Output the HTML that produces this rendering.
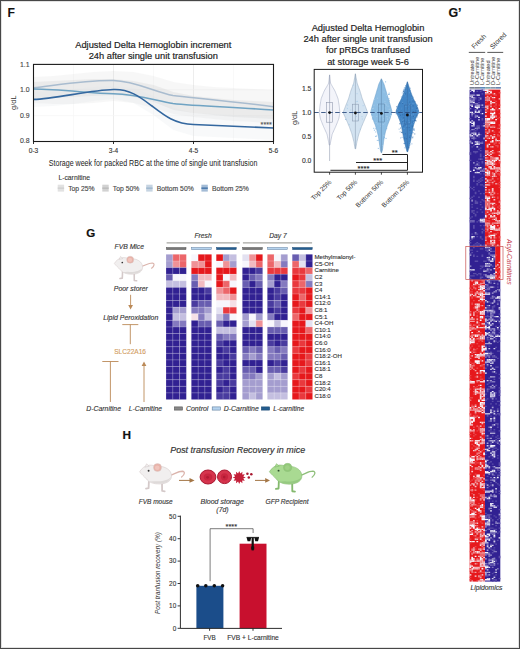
<!DOCTYPE html>
<html><head><meta charset="utf-8"><style>
html,body{margin:0;padding:0;background:#fff;}
svg{display:block;font-family:'Liberation Sans', sans-serif;}
html,body{overflow:hidden;}
</style></head><body>
<svg width="520" height="649" viewBox="0 0 520 649" shape-rendering="auto">
<rect x="0" y="0" width="520" height="649" fill="#fff"/>
<text x="153.3" y="47.9" font-size="9.3" text-anchor="middle" fill="#222" stroke="#222" stroke-width="0.18" font-style="normal" font-weight="normal" >Adjusted Delta Hemoglobin increment</text>
<text x="153.3" y="58.5" font-size="9.3" text-anchor="middle" fill="#222" stroke="#222" stroke-width="0.18" font-style="normal" font-weight="normal" >24h after single unit transfusion</text>
<line x1="73.5" y1="64.4" x2="73.5" y2="141.5" stroke="#f7f7f7" stroke-width="0.8"/>
<line x1="113.5" y1="64.4" x2="113.5" y2="141.5" stroke="#e9e9e9" stroke-width="0.8"/>
<line x1="153.5" y1="64.4" x2="153.5" y2="141.5" stroke="#f7f7f7" stroke-width="0.8"/>
<line x1="193.5" y1="64.4" x2="193.5" y2="141.5" stroke="#e9e9e9" stroke-width="0.8"/>
<line x1="233.5" y1="64.4" x2="233.5" y2="141.5" stroke="#f7f7f7" stroke-width="0.8"/>
<line x1="33.5" y1="89.8" x2="273.5" y2="89.8" stroke="#f6f6f6" stroke-width="0.7"/>
<line x1="33.5" y1="115.6" x2="273.5" y2="115.6" stroke="#f6f6f6" stroke-width="0.7"/>
<path d="M33.5,77 L53.5,76 L73.5,74 L93.5,72 L113.5,71 L133.5,72 L153.5,76 L173.5,82 L193.5,85 L213.5,87 L233.5,88 L253.5,89 L273.5,90 L273.5,124 L253.5,122 L233.5,121 L213.5,119 L193.5,117 L173.5,114 L153.5,108 L133.5,103 L113.5,101 L93.5,103 L73.5,104 L53.5,104 L33.5,103 Z" fill="#cccccc" fill-opacity="0.16"/>
<path d="M33.5,82 L53.5,81 L73.5,80 L93.5,79 L113.5,79 L133.5,81 L153.5,85 L173.5,92 L193.5,96 L213.5,98 L233.5,100 L253.5,101 L273.5,102 L273.5,119 L253.5,118 L233.5,117 L213.5,115 L193.5,113 L173.5,110 L153.5,102 L133.5,97 L113.5,95 L93.5,96 L73.5,97 L53.5,98 L33.5,98 Z" fill="#c0c0c0" fill-opacity="0.2"/>
<path d="M33.5,92 L53.5,91 L73.5,89 L93.5,87 L113.5,86 L133.5,88 L153.5,96 L173.5,108 L193.5,113 L213.5,114 L233.5,115 L253.5,116 L273.5,117 L273.5,140 L253.5,139 L233.5,138 L213.5,137 L193.5,136 L173.5,130 L153.5,115 L133.5,103 L113.5,99 L93.5,101 L73.5,104 L53.5,106 L33.5,107 Z" fill="#dde2ea" fill-opacity="0.22"/>
<path d="M33.5,87.8 C55,85.5 85,80 113.5,80.5 C135,81 155,92 173,95.5 C195,98 230,101 273.5,106.8" fill="none" stroke="#a9bccf" stroke-width="1.5"/>
<path d="M33.5,89.1 C60,89.5 90,93 113.5,93.8 C135,94.5 150,99 173,103.5 C195,106 230,107 273.5,110" fill="none" stroke="#6fa3c3" stroke-width="1.5"/>
<path d="M33.5,99.4 C55,99 90,90 113.5,89.5 C130,89 140,97 152,106 C165,116 175,124 193.5,124.5 C220,125.5 250,127 273.5,128" fill="none" stroke="#33679f" stroke-width="1.6"/>
<rect x="33.5" y="64.4" width="240.0" height="77.1" fill="none" stroke="#1a1a1a" stroke-width="1.1"/>
<text x="29.6" y="66.7" font-size="6.9" text-anchor="end" fill="#444" stroke="#444" stroke-width="0.12" font-style="normal" font-weight="normal" >1.1</text>
<text x="29.6" y="92.1" font-size="6.9" text-anchor="end" fill="#444" stroke="#444" stroke-width="0.12" font-style="normal" font-weight="normal" >1.0</text>
<text x="29.6" y="117.5" font-size="6.9" text-anchor="end" fill="#444" stroke="#444" stroke-width="0.12" font-style="normal" font-weight="normal" >0.9</text>
<text x="29.6" y="142.9" font-size="6.9" text-anchor="end" fill="#444" stroke="#444" stroke-width="0.12" font-style="normal" font-weight="normal" >0.8</text>
<text x="0" y="0" font-size="7.4" fill="#333" text-anchor="middle" transform="translate(15.9,102.7) rotate(-90)">g/dL</text>
<line x1="33.5" y1="141.5" x2="33.5" y2="144.0" stroke="#1a1a1a" stroke-width="0.9"/>
<text x="33.5" y="152.9" font-size="6.6" text-anchor="middle" fill="#333" stroke="#333" stroke-width="0.12" font-style="normal" font-weight="normal" >0-3</text>
<line x1="113.5" y1="141.5" x2="113.5" y2="144.0" stroke="#1a1a1a" stroke-width="0.9"/>
<text x="113.5" y="152.9" font-size="6.6" text-anchor="middle" fill="#333" stroke="#333" stroke-width="0.12" font-style="normal" font-weight="normal" >3-4</text>
<line x1="193.5" y1="141.5" x2="193.5" y2="144.0" stroke="#1a1a1a" stroke-width="0.9"/>
<text x="193.5" y="152.9" font-size="6.6" text-anchor="middle" fill="#333" stroke="#333" stroke-width="0.12" font-style="normal" font-weight="normal" >4-5</text>
<line x1="273.5" y1="141.5" x2="273.5" y2="144.0" stroke="#1a1a1a" stroke-width="0.9"/>
<text x="273.5" y="152.9" font-size="6.6" text-anchor="middle" fill="#333" stroke="#333" stroke-width="0.12" font-style="normal" font-weight="normal" >5-6</text>
<text x="266.2" y="127.2" font-size="7.2" text-anchor="middle" fill="#555" stroke="#555" stroke-width="0.12" font-style="normal" font-weight="normal" >****</text>
<text x="0" y="0" font-size="8.9" fill="#222" transform="translate(48.8,165.7) scale(0.797,1)">Storage week for packed RBC at the time of single unit transfusion</text>
<text x="58.4" y="180.1" font-size="6.8" text-anchor="start" fill="#3a3a3a" stroke="#3a3a3a" stroke-width="0.12" font-style="normal" font-weight="normal" >L-carnitine</text>
<rect x="57.7" y="184.7" width="6.4" height="6.9" fill="#e2e2e2"/>
<line x1="57.7" y1="188.15" x2="64.10000000000001" y2="188.15" stroke="#cfcfcf" stroke-width="1.3"/>
<text x="68.2" y="190.6" font-size="6.8" text-anchor="start" fill="#444" stroke="#444" stroke-width="0.12" font-style="normal" font-weight="normal" >Top 25%</text>
<rect x="102.3" y="184.7" width="6.4" height="6.9" fill="#d2d2d2"/>
<line x1="102.3" y1="188.15" x2="108.7" y2="188.15" stroke="#b8b8b8" stroke-width="1.3"/>
<text x="112.8" y="190.6" font-size="6.8" text-anchor="start" fill="#444" stroke="#444" stroke-width="0.12" font-style="normal" font-weight="normal" >Top 50%</text>
<rect x="146.2" y="184.7" width="6.4" height="6.9" fill="#c6d4e2"/>
<line x1="146.2" y1="188.15" x2="152.6" y2="188.15" stroke="#9ab4cc" stroke-width="1.3"/>
<text x="156.7" y="190.6" font-size="6.8" text-anchor="start" fill="#444" stroke="#444" stroke-width="0.12" font-style="normal" font-weight="normal" >Bottom 50%</text>
<rect x="201.4" y="184.7" width="6.4" height="6.9" fill="#a4bcd6"/>
<line x1="201.4" y1="188.15" x2="207.8" y2="188.15" stroke="#3a6ca4" stroke-width="1.3"/>
<text x="211.9" y="190.6" font-size="6.8" text-anchor="start" fill="#444" stroke="#444" stroke-width="0.12" font-style="normal" font-weight="normal" >Bottom 25%</text>
<text x="368" y="31.0" font-size="9.3" text-anchor="middle" fill="#222" stroke="#222" stroke-width="0.18" font-style="normal" font-weight="normal" >Adjusted Delta Hemoglobin</text>
<text x="368" y="42.2" font-size="9.3" text-anchor="middle" fill="#222" stroke="#222" stroke-width="0.18" font-style="normal" font-weight="normal" >24h after single unit transfusion</text>
<text x="368" y="53.4" font-size="9.3" text-anchor="middle" fill="#222" stroke="#222" stroke-width="0.18" font-style="normal" font-weight="normal" >for pRBCs tranfused</text>
<text x="368" y="64.6" font-size="9.3" text-anchor="middle" fill="#222" stroke="#222" stroke-width="0.18" font-style="normal" font-weight="normal" >at storage week 5-6</text>
<path d="M329.60,74.90 L329.74,76.07 L329.87,77.24 L330.01,78.41 L330.15,79.57 L330.29,80.74 L330.42,81.91 L330.56,83.08 L331.09,84.25 L331.77,85.42 L332.44,86.58 L333.12,87.75 L333.80,88.92 L334.47,90.09 L335.10,91.26 L335.57,92.43 L336.03,93.59 L336.50,94.76 L336.96,95.93 L337.42,97.10 L337.89,98.27 L338.20,99.44 L338.38,100.60 L338.56,101.77 L338.75,102.94 L338.93,104.11 L339.11,105.28 L339.29,106.45 L339.41,107.61 L339.52,108.78 L339.64,109.95 L339.75,111.12 L339.87,112.29 L339.75,113.45 L339.54,114.62 L339.33,115.79 L339.13,116.96 L338.92,118.13 L338.60,119.30 L338.13,120.47 L337.66,121.63 L337.19,122.80 L336.72,123.97 L336.25,125.14 L335.78,126.31 L335.26,127.47 L334.73,128.64 L334.19,129.81 L333.66,130.98 L333.13,132.15 L332.60,133.32 L332.14,134.49 L331.89,135.65 L331.65,136.82 L331.40,137.99 L331.16,139.16 L330.91,140.33 L330.66,141.50 L330.44,142.66 L330.22,143.83 L330.00,145.00 L329.20,145.00 L328.98,143.83 L328.76,142.66 L328.54,141.50 L328.29,140.33 L328.04,139.16 L327.80,137.99 L327.55,136.82 L327.31,135.65 L327.06,134.49 L326.60,133.32 L326.07,132.15 L325.54,130.98 L325.01,129.81 L324.47,128.64 L323.94,127.47 L323.42,126.31 L322.95,125.14 L322.48,123.97 L322.01,122.80 L321.54,121.63 L321.07,120.47 L320.60,119.30 L320.28,118.13 L320.07,116.96 L319.87,115.79 L319.66,114.62 L319.45,113.45 L319.33,112.29 L319.45,111.12 L319.56,109.95 L319.68,108.78 L319.79,107.61 L319.91,106.45 L320.09,105.28 L320.27,104.11 L320.45,102.94 L320.64,101.77 L320.82,100.60 L321.00,99.44 L321.31,98.27 L321.78,97.10 L322.24,95.93 L322.70,94.76 L323.17,93.59 L323.63,92.43 L324.10,91.26 L324.73,90.09 L325.40,88.92 L326.08,87.75 L326.76,86.58 L327.43,85.42 L328.11,84.25 L328.64,83.08 L328.78,81.91 L328.91,80.74 L329.05,79.57 L329.19,78.41 L329.33,77.24 L329.46,76.07 L329.60,74.90 Z" fill="#f3f4fa" stroke="#aab2c8" stroke-width="0.6" stroke-linejoin="round"/>
<line x1="329.6" y1="74.9" x2="329.6" y2="161.0" stroke="#8a93a8" stroke-width="0.55"/>
<rect x="326.70000000000005" y="102.6" width="5.8" height="19.60000000000001" fill="none" stroke="#8a93a8" stroke-width="0.55"/>
<path d="M355.40,73.80 L355.63,75.05 L355.87,76.30 L356.10,77.55 L356.34,78.80 L356.57,80.05 L356.81,81.30 L357.04,82.55 L357.35,83.80 L357.81,85.05 L358.27,86.30 L358.73,87.55 L359.19,88.80 L359.65,90.05 L360.09,91.30 L360.46,92.55 L360.83,93.80 L361.19,95.05 L361.56,96.30 L361.93,97.55 L362.30,98.80 L362.80,100.05 L363.31,101.30 L363.81,102.55 L364.31,103.80 L364.82,105.05 L365.32,106.30 L365.80,107.55 L366.27,108.80 L366.74,110.05 L367.21,111.30 L367.68,112.55 L367.16,113.80 L366.59,115.05 L366.03,116.30 L365.46,117.55 L364.90,118.80 L364.36,120.05 L363.83,121.30 L363.29,122.55 L362.76,123.80 L362.22,125.05 L361.69,126.30 L361.22,127.55 L360.76,128.80 L360.31,130.05 L359.85,131.30 L359.40,132.55 L358.95,133.80 L358.59,135.05 L358.27,136.30 L357.96,137.55 L357.65,138.80 L357.34,140.05 L357.02,141.30 L356.77,142.55 L356.56,143.80 L356.34,145.05 L356.13,146.30 L355.91,147.55 L355.70,148.80 L355.10,148.80 L354.89,147.55 L354.67,146.30 L354.46,145.05 L354.24,143.80 L354.03,142.55 L353.77,141.30 L353.46,140.05 L353.15,138.80 L352.84,137.55 L352.52,136.30 L352.21,135.05 L351.85,133.80 L351.40,132.55 L350.95,131.30 L350.49,130.05 L350.04,128.80 L349.58,127.55 L349.11,126.30 L348.58,125.05 L348.04,123.80 L347.51,122.55 L346.97,121.30 L346.44,120.05 L345.90,118.80 L345.34,117.55 L344.77,116.30 L344.21,115.05 L343.64,113.80 L343.12,112.55 L343.59,111.30 L344.06,110.05 L344.53,108.80 L345.00,107.55 L345.48,106.30 L345.98,105.05 L346.49,103.80 L346.99,102.55 L347.49,101.30 L348.00,100.05 L348.50,98.80 L348.87,97.55 L349.24,96.30 L349.61,95.05 L349.97,93.80 L350.34,92.55 L350.71,91.30 L351.15,90.05 L351.61,88.80 L352.07,87.55 L352.53,86.30 L352.99,85.05 L353.45,83.80 L353.76,82.55 L353.99,81.30 L354.23,80.05 L354.46,78.80 L354.70,77.55 L354.93,76.30 L355.17,75.05 L355.40,73.80 Z" fill="#d3e3f1" stroke="#9fb4c8" stroke-width="0.6" stroke-linejoin="round"/>
<rect x="345.1" y="118.9" width="1.1" height="1.1" fill="#7fb3df" fill-opacity="0.7"/>
<rect x="350.2" y="109.5" width="1.1" height="1.1" fill="#a9cdea" fill-opacity="0.7"/>
<rect x="347.0" y="104.5" width="1.1" height="1.1" fill="#a9cdea" fill-opacity="0.7"/>
<rect x="359.3" y="111.1" width="1.1" height="1.1" fill="#a9cdea" fill-opacity="0.7"/>
<rect x="356.9" y="100.8" width="1.1" height="1.1" fill="#a9cdea" fill-opacity="0.7"/>
<rect x="357.5" y="119.7" width="1.1" height="1.1" fill="#a9cdea" fill-opacity="0.7"/>
<rect x="356.2" y="101.1" width="1.1" height="1.1" fill="#a9cdea" fill-opacity="0.7"/>
<rect x="356.5" y="93.1" width="1.1" height="1.1" fill="#a9cdea" fill-opacity="0.7"/>
<rect x="348.8" y="124.0" width="1.1" height="1.1" fill="#a9cdea" fill-opacity="0.7"/>
<rect x="362.6" y="105.1" width="1.1" height="1.1" fill="#a9cdea" fill-opacity="0.7"/>
<rect x="359.8" y="128.6" width="1.1" height="1.1" fill="#a9cdea" fill-opacity="0.7"/>
<rect x="361.4" y="116.0" width="1.1" height="1.1" fill="#a9cdea" fill-opacity="0.7"/>
<rect x="352.8" y="84.8" width="1.1" height="1.1" fill="#a9cdea" fill-opacity="0.7"/>
<rect x="355.9" y="115.9" width="1.1" height="1.1" fill="#a9cdea" fill-opacity="0.7"/>
<rect x="346.9" y="107.9" width="1.1" height="1.1" fill="#a9cdea" fill-opacity="0.7"/>
<rect x="361.8" y="118.5" width="1.1" height="1.1" fill="#a9cdea" fill-opacity="0.7"/>
<line x1="355.4" y1="73.8" x2="355.4" y2="148.8" stroke="#8a9ab0" stroke-width="0.55"/>
<rect x="352.5" y="104.2" width="5.8" height="16.799999999999997" fill="none" stroke="#8a9ab0" stroke-width="0.55"/>
<path d="M381.40,78.80 L382.00,80.03 L382.61,81.26 L383.21,82.49 L383.81,83.72 L384.21,84.95 L384.57,86.18 L384.94,87.41 L385.30,88.64 L385.67,89.87 L386.03,91.10 L386.40,92.33 L386.76,93.56 L387.13,94.79 L387.50,96.02 L387.87,97.25 L388.24,98.48 L388.61,99.71 L388.99,100.94 L389.36,102.17 L389.73,103.40 L390.11,104.63 L390.45,105.86 L390.79,107.09 L391.12,108.32 L391.46,109.55 L391.80,110.78 L391.86,112.01 L391.53,113.24 L391.19,114.47 L390.86,115.70 L390.53,116.93 L390.19,118.16 L389.75,119.39 L389.27,120.62 L388.79,121.85 L388.31,123.08 L387.83,124.31 L387.36,125.54 L386.98,126.77 L386.61,128.00 L386.23,129.23 L385.86,130.46 L385.49,131.69 L385.18,132.92 L384.93,134.15 L384.68,135.38 L384.44,136.61 L384.19,137.84 L383.95,139.07 L383.76,140.30 L383.60,141.53 L383.43,142.76 L383.26,143.99 L383.09,145.22 L382.92,146.45 L382.76,147.68 L382.59,148.91 L382.42,150.14 L382.07,151.37 L381.70,152.60 L381.10,152.60 L380.73,151.37 L380.38,150.14 L380.21,148.91 L380.04,147.68 L379.88,146.45 L379.71,145.22 L379.54,143.99 L379.37,142.76 L379.20,141.53 L379.04,140.30 L378.85,139.07 L378.61,137.84 L378.36,136.61 L378.12,135.38 L377.87,134.15 L377.62,132.92 L377.31,131.69 L376.94,130.46 L376.57,129.23 L376.19,128.00 L375.82,126.77 L375.44,125.54 L374.97,124.31 L374.49,123.08 L374.01,121.85 L373.53,120.62 L373.05,119.39 L372.61,118.16 L372.27,116.93 L371.94,115.70 L371.61,114.47 L371.27,113.24 L370.94,112.01 L371.00,110.78 L371.34,109.55 L371.68,108.32 L372.01,107.09 L372.35,105.86 L372.69,104.63 L373.07,103.40 L373.44,102.17 L373.81,100.94 L374.19,99.71 L374.56,98.48 L374.93,97.25 L375.30,96.02 L375.67,94.79 L376.04,93.56 L376.40,92.33 L376.77,91.10 L377.13,89.87 L377.50,88.64 L377.86,87.41 L378.23,86.18 L378.59,84.95 L378.99,83.72 L379.59,82.49 L380.19,81.26 L380.80,80.03 L381.40,78.80 Z" fill="#8cbde3" stroke="#6ea3cf" stroke-width="0.6" stroke-linejoin="round"/>
<rect x="385.4" y="113.1" width="1.1" height="1.1" fill="#a9cdea" fill-opacity="0.7"/>
<rect x="386.8" y="112.0" width="1.1" height="1.1" fill="#a9cdea" fill-opacity="0.7"/>
<rect x="383.5" y="112.1" width="1.1" height="1.1" fill="#a9cdea" fill-opacity="0.7"/>
<rect x="387.7" y="111.5" width="1.1" height="1.1" fill="#a9cdea" fill-opacity="0.7"/>
<rect x="388.7" y="93.9" width="1.1" height="1.1" fill="#7fb3df" fill-opacity="0.7"/>
<rect x="389.2" y="116.8" width="1.1" height="1.1" fill="#a9cdea" fill-opacity="0.7"/>
<rect x="388.3" y="98.0" width="1.1" height="1.1" fill="#7fb3df" fill-opacity="0.7"/>
<rect x="373.3" y="100.4" width="1.1" height="1.1" fill="#a9cdea" fill-opacity="0.7"/>
<rect x="390.9" y="114.0" width="1.1" height="1.1" fill="#7fb3df" fill-opacity="0.7"/>
<rect x="386.7" y="116.0" width="1.1" height="1.1" fill="#a9cdea" fill-opacity="0.7"/>
<rect x="373.8" y="99.0" width="1.1" height="1.1" fill="#a9cdea" fill-opacity="0.7"/>
<rect x="377.0" y="104.3" width="1.1" height="1.1" fill="#a9cdea" fill-opacity="0.7"/>
<rect x="371.0" y="114.2" width="1.1" height="1.1" fill="#7fb3df" fill-opacity="0.7"/>
<rect x="383.3" y="118.1" width="1.1" height="1.1" fill="#a9cdea" fill-opacity="0.7"/>
<rect x="375.2" y="131.4" width="1.1" height="1.1" fill="#7fb3df" fill-opacity="0.7"/>
<rect x="389.6" y="108.6" width="1.1" height="1.1" fill="#a9cdea" fill-opacity="0.7"/>
<rect x="373.9" y="129.7" width="1.1" height="1.1" fill="#7fb3df" fill-opacity="0.7"/>
<rect x="386.1" y="104.5" width="1.1" height="1.1" fill="#a9cdea" fill-opacity="0.7"/>
<rect x="390.0" y="114.9" width="1.1" height="1.1" fill="#a9cdea" fill-opacity="0.7"/>
<rect x="372.9" y="107.8" width="1.1" height="1.1" fill="#a9cdea" fill-opacity="0.7"/>
<rect x="384.3" y="107.4" width="1.1" height="1.1" fill="#a9cdea" fill-opacity="0.7"/>
<rect x="386.1" y="128.0" width="1.1" height="1.1" fill="#7fb3df" fill-opacity="0.7"/>
<rect x="377.3" y="123.4" width="1.1" height="1.1" fill="#a9cdea" fill-opacity="0.7"/>
<rect x="388.6" y="92.6" width="1.1" height="1.1" fill="#7fb3df" fill-opacity="0.7"/>
<rect x="387.0" y="119.0" width="1.1" height="1.1" fill="#a9cdea" fill-opacity="0.7"/>
<rect x="387.5" y="105.7" width="1.1" height="1.1" fill="#a9cdea" fill-opacity="0.7"/>
<rect x="381.6" y="145.0" width="1.1" height="1.1" fill="#a9cdea" fill-opacity="0.7"/>
<rect x="377.0" y="97.7" width="1.1" height="1.1" fill="#a9cdea" fill-opacity="0.7"/>
<rect x="373.2" y="127.8" width="1.1" height="1.1" fill="#7fb3df" fill-opacity="0.7"/>
<rect x="385.5" y="137.9" width="1.1" height="1.1" fill="#7fb3df" fill-opacity="0.7"/>
<rect x="383.9" y="137.0" width="1.1" height="1.1" fill="#7fb3df" fill-opacity="0.7"/>
<rect x="375.2" y="128.2" width="1.1" height="1.1" fill="#7fb3df" fill-opacity="0.7"/>
<rect x="370.9" y="110.4" width="1.1" height="1.1" fill="#a9cdea" fill-opacity="0.7"/>
<rect x="386.0" y="116.0" width="1.1" height="1.1" fill="#a9cdea" fill-opacity="0.7"/>
<rect x="380.0" y="123.5" width="1.1" height="1.1" fill="#a9cdea" fill-opacity="0.7"/>
<rect x="375.6" y="122.0" width="1.1" height="1.1" fill="#a9cdea" fill-opacity="0.7"/>
<rect x="385.2" y="103.4" width="1.1" height="1.1" fill="#a9cdea" fill-opacity="0.7"/>
<rect x="386.8" y="117.6" width="1.1" height="1.1" fill="#a9cdea" fill-opacity="0.7"/>
<rect x="372.0" y="108.0" width="1.1" height="1.1" fill="#a9cdea" fill-opacity="0.7"/>
<rect x="388.0" y="93.9" width="1.1" height="1.1" fill="#7fb3df" fill-opacity="0.7"/>
<rect x="375.1" y="135.9" width="1.1" height="1.1" fill="#7fb3df" fill-opacity="0.7"/>
<rect x="381.2" y="115.6" width="1.1" height="1.1" fill="#a9cdea" fill-opacity="0.7"/>
<rect x="372.1" y="115.8" width="1.1" height="1.1" fill="#a9cdea" fill-opacity="0.7"/>
<rect x="380.2" y="116.2" width="1.1" height="1.1" fill="#a9cdea" fill-opacity="0.7"/>
<rect x="383.5" y="91.4" width="1.1" height="1.1" fill="#a9cdea" fill-opacity="0.7"/>
<rect x="384.4" y="100.8" width="1.1" height="1.1" fill="#a9cdea" fill-opacity="0.7"/>
<rect x="381.0" y="112.2" width="1.1" height="1.1" fill="#a9cdea" fill-opacity="0.7"/>
<rect x="388.6" y="109.0" width="1.1" height="1.1" fill="#a9cdea" fill-opacity="0.7"/>
<rect x="385.9" y="94.6" width="1.1" height="1.1" fill="#a9cdea" fill-opacity="0.7"/>
<rect x="385.0" y="81.3" width="1.1" height="1.1" fill="#7fb3df" fill-opacity="0.7"/>
<rect x="384.3" y="103.0" width="1.1" height="1.1" fill="#a9cdea" fill-opacity="0.7"/>
<rect x="377.8" y="147.9" width="1.1" height="1.1" fill="#7fb3df" fill-opacity="0.7"/>
<rect x="389.0" y="117.5" width="1.1" height="1.1" fill="#a9cdea" fill-opacity="0.7"/>
<rect x="378.2" y="105.9" width="1.1" height="1.1" fill="#a9cdea" fill-opacity="0.7"/>
<rect x="376.2" y="115.9" width="1.1" height="1.1" fill="#a9cdea" fill-opacity="0.7"/>
<rect x="378.0" y="139.7" width="1.1" height="1.1" fill="#7fb3df" fill-opacity="0.7"/>
<rect x="371.9" y="118.4" width="1.1" height="1.1" fill="#7fb3df" fill-opacity="0.7"/>
<rect x="384.2" y="122.4" width="1.1" height="1.1" fill="#a9cdea" fill-opacity="0.7"/>
<rect x="376.8" y="139.9" width="1.1" height="1.1" fill="#7fb3df" fill-opacity="0.7"/>
<rect x="381.8" y="110.3" width="1.1" height="1.1" fill="#a9cdea" fill-opacity="0.7"/>
<rect x="388.7" y="99.8" width="1.1" height="1.1" fill="#7fb3df" fill-opacity="0.7"/>
<rect x="383.3" y="134.8" width="1.1" height="1.1" fill="#a9cdea" fill-opacity="0.7"/>
<rect x="382.7" y="123.9" width="1.1" height="1.1" fill="#a9cdea" fill-opacity="0.7"/>
<rect x="373.5" y="104.6" width="1.1" height="1.1" fill="#a9cdea" fill-opacity="0.7"/>
<rect x="380.0" y="125.7" width="1.1" height="1.1" fill="#a9cdea" fill-opacity="0.7"/>
<rect x="389.3" y="111.2" width="1.1" height="1.1" fill="#a9cdea" fill-opacity="0.7"/>
<rect x="375.9" y="135.5" width="1.1" height="1.1" fill="#7fb3df" fill-opacity="0.7"/>
<rect x="371.1" y="112.9" width="1.1" height="1.1" fill="#a9cdea" fill-opacity="0.7"/>
<line x1="381.4" y1="78.8" x2="381.4" y2="152.6" stroke="#5f86ab" stroke-width="0.55"/>
<rect x="378.5" y="104.0" width="5.8" height="18.0" fill="none" stroke="#5f86ab" stroke-width="0.55"/>
<path d="M407.40,81.80 L407.78,82.97 L408.16,84.13 L408.54,85.30 L408.92,86.47 L409.30,87.63 L409.68,88.80 L410.06,89.97 L410.45,91.13 L410.89,92.30 L411.32,93.47 L411.76,94.63 L412.19,95.80 L412.63,96.97 L413.12,98.13 L413.71,99.30 L414.30,100.47 L414.90,101.63 L415.49,102.80 L416.08,103.97 L416.59,105.13 L417.02,106.30 L417.44,107.47 L417.86,108.63 L418.28,109.80 L418.71,110.97 L418.61,112.13 L418.08,113.30 L417.54,114.47 L417.01,115.63 L416.48,116.80 L415.94,117.97 L415.49,119.13 L415.10,120.30 L414.71,121.47 L414.32,122.63 L413.93,123.80 L413.54,124.97 L413.27,126.13 L413.07,127.30 L412.87,128.47 L412.66,129.63 L412.46,130.80 L412.26,131.97 L412.05,133.13 L411.83,134.30 L411.61,135.47 L411.40,136.63 L411.18,137.80 L410.96,138.97 L410.70,140.13 L410.42,141.30 L410.14,142.47 L409.86,143.63 L409.57,144.80 L409.29,145.97 L409.01,147.13 L408.70,148.30 L408.37,149.47 L408.03,150.63 L407.70,151.80 L407.10,151.80 L406.77,150.63 L406.43,149.47 L406.10,148.30 L405.79,147.13 L405.51,145.97 L405.23,144.80 L404.94,143.63 L404.66,142.47 L404.38,141.30 L404.10,140.13 L403.84,138.97 L403.62,137.80 L403.40,136.63 L403.19,135.47 L402.97,134.30 L402.75,133.13 L402.54,131.97 L402.34,130.80 L402.14,129.63 L401.93,128.47 L401.73,127.30 L401.53,126.13 L401.26,124.97 L400.87,123.80 L400.48,122.63 L400.09,121.47 L399.70,120.30 L399.31,119.13 L398.86,117.97 L398.32,116.80 L397.79,115.63 L397.26,114.47 L396.72,113.30 L396.19,112.13 L396.09,110.97 L396.52,109.80 L396.94,108.63 L397.36,107.47 L397.78,106.30 L398.21,105.13 L398.72,103.97 L399.31,102.80 L399.90,101.63 L400.50,100.47 L401.09,99.30 L401.68,98.13 L402.17,96.97 L402.61,95.80 L403.04,94.63 L403.48,93.47 L403.91,92.30 L404.35,91.13 L404.74,89.97 L405.12,88.80 L405.50,87.63 L405.88,86.47 L406.26,85.30 L406.64,84.13 L407.02,82.97 L407.40,81.80 Z" fill="#4285c5" stroke="#3370ad" stroke-width="0.6" stroke-linejoin="round"/>
<rect x="409.4" y="135.0" width="1.1" height="1.1" fill="#2c64a4" fill-opacity="0.6"/>
<rect x="406.4" y="126.8" width="1.1" height="1.1" fill="#2c64a4" fill-opacity="0.6"/>
<rect x="412.8" y="119.2" width="1.1" height="1.1" fill="#6ea4d8" fill-opacity="0.6"/>
<rect x="402.9" y="117.3" width="1.1" height="1.1" fill="#2c64a4" fill-opacity="0.6"/>
<rect x="416.2" y="108.5" width="1.1" height="1.1" fill="#5a96d0" fill-opacity="0.6"/>
<rect x="414.0" y="115.9" width="1.1" height="1.1" fill="#5a96d0" fill-opacity="0.6"/>
<rect x="408.0" y="105.0" width="1.1" height="1.1" fill="#5a96d0" fill-opacity="0.6"/>
<rect x="414.3" y="101.0" width="1.1" height="1.1" fill="#2c64a4" fill-opacity="0.6"/>
<rect x="409.6" y="115.5" width="1.1" height="1.1" fill="#5a96d0" fill-opacity="0.6"/>
<rect x="405.8" y="138.2" width="1.1" height="1.1" fill="#2c64a4" fill-opacity="0.6"/>
<rect x="408.3" y="147.2" width="1.1" height="1.1" fill="#2c64a4" fill-opacity="0.6"/>
<rect x="399.6" y="131.3" width="1.1" height="1.1" fill="#6ea4d8" fill-opacity="0.6"/>
<rect x="407.2" y="108.0" width="1.1" height="1.1" fill="#6ea4d8" fill-opacity="0.6"/>
<rect x="409.6" y="115.0" width="1.1" height="1.1" fill="#2c64a4" fill-opacity="0.6"/>
<rect x="409.2" y="141.9" width="1.1" height="1.1" fill="#5a96d0" fill-opacity="0.6"/>
<rect x="404.1" y="123.7" width="1.1" height="1.1" fill="#5a96d0" fill-opacity="0.6"/>
<rect x="400.7" y="111.4" width="1.1" height="1.1" fill="#6ea4d8" fill-opacity="0.6"/>
<rect x="407.0" y="110.7" width="1.1" height="1.1" fill="#5a96d0" fill-opacity="0.6"/>
<rect x="412.6" y="105.3" width="1.1" height="1.1" fill="#2c64a4" fill-opacity="0.6"/>
<rect x="404.0" y="137.5" width="1.1" height="1.1" fill="#2c64a4" fill-opacity="0.6"/>
<rect x="406.8" y="147.3" width="1.1" height="1.1" fill="#5a96d0" fill-opacity="0.6"/>
<rect x="398.6" y="128.6" width="1.1" height="1.1" fill="#6ea4d8" fill-opacity="0.6"/>
<rect x="404.1" y="103.6" width="1.1" height="1.1" fill="#5a96d0" fill-opacity="0.6"/>
<rect x="395.7" y="113.3" width="1.1" height="1.1" fill="#6ea4d8" fill-opacity="0.6"/>
<rect x="416.8" y="104.7" width="1.1" height="1.1" fill="#2c64a4" fill-opacity="0.6"/>
<rect x="396.1" y="106.2" width="1.1" height="1.1" fill="#2c64a4" fill-opacity="0.6"/>
<rect x="412.4" y="121.6" width="1.1" height="1.1" fill="#2c64a4" fill-opacity="0.6"/>
<rect x="412.4" y="103.1" width="1.1" height="1.1" fill="#6ea4d8" fill-opacity="0.6"/>
<rect x="402.9" y="90.9" width="1.1" height="1.1" fill="#2c64a4" fill-opacity="0.6"/>
<rect x="409.4" y="144.3" width="1.1" height="1.1" fill="#6ea4d8" fill-opacity="0.6"/>
<rect x="400.5" y="112.9" width="1.1" height="1.1" fill="#5a96d0" fill-opacity="0.6"/>
<rect x="409.2" y="101.5" width="1.1" height="1.1" fill="#2c64a4" fill-opacity="0.6"/>
<rect x="411.5" y="99.3" width="1.1" height="1.1" fill="#6ea4d8" fill-opacity="0.6"/>
<rect x="415.5" y="120.3" width="1.1" height="1.1" fill="#2c64a4" fill-opacity="0.6"/>
<rect x="412.4" y="100.5" width="1.1" height="1.1" fill="#2c64a4" fill-opacity="0.6"/>
<rect x="407.4" y="100.6" width="1.1" height="1.1" fill="#5a96d0" fill-opacity="0.6"/>
<rect x="404.6" y="95.5" width="1.1" height="1.1" fill="#5a96d0" fill-opacity="0.6"/>
<rect x="403.7" y="89.9" width="1.1" height="1.1" fill="#6ea4d8" fill-opacity="0.6"/>
<rect x="412.1" y="137.2" width="1.1" height="1.1" fill="#2c64a4" fill-opacity="0.6"/>
<rect x="412.0" y="111.6" width="1.1" height="1.1" fill="#2c64a4" fill-opacity="0.6"/>
<rect x="408.0" y="119.7" width="1.1" height="1.1" fill="#5a96d0" fill-opacity="0.6"/>
<rect x="404.4" y="124.6" width="1.1" height="1.1" fill="#2c64a4" fill-opacity="0.6"/>
<rect x="402.2" y="120.2" width="1.1" height="1.1" fill="#6ea4d8" fill-opacity="0.6"/>
<rect x="411.2" y="114.6" width="1.1" height="1.1" fill="#5a96d0" fill-opacity="0.6"/>
<rect x="409.3" y="120.0" width="1.1" height="1.1" fill="#5a96d0" fill-opacity="0.6"/>
<rect x="398.2" y="117.5" width="1.1" height="1.1" fill="#6ea4d8" fill-opacity="0.6"/>
<rect x="399.0" y="118.2" width="1.1" height="1.1" fill="#5a96d0" fill-opacity="0.6"/>
<rect x="402.1" y="121.2" width="1.1" height="1.1" fill="#2c64a4" fill-opacity="0.6"/>
<rect x="404.3" y="147.2" width="1.1" height="1.1" fill="#6ea4d8" fill-opacity="0.6"/>
<rect x="402.9" y="90.5" width="1.1" height="1.1" fill="#2c64a4" fill-opacity="0.6"/>
<rect x="418.0" y="113.1" width="1.1" height="1.1" fill="#5a96d0" fill-opacity="0.6"/>
<rect x="403.9" y="120.3" width="1.1" height="1.1" fill="#2c64a4" fill-opacity="0.6"/>
<rect x="401.8" y="124.6" width="1.1" height="1.1" fill="#6ea4d8" fill-opacity="0.6"/>
<rect x="413.1" y="111.0" width="1.1" height="1.1" fill="#2c64a4" fill-opacity="0.6"/>
<rect x="403.7" y="88.9" width="1.1" height="1.1" fill="#5a96d0" fill-opacity="0.6"/>
<rect x="408.6" y="127.0" width="1.1" height="1.1" fill="#2c64a4" fill-opacity="0.6"/>
<rect x="417.1" y="109.2" width="1.1" height="1.1" fill="#6ea4d8" fill-opacity="0.6"/>
<rect x="404.4" y="87.0" width="1.1" height="1.1" fill="#5a96d0" fill-opacity="0.6"/>
<rect x="405.4" y="105.8" width="1.1" height="1.1" fill="#6ea4d8" fill-opacity="0.6"/>
<rect x="400.5" y="120.4" width="1.1" height="1.1" fill="#6ea4d8" fill-opacity="0.6"/>
<rect x="410.6" y="131.4" width="1.1" height="1.1" fill="#5a96d0" fill-opacity="0.6"/>
<rect x="409.7" y="87.7" width="1.1" height="1.1" fill="#5a96d0" fill-opacity="0.6"/>
<rect x="416.5" y="116.3" width="1.1" height="1.1" fill="#2c64a4" fill-opacity="0.6"/>
<rect x="403.3" y="121.9" width="1.1" height="1.1" fill="#5a96d0" fill-opacity="0.6"/>
<rect x="405.0" y="85.2" width="1.1" height="1.1" fill="#5a96d0" fill-opacity="0.6"/>
<rect x="413.0" y="123.7" width="1.1" height="1.1" fill="#5a96d0" fill-opacity="0.6"/>
<rect x="405.1" y="114.3" width="1.1" height="1.1" fill="#2c64a4" fill-opacity="0.6"/>
<rect x="407.0" y="107.7" width="1.1" height="1.1" fill="#2c64a4" fill-opacity="0.6"/>
<rect x="410.4" y="123.4" width="1.1" height="1.1" fill="#6ea4d8" fill-opacity="0.6"/>
<rect x="403.7" y="93.6" width="1.1" height="1.1" fill="#6ea4d8" fill-opacity="0.6"/>
<rect x="409.9" y="90.3" width="1.1" height="1.1" fill="#5a96d0" fill-opacity="0.6"/>
<rect x="413.4" y="128.2" width="1.1" height="1.1" fill="#6ea4d8" fill-opacity="0.6"/>
<rect x="405.7" y="121.6" width="1.1" height="1.1" fill="#2c64a4" fill-opacity="0.6"/>
<rect x="410.8" y="97.2" width="1.1" height="1.1" fill="#5a96d0" fill-opacity="0.6"/>
<rect x="403.5" y="127.9" width="1.1" height="1.1" fill="#6ea4d8" fill-opacity="0.6"/>
<rect x="399.5" y="123.6" width="1.1" height="1.1" fill="#6ea4d8" fill-opacity="0.6"/>
<rect x="414.6" y="119.9" width="1.1" height="1.1" fill="#2c64a4" fill-opacity="0.6"/>
<rect x="403.9" y="143.0" width="1.1" height="1.1" fill="#2c64a4" fill-opacity="0.6"/>
<rect x="406.3" y="115.6" width="1.1" height="1.1" fill="#2c64a4" fill-opacity="0.6"/>
<rect x="406.6" y="97.7" width="1.1" height="1.1" fill="#5a96d0" fill-opacity="0.6"/>
<rect x="416.1" y="107.9" width="1.1" height="1.1" fill="#2c64a4" fill-opacity="0.6"/>
<rect x="411.8" y="125.6" width="1.1" height="1.1" fill="#2c64a4" fill-opacity="0.6"/>
<rect x="412.3" y="107.6" width="1.1" height="1.1" fill="#5a96d0" fill-opacity="0.6"/>
<rect x="399.4" y="102.6" width="1.1" height="1.1" fill="#2c64a4" fill-opacity="0.6"/>
<rect x="399.0" y="117.2" width="1.1" height="1.1" fill="#5a96d0" fill-opacity="0.6"/>
<rect x="404.6" y="123.6" width="1.1" height="1.1" fill="#2c64a4" fill-opacity="0.6"/>
<rect x="403.4" y="142.9" width="1.1" height="1.1" fill="#6ea4d8" fill-opacity="0.6"/>
<rect x="400.7" y="108.4" width="1.1" height="1.1" fill="#5a96d0" fill-opacity="0.6"/>
<rect x="415.0" y="110.4" width="1.1" height="1.1" fill="#2c64a4" fill-opacity="0.6"/>
<rect x="405.7" y="90.3" width="1.1" height="1.1" fill="#5a96d0" fill-opacity="0.6"/>
<rect x="401.0" y="118.4" width="1.1" height="1.1" fill="#5a96d0" fill-opacity="0.6"/>
<rect x="407.2" y="116.0" width="1.1" height="1.1" fill="#5a96d0" fill-opacity="0.6"/>
<rect x="398.1" y="115.1" width="1.1" height="1.1" fill="#6ea4d8" fill-opacity="0.6"/>
<rect x="395.7" y="112.5" width="1.1" height="1.1" fill="#6ea4d8" fill-opacity="0.6"/>
<rect x="399.4" y="123.0" width="1.1" height="1.1" fill="#2c64a4" fill-opacity="0.6"/>
<rect x="404.8" y="133.3" width="1.1" height="1.1" fill="#2c64a4" fill-opacity="0.6"/>
<rect x="413.2" y="128.7" width="1.1" height="1.1" fill="#2c64a4" fill-opacity="0.6"/>
<rect x="409.7" y="119.3" width="1.1" height="1.1" fill="#2c64a4" fill-opacity="0.6"/>
<rect x="410.6" y="107.7" width="1.1" height="1.1" fill="#2c64a4" fill-opacity="0.6"/>
<rect x="412.3" y="136.2" width="1.1" height="1.1" fill="#6ea4d8" fill-opacity="0.6"/>
<rect x="408.9" y="113.7" width="1.1" height="1.1" fill="#6ea4d8" fill-opacity="0.6"/>
<rect x="397.0" y="108.7" width="1.1" height="1.1" fill="#6ea4d8" fill-opacity="0.6"/>
<rect x="413.1" y="129.6" width="1.1" height="1.1" fill="#6ea4d8" fill-opacity="0.6"/>
<rect x="411.3" y="143.3" width="1.1" height="1.1" fill="#6ea4d8" fill-opacity="0.6"/>
<rect x="410.3" y="104.9" width="1.1" height="1.1" fill="#6ea4d8" fill-opacity="0.6"/>
<rect x="399.2" y="117.8" width="1.1" height="1.1" fill="#5a96d0" fill-opacity="0.6"/>
<rect x="404.8" y="93.3" width="1.1" height="1.1" fill="#2c64a4" fill-opacity="0.6"/>
<rect x="410.0" y="104.1" width="1.1" height="1.1" fill="#2c64a4" fill-opacity="0.6"/>
<rect x="409.7" y="118.9" width="1.1" height="1.1" fill="#5a96d0" fill-opacity="0.6"/>
<rect x="417.1" y="107.5" width="1.1" height="1.1" fill="#2c64a4" fill-opacity="0.6"/>
<rect x="402.4" y="111.7" width="1.1" height="1.1" fill="#5a96d0" fill-opacity="0.6"/>
<rect x="401.3" y="107.4" width="1.1" height="1.1" fill="#5a96d0" fill-opacity="0.6"/>
<rect x="403.9" y="118.1" width="1.1" height="1.1" fill="#5a96d0" fill-opacity="0.6"/>
<rect x="408.9" y="103.7" width="1.1" height="1.1" fill="#5a96d0" fill-opacity="0.6"/>
<rect x="414.5" y="120.0" width="1.1" height="1.1" fill="#2c64a4" fill-opacity="0.6"/>
<rect x="414.2" y="133.4" width="1.1" height="1.1" fill="#2c64a4" fill-opacity="0.6"/>
<rect x="413.4" y="103.2" width="1.1" height="1.1" fill="#5a96d0" fill-opacity="0.6"/>
<rect x="402.2" y="114.2" width="1.1" height="1.1" fill="#2c64a4" fill-opacity="0.6"/>
<rect x="402.6" y="119.2" width="1.1" height="1.1" fill="#6ea4d8" fill-opacity="0.6"/>
<rect x="407.1" y="139.9" width="1.1" height="1.1" fill="#5a96d0" fill-opacity="0.6"/>
<rect x="405.2" y="122.4" width="1.1" height="1.1" fill="#5a96d0" fill-opacity="0.6"/>
<rect x="403.1" y="125.5" width="1.1" height="1.1" fill="#2c64a4" fill-opacity="0.6"/>
<rect x="400.0" y="127.5" width="1.1" height="1.1" fill="#2c64a4" fill-opacity="0.6"/>
<rect x="401.0" y="131.8" width="1.1" height="1.1" fill="#2c64a4" fill-opacity="0.6"/>
<rect x="401.8" y="92.4" width="1.1" height="1.1" fill="#6ea4d8" fill-opacity="0.6"/>
<rect x="409.6" y="121.5" width="1.1" height="1.1" fill="#6ea4d8" fill-opacity="0.6"/>
<rect x="404.1" y="116.2" width="1.1" height="1.1" fill="#6ea4d8" fill-opacity="0.6"/>
<rect x="411.8" y="118.9" width="1.1" height="1.1" fill="#5a96d0" fill-opacity="0.6"/>
<rect x="402.7" y="122.3" width="1.1" height="1.1" fill="#5a96d0" fill-opacity="0.6"/>
<rect x="409.3" y="104.0" width="1.1" height="1.1" fill="#6ea4d8" fill-opacity="0.6"/>
<rect x="412.8" y="113.6" width="1.1" height="1.1" fill="#6ea4d8" fill-opacity="0.6"/>
<rect x="411.2" y="107.6" width="1.1" height="1.1" fill="#6ea4d8" fill-opacity="0.6"/>
<rect x="413.1" y="121.8" width="1.1" height="1.1" fill="#6ea4d8" fill-opacity="0.6"/>
<rect x="396.1" y="112.3" width="1.1" height="1.1" fill="#2c64a4" fill-opacity="0.6"/>
<rect x="408.7" y="121.9" width="1.1" height="1.1" fill="#6ea4d8" fill-opacity="0.6"/>
<rect x="413.3" y="122.2" width="1.1" height="1.1" fill="#6ea4d8" fill-opacity="0.6"/>
<rect x="406.5" y="103.6" width="1.1" height="1.1" fill="#6ea4d8" fill-opacity="0.6"/>
<rect x="408.1" y="115.7" width="1.1" height="1.1" fill="#2c64a4" fill-opacity="0.6"/>
<rect x="415.6" y="112.2" width="1.1" height="1.1" fill="#6ea4d8" fill-opacity="0.6"/>
<rect x="401.6" y="136.8" width="1.1" height="1.1" fill="#5a96d0" fill-opacity="0.6"/>
<rect x="412.7" y="96.7" width="1.1" height="1.1" fill="#5a96d0" fill-opacity="0.6"/>
<rect x="403.8" y="87.6" width="1.1" height="1.1" fill="#6ea4d8" fill-opacity="0.6"/>
<rect x="407.2" y="111.4" width="1.1" height="1.1" fill="#5a96d0" fill-opacity="0.6"/>
<rect x="409.4" y="129.7" width="1.1" height="1.1" fill="#2c64a4" fill-opacity="0.6"/>
<rect x="400.1" y="137.4" width="1.1" height="1.1" fill="#6ea4d8" fill-opacity="0.6"/>
<rect x="405.7" y="126.3" width="1.1" height="1.1" fill="#5a96d0" fill-opacity="0.6"/>
<rect x="400.9" y="96.4" width="1.1" height="1.1" fill="#6ea4d8" fill-opacity="0.6"/>
<rect x="409.0" y="136.7" width="1.1" height="1.1" fill="#2c64a4" fill-opacity="0.6"/>
<rect x="408.9" y="134.4" width="1.1" height="1.1" fill="#5a96d0" fill-opacity="0.6"/>
<rect x="402.2" y="124.2" width="1.1" height="1.1" fill="#5a96d0" fill-opacity="0.6"/>
<rect x="401.6" y="132.0" width="1.1" height="1.1" fill="#2c64a4" fill-opacity="0.6"/>
<rect x="399.7" y="110.1" width="1.1" height="1.1" fill="#6ea4d8" fill-opacity="0.6"/>
<rect x="402.0" y="102.9" width="1.1" height="1.1" fill="#2c64a4" fill-opacity="0.6"/>
<rect x="417.7" y="111.4" width="1.1" height="1.1" fill="#5a96d0" fill-opacity="0.6"/>
<rect x="413.8" y="129.6" width="1.1" height="1.1" fill="#5a96d0" fill-opacity="0.6"/>
<rect x="396.8" y="113.6" width="1.1" height="1.1" fill="#5a96d0" fill-opacity="0.6"/>
<rect x="403.1" y="89.4" width="1.1" height="1.1" fill="#6ea4d8" fill-opacity="0.6"/>
<rect x="412.4" y="132.2" width="1.1" height="1.1" fill="#6ea4d8" fill-opacity="0.6"/>
<rect x="412.9" y="115.9" width="1.1" height="1.1" fill="#2c64a4" fill-opacity="0.6"/>
<rect x="416.6" y="114.7" width="1.1" height="1.1" fill="#2c64a4" fill-opacity="0.6"/>
<rect x="412.2" y="132.1" width="1.1" height="1.1" fill="#5a96d0" fill-opacity="0.6"/>
<rect x="400.2" y="110.4" width="1.1" height="1.1" fill="#2c64a4" fill-opacity="0.6"/>
<rect x="411.2" y="114.4" width="1.1" height="1.1" fill="#6ea4d8" fill-opacity="0.6"/>
<rect x="406.2" y="125.3" width="1.1" height="1.1" fill="#6ea4d8" fill-opacity="0.6"/>
<rect x="399.9" y="114.7" width="1.1" height="1.1" fill="#2c64a4" fill-opacity="0.6"/>
<rect x="409.0" y="92.2" width="1.1" height="1.1" fill="#6ea4d8" fill-opacity="0.6"/>
<rect x="401.8" y="122.5" width="1.1" height="1.1" fill="#5a96d0" fill-opacity="0.6"/>
<rect x="402.1" y="101.9" width="1.1" height="1.1" fill="#6ea4d8" fill-opacity="0.6"/>
<rect x="401.5" y="97.7" width="1.1" height="1.1" fill="#5a96d0" fill-opacity="0.6"/>
<line x1="407.4" y1="81.8" x2="407.4" y2="151.8" stroke="#3a6ea6" stroke-width="0.55"/>
<rect x="404.5" y="105.0" width="5.8" height="19.0" fill="none" stroke="#3a6ea6" stroke-width="0.55"/>
<line x1="314.2" y1="112.5" x2="422.5" y2="112.5" stroke="#2f4f80" stroke-width="0.9" stroke-dasharray="4.5,2.5"/>
<circle cx="329.6" cy="112.6" r="1.4" fill="#111"/>
<circle cx="355.4" cy="113.0" r="1.4" fill="#111"/>
<circle cx="381.4" cy="113.4" r="1.4" fill="#111"/>
<circle cx="407.4" cy="115.0" r="1.4" fill="#111"/>
<path d="M382.4,154.5 H407.5 M356,162.5 H407.5 M330.4,170.3 H407.5 M407.5,154.5 V170.3" stroke="#222" stroke-width="1.0" fill="none"/>
<text x="394.7" y="155.3" font-size="7.6" text-anchor="middle" fill="#222" stroke="#222" stroke-width="0.12" font-style="normal" font-weight="normal" >**</text>
<text x="377.7" y="163.4" font-size="7.6" text-anchor="middle" fill="#222" stroke="#222" stroke-width="0.12" font-style="normal" font-weight="normal" >***</text>
<text x="363.5" y="171.0" font-size="7.6" text-anchor="middle" fill="#222" stroke="#222" stroke-width="0.12" font-style="normal" font-weight="normal" >****</text>
<rect x="314.2" y="69.4" width="108.30000000000001" height="102.79999999999998" fill="none" stroke="#1a1a1a" stroke-width="1.0"/>
<text x="311.4" y="91.1" font-size="6.8" text-anchor="end" fill="#333" stroke="#333" stroke-width="0.12" font-style="normal" font-weight="normal" >1.5</text>
<text x="311.4" y="115.0" font-size="6.8" text-anchor="end" fill="#333" stroke="#333" stroke-width="0.12" font-style="normal" font-weight="normal" >1.0</text>
<text x="311.4" y="138.9" font-size="6.8" text-anchor="end" fill="#333" stroke="#333" stroke-width="0.12" font-style="normal" font-weight="normal" >0.5</text>
<text x="311.4" y="162.8" font-size="6.8" text-anchor="end" fill="#333" stroke="#333" stroke-width="0.12" font-style="normal" font-weight="normal" >0.0</text>
<text x="0" y="0" font-size="7.4" fill="#333" text-anchor="middle" transform="translate(296.9,117.9) rotate(-90)">g/dL</text>
<line x1="329.6" y1="172.2" x2="329.6" y2="174.7" stroke="#1a1a1a" stroke-width="0.8"/>
<text x="0" y="0" font-size="6.6" fill="#333" text-anchor="end" transform="translate(331.90000000000003,182.5) rotate(-45)">Top 25%</text>
<line x1="355.4" y1="172.2" x2="355.4" y2="174.7" stroke="#1a1a1a" stroke-width="0.8"/>
<text x="0" y="0" font-size="6.6" fill="#333" text-anchor="end" transform="translate(357.7,182.5) rotate(-45)">Top 50%</text>
<line x1="381.4" y1="172.2" x2="381.4" y2="174.7" stroke="#1a1a1a" stroke-width="0.8"/>
<text x="0" y="0" font-size="6.6" fill="#333" text-anchor="end" transform="translate(383.7,182.5) rotate(-45)">Bottom 50%</text>
<line x1="407.4" y1="172.2" x2="407.4" y2="174.7" stroke="#1a1a1a" stroke-width="0.8"/>
<text x="0" y="0" font-size="6.6" fill="#333" text-anchor="end" transform="translate(409.7,182.5) rotate(-45)">Bottom 25%</text>
<text x="86.2" y="236.6" font-size="11.6" text-anchor="start" fill="#111" stroke="#111" stroke-width="0.18" font-style="normal" font-weight="bold" >G</text>
<text x="129.3" y="248.6" font-size="6.8" text-anchor="middle" fill="#333" stroke="#333" stroke-width="0.12" font-style="italic" font-weight="normal" >FVB Mice</text>
<g transform="translate(114.0,256.0) scale(1.0)"><path d="M27,10.8 C31,9.6 34.5,7 38.3,7 C40.8,7.1 40.6,10 37.6,12.2" fill="none" stroke="#dbb4ac" stroke-width="1.15" stroke-linecap="round"/><path d="M8.6,14.5 L8.3,22.1 L6.0,22.5 M20.2,16.5 L20.3,24.5 L22.6,24.8" fill="none" stroke="#d4c9c9" stroke-width="1.6" stroke-linecap="round" stroke-linejoin="round"/><path d="M0.3,7.5 C2,4.6 5,1.9 9,1.6 C12,1.4 14,2.6 17,2.6 C23,2.6 28.2,5.6 28.6,10.6 C29,15.2 25,18 18.5,18.3 C12.5,18.5 8.5,16.8 6.3,13.8 C4.4,11.6 1.8,9.6 0.3,7.5 Z" fill="#f1efef" stroke="#d4c9c9" stroke-width="0.5"/><path d="M9,16.2 C12.5,18.3 20,18.6 24.5,16.8 C26.5,15.5 27.8,13.6 28.3,12 C26,15 20,16.5 14,15.8 Z" fill="#dedad9"/><path d="M5,3.4 L6.5,0.4 L8.9,2.6 Z" fill="#f1efef" stroke="#d4c9c9" stroke-width="0.5" stroke-linejoin="round"/><circle cx="16.2" cy="3.7" r="3.55" fill="#e8b2a8" stroke="#d4c9c9" stroke-width="0.35"/><circle cx="16.0" cy="3.9" r="2.1" fill="#f0c4bc"/><circle cx="8.3" cy="6.5" r="0.85" fill="#333"/></g>
<text x="130.85" y="290.9" font-size="6.9" text-anchor="middle" fill="#333" stroke="#333" stroke-width="0.12" font-style="italic" font-weight="normal" >Poor storer</text>
<line x1="130.6" y1="294.8" x2="130.6" y2="306" stroke="#bb8a58" stroke-width="0.9"/>
<path d="M128.2,305 L130.6,309.4 L133,305 Z" fill="#bb8a58"/>
<text x="130.75" y="320.3" font-size="6.95" text-anchor="middle" fill="#333" stroke="#333" stroke-width="0.12" font-style="italic" font-weight="normal" >Lipid Peroxidation</text>
<path d="M122.3,324.6 H138.3 M130.3,324.6 V344.2" stroke="#bb8a58" stroke-width="0.9" fill="none"/>
<text x="130.1" y="353.9" font-size="6.6" text-anchor="middle" fill="#d29c62" stroke="#d29c62" stroke-width="0.12" font-style="normal" font-weight="normal" >SLC22A16</text>
<path d="M102.3,361.5 H118.5 M110.4,361.5 V402" stroke="#bb8a58" stroke-width="0.9" fill="none"/>
<line x1="144" y1="402" x2="144" y2="365" stroke="#bb8a58" stroke-width="0.9"/>
<path d="M141.6,366 L144,361.6 L146.4,366 Z" fill="#bb8a58"/>
<text x="103.65" y="411.1" font-size="6.86" text-anchor="middle" fill="#333" stroke="#333" stroke-width="0.12" font-style="italic" font-weight="normal" >D-Carnitine</text>
<text x="145.35" y="411.1" font-size="6.81" text-anchor="middle" fill="#333" stroke="#333" stroke-width="0.12" font-style="italic" font-weight="normal" >L-Carnitine</text>
<text x="203.1" y="238.0" font-size="6.7" text-anchor="middle" fill="#333" stroke="#333" stroke-width="0.12" font-style="italic" font-weight="normal" >Fresh</text>
<text x="277.9" y="238.0" font-size="6.7" text-anchor="middle" fill="#333" stroke="#333" stroke-width="0.12" font-style="italic" font-weight="normal" >Day 7</text>
<line x1="166.6" y1="242.9" x2="239.7" y2="242.9" stroke="#a6a6a2" stroke-width="1.3"/>
<line x1="242.9" y1="242.9" x2="312.1" y2="242.9" stroke="#a6a6a2" stroke-width="1.3"/>
<rect x="166.4" y="247.5" width="19.599999999999998" height="2.1" fill="#777" stroke="#555" stroke-width="0.5"/>
<rect x="191.70000000000002" y="247.5" width="19.599999999999998" height="2.1" fill="#b5d3ee" stroke="#5f7f9f" stroke-width="0.5"/>
<rect x="216.60000000000002" y="247.5" width="19.599999999999998" height="2.1" fill="#245d8f" stroke="#1c4a75" stroke-width="0.5"/>
<rect x="242.70000000000002" y="247.5" width="19.599999999999998" height="2.1" fill="#777" stroke="#555" stroke-width="0.5"/>
<rect x="267.7" y="247.5" width="19.599999999999998" height="2.1" fill="#b5d3ee" stroke="#5f7f9f" stroke-width="0.5"/>
<rect x="292.6" y="247.5" width="19.599999999999998" height="2.1" fill="#245d8f" stroke="#1c4a75" stroke-width="0.5"/>
<rect x="166.10" y="254.40" width="6.73" height="6.59" fill="#a49dcf"/>
<rect x="172.83" y="254.40" width="6.73" height="6.59" fill="#ec666a"/>
<rect x="179.57" y="254.40" width="6.73" height="6.59" fill="#ec666a"/>
<rect x="191.40" y="254.40" width="6.73" height="6.59" fill="#f7f6fc"/>
<rect x="198.13" y="254.40" width="6.73" height="6.59" fill="#e6181c"/>
<rect x="204.87" y="254.40" width="6.73" height="6.59" fill="#e6181c"/>
<rect x="216.30" y="254.40" width="6.73" height="6.59" fill="#e6181c"/>
<rect x="223.03" y="254.40" width="6.73" height="6.59" fill="#a49dcf"/>
<rect x="229.77" y="254.40" width="6.73" height="6.59" fill="#c4bfe0"/>
<rect x="242.40" y="254.40" width="6.73" height="6.59" fill="#e3e1f1"/>
<rect x="249.13" y="254.40" width="6.73" height="6.59" fill="#ef9297"/>
<rect x="255.87" y="254.40" width="6.73" height="6.59" fill="#e6181c"/>
<rect x="267.40" y="254.40" width="6.73" height="6.59" fill="#ec666a"/>
<rect x="274.13" y="254.40" width="6.73" height="6.59" fill="#f7f6fc"/>
<rect x="280.87" y="254.40" width="6.73" height="6.59" fill="#a49dcf"/>
<rect x="292.30" y="254.40" width="6.73" height="6.59" fill="#685db0"/>
<rect x="299.03" y="254.40" width="6.73" height="6.59" fill="#c4bfe0"/>
<rect x="305.77" y="254.40" width="6.73" height="6.59" fill="#312192"/>
<rect x="166.10" y="261.00" width="6.73" height="6.59" fill="#a49dcf"/>
<rect x="172.83" y="261.00" width="6.73" height="6.59" fill="#ef9297"/>
<rect x="179.57" y="261.00" width="6.73" height="6.59" fill="#ec666a"/>
<rect x="191.40" y="261.00" width="6.73" height="6.59" fill="#ef9297"/>
<rect x="198.13" y="261.00" width="6.73" height="6.59" fill="#ef9297"/>
<rect x="204.87" y="261.00" width="6.73" height="6.59" fill="#e6181c"/>
<rect x="216.30" y="261.00" width="6.73" height="6.59" fill="#f7f6fc"/>
<rect x="223.03" y="261.00" width="6.73" height="6.59" fill="#ef9297"/>
<rect x="229.77" y="261.00" width="6.73" height="6.59" fill="#a49dcf"/>
<rect x="242.40" y="261.00" width="6.73" height="6.59" fill="#f7f6fc"/>
<rect x="249.13" y="261.00" width="6.73" height="6.59" fill="#f2bac0"/>
<rect x="255.87" y="261.00" width="6.73" height="6.59" fill="#ec666a"/>
<rect x="267.40" y="261.00" width="6.73" height="6.59" fill="#ec666a"/>
<rect x="274.13" y="261.00" width="6.73" height="6.59" fill="#f2bac0"/>
<rect x="280.87" y="261.00" width="6.73" height="6.59" fill="#847abf"/>
<rect x="292.30" y="261.00" width="6.73" height="6.59" fill="#ec666a"/>
<rect x="299.03" y="261.00" width="6.73" height="6.59" fill="#e3e1f1"/>
<rect x="305.77" y="261.00" width="6.73" height="6.59" fill="#312192"/>
<rect x="166.10" y="267.59" width="6.73" height="6.59" fill="#312192"/>
<rect x="172.83" y="267.59" width="6.73" height="6.59" fill="#312192"/>
<rect x="179.57" y="267.59" width="6.73" height="6.59" fill="#312192"/>
<rect x="191.40" y="267.59" width="6.73" height="6.59" fill="#e6181c"/>
<rect x="198.13" y="267.59" width="6.73" height="6.59" fill="#e6181c"/>
<rect x="204.87" y="267.59" width="6.73" height="6.59" fill="#e6181c"/>
<rect x="216.30" y="267.59" width="6.73" height="6.59" fill="#e6181c"/>
<rect x="223.03" y="267.59" width="6.73" height="6.59" fill="#e6181c"/>
<rect x="229.77" y="267.59" width="6.73" height="6.59" fill="#e6181c"/>
<rect x="242.40" y="267.59" width="6.73" height="6.59" fill="#312192"/>
<rect x="249.13" y="267.59" width="6.73" height="6.59" fill="#312192"/>
<rect x="255.87" y="267.59" width="6.73" height="6.59" fill="#493b9f"/>
<rect x="267.40" y="267.59" width="6.73" height="6.59" fill="#e9393e"/>
<rect x="274.13" y="267.59" width="6.73" height="6.59" fill="#e9393e"/>
<rect x="280.87" y="267.59" width="6.73" height="6.59" fill="#e9393e"/>
<rect x="292.30" y="267.59" width="6.73" height="6.59" fill="#e9393e"/>
<rect x="299.03" y="267.59" width="6.73" height="6.59" fill="#e9393e"/>
<rect x="305.77" y="267.59" width="6.73" height="6.59" fill="#ec666a"/>
<rect x="166.10" y="274.19" width="6.73" height="6.59" fill="#685db0"/>
<rect x="172.83" y="274.19" width="6.73" height="6.59" fill="#f7f6fc"/>
<rect x="179.57" y="274.19" width="6.73" height="6.59" fill="#f7f6fc"/>
<rect x="191.40" y="274.19" width="6.73" height="6.59" fill="#847abf"/>
<rect x="198.13" y="274.19" width="6.73" height="6.59" fill="#f2bac0"/>
<rect x="204.87" y="274.19" width="6.73" height="6.59" fill="#f2bac0"/>
<rect x="216.30" y="274.19" width="6.73" height="6.59" fill="#e6181c"/>
<rect x="223.03" y="274.19" width="6.73" height="6.59" fill="#f7f6fc"/>
<rect x="229.77" y="274.19" width="6.73" height="6.59" fill="#f2bac0"/>
<rect x="242.40" y="274.19" width="6.73" height="6.59" fill="#312192"/>
<rect x="249.13" y="274.19" width="6.73" height="6.59" fill="#685db0"/>
<rect x="255.87" y="274.19" width="6.73" height="6.59" fill="#847abf"/>
<rect x="267.40" y="274.19" width="6.73" height="6.59" fill="#847abf"/>
<rect x="274.13" y="274.19" width="6.73" height="6.59" fill="#312192"/>
<rect x="280.87" y="274.19" width="6.73" height="6.59" fill="#312192"/>
<rect x="292.30" y="274.19" width="6.73" height="6.59" fill="#e6181c"/>
<rect x="299.03" y="274.19" width="6.73" height="6.59" fill="#e9393e"/>
<rect x="305.77" y="274.19" width="6.73" height="6.59" fill="#c4bfe0"/>
<rect x="166.10" y="280.78" width="6.73" height="6.59" fill="#c4bfe0"/>
<rect x="172.83" y="280.78" width="6.73" height="6.59" fill="#c4bfe0"/>
<rect x="179.57" y="280.78" width="6.73" height="6.59" fill="#c4bfe0"/>
<rect x="191.40" y="280.78" width="6.73" height="6.59" fill="#685db0"/>
<rect x="198.13" y="280.78" width="6.73" height="6.59" fill="#f2bac0"/>
<rect x="204.87" y="280.78" width="6.73" height="6.59" fill="#f7f6fc"/>
<rect x="216.30" y="280.78" width="6.73" height="6.59" fill="#e6181c"/>
<rect x="223.03" y="280.78" width="6.73" height="6.59" fill="#ec666a"/>
<rect x="229.77" y="280.78" width="6.73" height="6.59" fill="#f7f6fc"/>
<rect x="242.40" y="280.78" width="6.73" height="6.59" fill="#685db0"/>
<rect x="249.13" y="280.78" width="6.73" height="6.59" fill="#312192"/>
<rect x="255.87" y="280.78" width="6.73" height="6.59" fill="#685db0"/>
<rect x="267.40" y="280.78" width="6.73" height="6.59" fill="#a49dcf"/>
<rect x="274.13" y="280.78" width="6.73" height="6.59" fill="#312192"/>
<rect x="280.87" y="280.78" width="6.73" height="6.59" fill="#847abf"/>
<rect x="292.30" y="280.78" width="6.73" height="6.59" fill="#e9393e"/>
<rect x="299.03" y="280.78" width="6.73" height="6.59" fill="#ec666a"/>
<rect x="305.77" y="280.78" width="6.73" height="6.59" fill="#847abf"/>
<rect x="166.10" y="287.38" width="6.73" height="6.59" fill="#312192"/>
<rect x="172.83" y="287.38" width="6.73" height="6.59" fill="#312192"/>
<rect x="179.57" y="287.38" width="6.73" height="6.59" fill="#312192"/>
<rect x="191.40" y="287.38" width="6.73" height="6.59" fill="#312192"/>
<rect x="198.13" y="287.38" width="6.73" height="6.59" fill="#312192"/>
<rect x="204.87" y="287.38" width="6.73" height="6.59" fill="#493b9f"/>
<rect x="216.30" y="287.38" width="6.73" height="6.59" fill="#ef9297"/>
<rect x="223.03" y="287.38" width="6.73" height="6.59" fill="#ec666a"/>
<rect x="229.77" y="287.38" width="6.73" height="6.59" fill="#e6181c"/>
<rect x="242.40" y="287.38" width="6.73" height="6.59" fill="#312192"/>
<rect x="249.13" y="287.38" width="6.73" height="6.59" fill="#312192"/>
<rect x="255.87" y="287.38" width="6.73" height="6.59" fill="#312192"/>
<rect x="267.40" y="287.38" width="6.73" height="6.59" fill="#312192"/>
<rect x="274.13" y="287.38" width="6.73" height="6.59" fill="#493b9f"/>
<rect x="280.87" y="287.38" width="6.73" height="6.59" fill="#685db0"/>
<rect x="292.30" y="287.38" width="6.73" height="6.59" fill="#e9393e"/>
<rect x="299.03" y="287.38" width="6.73" height="6.59" fill="#e9393e"/>
<rect x="305.77" y="287.38" width="6.73" height="6.59" fill="#e6181c"/>
<rect x="166.10" y="293.97" width="6.73" height="6.59" fill="#312192"/>
<rect x="172.83" y="293.97" width="6.73" height="6.59" fill="#312192"/>
<rect x="179.57" y="293.97" width="6.73" height="6.59" fill="#312192"/>
<rect x="191.40" y="293.97" width="6.73" height="6.59" fill="#312192"/>
<rect x="198.13" y="293.97" width="6.73" height="6.59" fill="#312192"/>
<rect x="204.87" y="293.97" width="6.73" height="6.59" fill="#312192"/>
<rect x="216.30" y="293.97" width="6.73" height="6.59" fill="#f2bac0"/>
<rect x="223.03" y="293.97" width="6.73" height="6.59" fill="#f2bac0"/>
<rect x="229.77" y="293.97" width="6.73" height="6.59" fill="#ef9297"/>
<rect x="242.40" y="293.97" width="6.73" height="6.59" fill="#312192"/>
<rect x="249.13" y="293.97" width="6.73" height="6.59" fill="#312192"/>
<rect x="255.87" y="293.97" width="6.73" height="6.59" fill="#312192"/>
<rect x="267.40" y="293.97" width="6.73" height="6.59" fill="#312192"/>
<rect x="274.13" y="293.97" width="6.73" height="6.59" fill="#493b9f"/>
<rect x="280.87" y="293.97" width="6.73" height="6.59" fill="#312192"/>
<rect x="292.30" y="293.97" width="6.73" height="6.59" fill="#e6181c"/>
<rect x="299.03" y="293.97" width="6.73" height="6.59" fill="#ec666a"/>
<rect x="305.77" y="293.97" width="6.73" height="6.59" fill="#e6181c"/>
<rect x="166.10" y="300.56" width="6.73" height="6.59" fill="#312192"/>
<rect x="172.83" y="300.56" width="6.73" height="6.59" fill="#312192"/>
<rect x="179.57" y="300.56" width="6.73" height="6.59" fill="#312192"/>
<rect x="191.40" y="300.56" width="6.73" height="6.59" fill="#493b9f"/>
<rect x="198.13" y="300.56" width="6.73" height="6.59" fill="#685db0"/>
<rect x="204.87" y="300.56" width="6.73" height="6.59" fill="#685db0"/>
<rect x="216.30" y="300.56" width="6.73" height="6.59" fill="#f7f6fc"/>
<rect x="223.03" y="300.56" width="6.73" height="6.59" fill="#f7f6fc"/>
<rect x="229.77" y="300.56" width="6.73" height="6.59" fill="#f5e0e6"/>
<rect x="242.40" y="300.56" width="6.73" height="6.59" fill="#312192"/>
<rect x="249.13" y="300.56" width="6.73" height="6.59" fill="#312192"/>
<rect x="255.87" y="300.56" width="6.73" height="6.59" fill="#312192"/>
<rect x="267.40" y="300.56" width="6.73" height="6.59" fill="#493b9f"/>
<rect x="274.13" y="300.56" width="6.73" height="6.59" fill="#685db0"/>
<rect x="280.87" y="300.56" width="6.73" height="6.59" fill="#312192"/>
<rect x="292.30" y="300.56" width="6.73" height="6.59" fill="#e6181c"/>
<rect x="299.03" y="300.56" width="6.73" height="6.59" fill="#e9393e"/>
<rect x="305.77" y="300.56" width="6.73" height="6.59" fill="#e6181c"/>
<rect x="166.10" y="307.16" width="6.73" height="6.59" fill="#312192"/>
<rect x="172.83" y="307.16" width="6.73" height="6.59" fill="#a49dcf"/>
<rect x="179.57" y="307.16" width="6.73" height="6.59" fill="#a49dcf"/>
<rect x="191.40" y="307.16" width="6.73" height="6.59" fill="#847abf"/>
<rect x="198.13" y="307.16" width="6.73" height="6.59" fill="#847abf"/>
<rect x="204.87" y="307.16" width="6.73" height="6.59" fill="#a49dcf"/>
<rect x="216.30" y="307.16" width="6.73" height="6.59" fill="#e3e1f1"/>
<rect x="223.03" y="307.16" width="6.73" height="6.59" fill="#e9393e"/>
<rect x="229.77" y="307.16" width="6.73" height="6.59" fill="#e9393e"/>
<rect x="242.40" y="307.16" width="6.73" height="6.59" fill="#312192"/>
<rect x="249.13" y="307.16" width="6.73" height="6.59" fill="#312192"/>
<rect x="255.87" y="307.16" width="6.73" height="6.59" fill="#312192"/>
<rect x="267.40" y="307.16" width="6.73" height="6.59" fill="#312192"/>
<rect x="274.13" y="307.16" width="6.73" height="6.59" fill="#493b9f"/>
<rect x="280.87" y="307.16" width="6.73" height="6.59" fill="#312192"/>
<rect x="292.30" y="307.16" width="6.73" height="6.59" fill="#e9393e"/>
<rect x="299.03" y="307.16" width="6.73" height="6.59" fill="#e6181c"/>
<rect x="305.77" y="307.16" width="6.73" height="6.59" fill="#ef9297"/>
<rect x="166.10" y="313.75" width="6.73" height="6.59" fill="#312192"/>
<rect x="172.83" y="313.75" width="6.73" height="6.59" fill="#c4bfe0"/>
<rect x="179.57" y="313.75" width="6.73" height="6.59" fill="#c4bfe0"/>
<rect x="191.40" y="313.75" width="6.73" height="6.59" fill="#f5e0e6"/>
<rect x="198.13" y="313.75" width="6.73" height="6.59" fill="#847abf"/>
<rect x="204.87" y="313.75" width="6.73" height="6.59" fill="#c4bfe0"/>
<rect x="216.30" y="313.75" width="6.73" height="6.59" fill="#c4bfe0"/>
<rect x="223.03" y="313.75" width="6.73" height="6.59" fill="#847abf"/>
<rect x="229.77" y="313.75" width="6.73" height="6.59" fill="#f7f6fc"/>
<rect x="242.40" y="313.75" width="6.73" height="6.59" fill="#a49dcf"/>
<rect x="249.13" y="313.75" width="6.73" height="6.59" fill="#f7f6fc"/>
<rect x="255.87" y="313.75" width="6.73" height="6.59" fill="#a49dcf"/>
<rect x="267.40" y="313.75" width="6.73" height="6.59" fill="#847abf"/>
<rect x="274.13" y="313.75" width="6.73" height="6.59" fill="#312192"/>
<rect x="280.87" y="313.75" width="6.73" height="6.59" fill="#312192"/>
<rect x="292.30" y="313.75" width="6.73" height="6.59" fill="#ec666a"/>
<rect x="299.03" y="313.75" width="6.73" height="6.59" fill="#e6181c"/>
<rect x="305.77" y="313.75" width="6.73" height="6.59" fill="#e6181c"/>
<rect x="166.10" y="320.35" width="6.73" height="6.59" fill="#312192"/>
<rect x="172.83" y="320.35" width="6.73" height="6.59" fill="#847abf"/>
<rect x="179.57" y="320.35" width="6.73" height="6.59" fill="#847abf"/>
<rect x="191.40" y="320.35" width="6.73" height="6.59" fill="#312192"/>
<rect x="198.13" y="320.35" width="6.73" height="6.59" fill="#685db0"/>
<rect x="204.87" y="320.35" width="6.73" height="6.59" fill="#685db0"/>
<rect x="216.30" y="320.35" width="6.73" height="6.59" fill="#685db0"/>
<rect x="223.03" y="320.35" width="6.73" height="6.59" fill="#312192"/>
<rect x="229.77" y="320.35" width="6.73" height="6.59" fill="#312192"/>
<rect x="242.40" y="320.35" width="6.73" height="6.59" fill="#a49dcf"/>
<rect x="249.13" y="320.35" width="6.73" height="6.59" fill="#e3e1f1"/>
<rect x="255.87" y="320.35" width="6.73" height="6.59" fill="#ef9297"/>
<rect x="267.40" y="320.35" width="6.73" height="6.59" fill="#f7f6fc"/>
<rect x="274.13" y="320.35" width="6.73" height="6.59" fill="#c4bfe0"/>
<rect x="280.87" y="320.35" width="6.73" height="6.59" fill="#f7f6fc"/>
<rect x="292.30" y="320.35" width="6.73" height="6.59" fill="#e6181c"/>
<rect x="299.03" y="320.35" width="6.73" height="6.59" fill="#e6181c"/>
<rect x="305.77" y="320.35" width="6.73" height="6.59" fill="#e3e1f1"/>
<rect x="166.10" y="326.94" width="6.73" height="6.59" fill="#312192"/>
<rect x="172.83" y="326.94" width="6.73" height="6.59" fill="#312192"/>
<rect x="179.57" y="326.94" width="6.73" height="6.59" fill="#312192"/>
<rect x="191.40" y="326.94" width="6.73" height="6.59" fill="#312192"/>
<rect x="198.13" y="326.94" width="6.73" height="6.59" fill="#312192"/>
<rect x="204.87" y="326.94" width="6.73" height="6.59" fill="#312192"/>
<rect x="216.30" y="326.94" width="6.73" height="6.59" fill="#c4bfe0"/>
<rect x="223.03" y="326.94" width="6.73" height="6.59" fill="#c4bfe0"/>
<rect x="229.77" y="326.94" width="6.73" height="6.59" fill="#c4bfe0"/>
<rect x="242.40" y="326.94" width="6.73" height="6.59" fill="#312192"/>
<rect x="249.13" y="326.94" width="6.73" height="6.59" fill="#312192"/>
<rect x="255.87" y="326.94" width="6.73" height="6.59" fill="#312192"/>
<rect x="267.40" y="326.94" width="6.73" height="6.59" fill="#685db0"/>
<rect x="274.13" y="326.94" width="6.73" height="6.59" fill="#685db0"/>
<rect x="280.87" y="326.94" width="6.73" height="6.59" fill="#685db0"/>
<rect x="292.30" y="326.94" width="6.73" height="6.59" fill="#e6181c"/>
<rect x="299.03" y="326.94" width="6.73" height="6.59" fill="#e6181c"/>
<rect x="305.77" y="326.94" width="6.73" height="6.59" fill="#ec666a"/>
<rect x="166.10" y="333.54" width="6.73" height="6.59" fill="#312192"/>
<rect x="172.83" y="333.54" width="6.73" height="6.59" fill="#312192"/>
<rect x="179.57" y="333.54" width="6.73" height="6.59" fill="#312192"/>
<rect x="191.40" y="333.54" width="6.73" height="6.59" fill="#312192"/>
<rect x="198.13" y="333.54" width="6.73" height="6.59" fill="#312192"/>
<rect x="204.87" y="333.54" width="6.73" height="6.59" fill="#312192"/>
<rect x="216.30" y="333.54" width="6.73" height="6.59" fill="#685db0"/>
<rect x="223.03" y="333.54" width="6.73" height="6.59" fill="#847abf"/>
<rect x="229.77" y="333.54" width="6.73" height="6.59" fill="#847abf"/>
<rect x="242.40" y="333.54" width="6.73" height="6.59" fill="#312192"/>
<rect x="249.13" y="333.54" width="6.73" height="6.59" fill="#312192"/>
<rect x="255.87" y="333.54" width="6.73" height="6.59" fill="#312192"/>
<rect x="267.40" y="333.54" width="6.73" height="6.59" fill="#312192"/>
<rect x="274.13" y="333.54" width="6.73" height="6.59" fill="#312192"/>
<rect x="280.87" y="333.54" width="6.73" height="6.59" fill="#312192"/>
<rect x="292.30" y="333.54" width="6.73" height="6.59" fill="#e6181c"/>
<rect x="299.03" y="333.54" width="6.73" height="6.59" fill="#e6181c"/>
<rect x="305.77" y="333.54" width="6.73" height="6.59" fill="#e6181c"/>
<rect x="166.10" y="340.13" width="6.73" height="6.59" fill="#312192"/>
<rect x="172.83" y="340.13" width="6.73" height="6.59" fill="#312192"/>
<rect x="179.57" y="340.13" width="6.73" height="6.59" fill="#312192"/>
<rect x="191.40" y="340.13" width="6.73" height="6.59" fill="#312192"/>
<rect x="198.13" y="340.13" width="6.73" height="6.59" fill="#312192"/>
<rect x="204.87" y="340.13" width="6.73" height="6.59" fill="#312192"/>
<rect x="216.30" y="340.13" width="6.73" height="6.59" fill="#493b9f"/>
<rect x="223.03" y="340.13" width="6.73" height="6.59" fill="#312192"/>
<rect x="229.77" y="340.13" width="6.73" height="6.59" fill="#312192"/>
<rect x="242.40" y="340.13" width="6.73" height="6.59" fill="#312192"/>
<rect x="249.13" y="340.13" width="6.73" height="6.59" fill="#312192"/>
<rect x="255.87" y="340.13" width="6.73" height="6.59" fill="#312192"/>
<rect x="267.40" y="340.13" width="6.73" height="6.59" fill="#493b9f"/>
<rect x="274.13" y="340.13" width="6.73" height="6.59" fill="#312192"/>
<rect x="280.87" y="340.13" width="6.73" height="6.59" fill="#493b9f"/>
<rect x="292.30" y="340.13" width="6.73" height="6.59" fill="#e6181c"/>
<rect x="299.03" y="340.13" width="6.73" height="6.59" fill="#e9393e"/>
<rect x="305.77" y="340.13" width="6.73" height="6.59" fill="#e6181c"/>
<rect x="166.10" y="346.73" width="6.73" height="6.59" fill="#312192"/>
<rect x="172.83" y="346.73" width="6.73" height="6.59" fill="#312192"/>
<rect x="179.57" y="346.73" width="6.73" height="6.59" fill="#312192"/>
<rect x="191.40" y="346.73" width="6.73" height="6.59" fill="#312192"/>
<rect x="198.13" y="346.73" width="6.73" height="6.59" fill="#312192"/>
<rect x="204.87" y="346.73" width="6.73" height="6.59" fill="#312192"/>
<rect x="216.30" y="346.73" width="6.73" height="6.59" fill="#312192"/>
<rect x="223.03" y="346.73" width="6.73" height="6.59" fill="#493b9f"/>
<rect x="229.77" y="346.73" width="6.73" height="6.59" fill="#312192"/>
<rect x="242.40" y="346.73" width="6.73" height="6.59" fill="#685db0"/>
<rect x="249.13" y="346.73" width="6.73" height="6.59" fill="#847abf"/>
<rect x="255.87" y="346.73" width="6.73" height="6.59" fill="#685db0"/>
<rect x="267.40" y="346.73" width="6.73" height="6.59" fill="#847abf"/>
<rect x="274.13" y="346.73" width="6.73" height="6.59" fill="#685db0"/>
<rect x="280.87" y="346.73" width="6.73" height="6.59" fill="#847abf"/>
<rect x="292.30" y="346.73" width="6.73" height="6.59" fill="#e9393e"/>
<rect x="299.03" y="346.73" width="6.73" height="6.59" fill="#e6181c"/>
<rect x="305.77" y="346.73" width="6.73" height="6.59" fill="#e6181c"/>
<rect x="166.10" y="353.32" width="6.73" height="6.59" fill="#312192"/>
<rect x="172.83" y="353.32" width="6.73" height="6.59" fill="#312192"/>
<rect x="179.57" y="353.32" width="6.73" height="6.59" fill="#312192"/>
<rect x="191.40" y="353.32" width="6.73" height="6.59" fill="#312192"/>
<rect x="198.13" y="353.32" width="6.73" height="6.59" fill="#312192"/>
<rect x="204.87" y="353.32" width="6.73" height="6.59" fill="#312192"/>
<rect x="216.30" y="353.32" width="6.73" height="6.59" fill="#312192"/>
<rect x="223.03" y="353.32" width="6.73" height="6.59" fill="#312192"/>
<rect x="229.77" y="353.32" width="6.73" height="6.59" fill="#493b9f"/>
<rect x="242.40" y="353.32" width="6.73" height="6.59" fill="#847abf"/>
<rect x="249.13" y="353.32" width="6.73" height="6.59" fill="#a49dcf"/>
<rect x="255.87" y="353.32" width="6.73" height="6.59" fill="#847abf"/>
<rect x="267.40" y="353.32" width="6.73" height="6.59" fill="#847abf"/>
<rect x="274.13" y="353.32" width="6.73" height="6.59" fill="#847abf"/>
<rect x="280.87" y="353.32" width="6.73" height="6.59" fill="#685db0"/>
<rect x="292.30" y="353.32" width="6.73" height="6.59" fill="#e6181c"/>
<rect x="299.03" y="353.32" width="6.73" height="6.59" fill="#e6181c"/>
<rect x="305.77" y="353.32" width="6.73" height="6.59" fill="#e9393e"/>
<rect x="166.10" y="359.92" width="6.73" height="6.59" fill="#312192"/>
<rect x="172.83" y="359.92" width="6.73" height="6.59" fill="#312192"/>
<rect x="179.57" y="359.92" width="6.73" height="6.59" fill="#312192"/>
<rect x="191.40" y="359.92" width="6.73" height="6.59" fill="#312192"/>
<rect x="198.13" y="359.92" width="6.73" height="6.59" fill="#312192"/>
<rect x="204.87" y="359.92" width="6.73" height="6.59" fill="#312192"/>
<rect x="216.30" y="359.92" width="6.73" height="6.59" fill="#493b9f"/>
<rect x="223.03" y="359.92" width="6.73" height="6.59" fill="#312192"/>
<rect x="229.77" y="359.92" width="6.73" height="6.59" fill="#312192"/>
<rect x="242.40" y="359.92" width="6.73" height="6.59" fill="#312192"/>
<rect x="249.13" y="359.92" width="6.73" height="6.59" fill="#312192"/>
<rect x="255.87" y="359.92" width="6.73" height="6.59" fill="#312192"/>
<rect x="267.40" y="359.92" width="6.73" height="6.59" fill="#312192"/>
<rect x="274.13" y="359.92" width="6.73" height="6.59" fill="#493b9f"/>
<rect x="280.87" y="359.92" width="6.73" height="6.59" fill="#312192"/>
<rect x="292.30" y="359.92" width="6.73" height="6.59" fill="#e6181c"/>
<rect x="299.03" y="359.92" width="6.73" height="6.59" fill="#e6181c"/>
<rect x="305.77" y="359.92" width="6.73" height="6.59" fill="#e9393e"/>
<rect x="166.10" y="366.51" width="6.73" height="6.59" fill="#312192"/>
<rect x="172.83" y="366.51" width="6.73" height="6.59" fill="#312192"/>
<rect x="179.57" y="366.51" width="6.73" height="6.59" fill="#312192"/>
<rect x="191.40" y="366.51" width="6.73" height="6.59" fill="#312192"/>
<rect x="198.13" y="366.51" width="6.73" height="6.59" fill="#312192"/>
<rect x="204.87" y="366.51" width="6.73" height="6.59" fill="#312192"/>
<rect x="216.30" y="366.51" width="6.73" height="6.59" fill="#312192"/>
<rect x="223.03" y="366.51" width="6.73" height="6.59" fill="#493b9f"/>
<rect x="229.77" y="366.51" width="6.73" height="6.59" fill="#312192"/>
<rect x="242.40" y="366.51" width="6.73" height="6.59" fill="#685db0"/>
<rect x="249.13" y="366.51" width="6.73" height="6.59" fill="#685db0"/>
<rect x="255.87" y="366.51" width="6.73" height="6.59" fill="#312192"/>
<rect x="267.40" y="366.51" width="6.73" height="6.59" fill="#685db0"/>
<rect x="274.13" y="366.51" width="6.73" height="6.59" fill="#685db0"/>
<rect x="280.87" y="366.51" width="6.73" height="6.59" fill="#493b9f"/>
<rect x="292.30" y="366.51" width="6.73" height="6.59" fill="#e6181c"/>
<rect x="299.03" y="366.51" width="6.73" height="6.59" fill="#e9393e"/>
<rect x="305.77" y="366.51" width="6.73" height="6.59" fill="#e6181c"/>
<rect x="166.10" y="373.11" width="6.73" height="6.59" fill="#312192"/>
<rect x="172.83" y="373.11" width="6.73" height="6.59" fill="#312192"/>
<rect x="179.57" y="373.11" width="6.73" height="6.59" fill="#312192"/>
<rect x="191.40" y="373.11" width="6.73" height="6.59" fill="#312192"/>
<rect x="198.13" y="373.11" width="6.73" height="6.59" fill="#312192"/>
<rect x="204.87" y="373.11" width="6.73" height="6.59" fill="#312192"/>
<rect x="216.30" y="373.11" width="6.73" height="6.59" fill="#493b9f"/>
<rect x="223.03" y="373.11" width="6.73" height="6.59" fill="#493b9f"/>
<rect x="229.77" y="373.11" width="6.73" height="6.59" fill="#312192"/>
<rect x="242.40" y="373.11" width="6.73" height="6.59" fill="#847abf"/>
<rect x="249.13" y="373.11" width="6.73" height="6.59" fill="#847abf"/>
<rect x="255.87" y="373.11" width="6.73" height="6.59" fill="#a49dcf"/>
<rect x="267.40" y="373.11" width="6.73" height="6.59" fill="#a49dcf"/>
<rect x="274.13" y="373.11" width="6.73" height="6.59" fill="#c4bfe0"/>
<rect x="280.87" y="373.11" width="6.73" height="6.59" fill="#a49dcf"/>
<rect x="292.30" y="373.11" width="6.73" height="6.59" fill="#e9393e"/>
<rect x="299.03" y="373.11" width="6.73" height="6.59" fill="#e6181c"/>
<rect x="305.77" y="373.11" width="6.73" height="6.59" fill="#e6181c"/>
<rect x="166.10" y="379.70" width="6.73" height="6.59" fill="#312192"/>
<rect x="172.83" y="379.70" width="6.73" height="6.59" fill="#312192"/>
<rect x="179.57" y="379.70" width="6.73" height="6.59" fill="#312192"/>
<rect x="191.40" y="379.70" width="6.73" height="6.59" fill="#312192"/>
<rect x="198.13" y="379.70" width="6.73" height="6.59" fill="#312192"/>
<rect x="204.87" y="379.70" width="6.73" height="6.59" fill="#312192"/>
<rect x="216.30" y="379.70" width="6.73" height="6.59" fill="#493b9f"/>
<rect x="223.03" y="379.70" width="6.73" height="6.59" fill="#312192"/>
<rect x="229.77" y="379.70" width="6.73" height="6.59" fill="#493b9f"/>
<rect x="242.40" y="379.70" width="6.73" height="6.59" fill="#a49dcf"/>
<rect x="249.13" y="379.70" width="6.73" height="6.59" fill="#a49dcf"/>
<rect x="255.87" y="379.70" width="6.73" height="6.59" fill="#a49dcf"/>
<rect x="267.40" y="379.70" width="6.73" height="6.59" fill="#a49dcf"/>
<rect x="274.13" y="379.70" width="6.73" height="6.59" fill="#a49dcf"/>
<rect x="280.87" y="379.70" width="6.73" height="6.59" fill="#a49dcf"/>
<rect x="292.30" y="379.70" width="6.73" height="6.59" fill="#e6181c"/>
<rect x="299.03" y="379.70" width="6.73" height="6.59" fill="#e9393e"/>
<rect x="305.77" y="379.70" width="6.73" height="6.59" fill="#e6181c"/>
<rect x="166.10" y="386.30" width="6.73" height="6.59" fill="#312192"/>
<rect x="172.83" y="386.30" width="6.73" height="6.59" fill="#312192"/>
<rect x="179.57" y="386.30" width="6.73" height="6.59" fill="#312192"/>
<rect x="191.40" y="386.30" width="6.73" height="6.59" fill="#312192"/>
<rect x="198.13" y="386.30" width="6.73" height="6.59" fill="#312192"/>
<rect x="204.87" y="386.30" width="6.73" height="6.59" fill="#312192"/>
<rect x="216.30" y="386.30" width="6.73" height="6.59" fill="#312192"/>
<rect x="223.03" y="386.30" width="6.73" height="6.59" fill="#493b9f"/>
<rect x="229.77" y="386.30" width="6.73" height="6.59" fill="#312192"/>
<rect x="242.40" y="386.30" width="6.73" height="6.59" fill="#a49dcf"/>
<rect x="249.13" y="386.30" width="6.73" height="6.59" fill="#a49dcf"/>
<rect x="255.87" y="386.30" width="6.73" height="6.59" fill="#a49dcf"/>
<rect x="267.40" y="386.30" width="6.73" height="6.59" fill="#a49dcf"/>
<rect x="274.13" y="386.30" width="6.73" height="6.59" fill="#a49dcf"/>
<rect x="280.87" y="386.30" width="6.73" height="6.59" fill="#a49dcf"/>
<rect x="292.30" y="386.30" width="6.73" height="6.59" fill="#e6181c"/>
<rect x="299.03" y="386.30" width="6.73" height="6.59" fill="#e6181c"/>
<rect x="305.77" y="386.30" width="6.73" height="6.59" fill="#e9393e"/>
<rect x="166.10" y="392.89" width="6.73" height="6.59" fill="#312192"/>
<rect x="172.83" y="392.89" width="6.73" height="6.59" fill="#312192"/>
<rect x="179.57" y="392.89" width="6.73" height="6.59" fill="#312192"/>
<rect x="191.40" y="392.89" width="6.73" height="6.59" fill="#312192"/>
<rect x="198.13" y="392.89" width="6.73" height="6.59" fill="#312192"/>
<rect x="204.87" y="392.89" width="6.73" height="6.59" fill="#312192"/>
<rect x="216.30" y="392.89" width="6.73" height="6.59" fill="#493b9f"/>
<rect x="223.03" y="392.89" width="6.73" height="6.59" fill="#493b9f"/>
<rect x="229.77" y="392.89" width="6.73" height="6.59" fill="#312192"/>
<rect x="242.40" y="392.89" width="6.73" height="6.59" fill="#a49dcf"/>
<rect x="249.13" y="392.89" width="6.73" height="6.59" fill="#c4bfe0"/>
<rect x="255.87" y="392.89" width="6.73" height="6.59" fill="#a49dcf"/>
<rect x="267.40" y="392.89" width="6.73" height="6.59" fill="#c4bfe0"/>
<rect x="274.13" y="392.89" width="6.73" height="6.59" fill="#c4bfe0"/>
<rect x="280.87" y="392.89" width="6.73" height="6.59" fill="#c4bfe0"/>
<rect x="292.30" y="392.89" width="6.73" height="6.59" fill="#e6181c"/>
<rect x="299.03" y="392.89" width="6.73" height="6.59" fill="#e9393e"/>
<rect x="305.77" y="392.89" width="6.73" height="6.59" fill="#e6181c"/>
<line x1="172.83" y1="254.4" x2="172.83" y2="399.49" stroke="#fff" stroke-opacity="0.35" stroke-width="0.6"/>
<line x1="179.57" y1="254.4" x2="179.57" y2="399.49" stroke="#fff" stroke-opacity="0.35" stroke-width="0.6"/>
<line x1="166.1" y1="261.00" x2="186.29999999999998" y2="261.00" stroke="#fff" stroke-opacity="0.35" stroke-width="0.6"/>
<line x1="166.1" y1="267.59" x2="186.29999999999998" y2="267.59" stroke="#fff" stroke-opacity="0.35" stroke-width="0.6"/>
<line x1="166.1" y1="274.19" x2="186.29999999999998" y2="274.19" stroke="#fff" stroke-opacity="0.35" stroke-width="0.6"/>
<line x1="166.1" y1="280.78" x2="186.29999999999998" y2="280.78" stroke="#fff" stroke-opacity="0.35" stroke-width="0.6"/>
<line x1="166.1" y1="287.38" x2="186.29999999999998" y2="287.38" stroke="#fff" stroke-opacity="0.35" stroke-width="0.6"/>
<line x1="166.1" y1="293.97" x2="186.29999999999998" y2="293.97" stroke="#fff" stroke-opacity="0.35" stroke-width="0.6"/>
<line x1="166.1" y1="300.56" x2="186.29999999999998" y2="300.56" stroke="#fff" stroke-opacity="0.35" stroke-width="0.6"/>
<line x1="166.1" y1="307.16" x2="186.29999999999998" y2="307.16" stroke="#fff" stroke-opacity="0.35" stroke-width="0.6"/>
<line x1="166.1" y1="313.75" x2="186.29999999999998" y2="313.75" stroke="#fff" stroke-opacity="0.35" stroke-width="0.6"/>
<line x1="166.1" y1="320.35" x2="186.29999999999998" y2="320.35" stroke="#fff" stroke-opacity="0.35" stroke-width="0.6"/>
<line x1="166.1" y1="326.94" x2="186.29999999999998" y2="326.94" stroke="#fff" stroke-opacity="0.35" stroke-width="0.6"/>
<line x1="166.1" y1="333.54" x2="186.29999999999998" y2="333.54" stroke="#fff" stroke-opacity="0.35" stroke-width="0.6"/>
<line x1="166.1" y1="340.13" x2="186.29999999999998" y2="340.13" stroke="#fff" stroke-opacity="0.35" stroke-width="0.6"/>
<line x1="166.1" y1="346.73" x2="186.29999999999998" y2="346.73" stroke="#fff" stroke-opacity="0.35" stroke-width="0.6"/>
<line x1="166.1" y1="353.32" x2="186.29999999999998" y2="353.32" stroke="#fff" stroke-opacity="0.35" stroke-width="0.6"/>
<line x1="166.1" y1="359.92" x2="186.29999999999998" y2="359.92" stroke="#fff" stroke-opacity="0.35" stroke-width="0.6"/>
<line x1="166.1" y1="366.51" x2="186.29999999999998" y2="366.51" stroke="#fff" stroke-opacity="0.35" stroke-width="0.6"/>
<line x1="166.1" y1="373.11" x2="186.29999999999998" y2="373.11" stroke="#fff" stroke-opacity="0.35" stroke-width="0.6"/>
<line x1="166.1" y1="379.70" x2="186.29999999999998" y2="379.70" stroke="#fff" stroke-opacity="0.35" stroke-width="0.6"/>
<line x1="166.1" y1="386.30" x2="186.29999999999998" y2="386.30" stroke="#fff" stroke-opacity="0.35" stroke-width="0.6"/>
<line x1="166.1" y1="392.89" x2="186.29999999999998" y2="392.89" stroke="#fff" stroke-opacity="0.35" stroke-width="0.6"/>
<line x1="198.13" y1="254.4" x2="198.13" y2="399.49" stroke="#fff" stroke-opacity="0.35" stroke-width="0.6"/>
<line x1="204.87" y1="254.4" x2="204.87" y2="399.49" stroke="#fff" stroke-opacity="0.35" stroke-width="0.6"/>
<line x1="191.4" y1="261.00" x2="211.6" y2="261.00" stroke="#fff" stroke-opacity="0.35" stroke-width="0.6"/>
<line x1="191.4" y1="267.59" x2="211.6" y2="267.59" stroke="#fff" stroke-opacity="0.35" stroke-width="0.6"/>
<line x1="191.4" y1="274.19" x2="211.6" y2="274.19" stroke="#fff" stroke-opacity="0.35" stroke-width="0.6"/>
<line x1="191.4" y1="280.78" x2="211.6" y2="280.78" stroke="#fff" stroke-opacity="0.35" stroke-width="0.6"/>
<line x1="191.4" y1="287.38" x2="211.6" y2="287.38" stroke="#fff" stroke-opacity="0.35" stroke-width="0.6"/>
<line x1="191.4" y1="293.97" x2="211.6" y2="293.97" stroke="#fff" stroke-opacity="0.35" stroke-width="0.6"/>
<line x1="191.4" y1="300.56" x2="211.6" y2="300.56" stroke="#fff" stroke-opacity="0.35" stroke-width="0.6"/>
<line x1="191.4" y1="307.16" x2="211.6" y2="307.16" stroke="#fff" stroke-opacity="0.35" stroke-width="0.6"/>
<line x1="191.4" y1="313.75" x2="211.6" y2="313.75" stroke="#fff" stroke-opacity="0.35" stroke-width="0.6"/>
<line x1="191.4" y1="320.35" x2="211.6" y2="320.35" stroke="#fff" stroke-opacity="0.35" stroke-width="0.6"/>
<line x1="191.4" y1="326.94" x2="211.6" y2="326.94" stroke="#fff" stroke-opacity="0.35" stroke-width="0.6"/>
<line x1="191.4" y1="333.54" x2="211.6" y2="333.54" stroke="#fff" stroke-opacity="0.35" stroke-width="0.6"/>
<line x1="191.4" y1="340.13" x2="211.6" y2="340.13" stroke="#fff" stroke-opacity="0.35" stroke-width="0.6"/>
<line x1="191.4" y1="346.73" x2="211.6" y2="346.73" stroke="#fff" stroke-opacity="0.35" stroke-width="0.6"/>
<line x1="191.4" y1="353.32" x2="211.6" y2="353.32" stroke="#fff" stroke-opacity="0.35" stroke-width="0.6"/>
<line x1="191.4" y1="359.92" x2="211.6" y2="359.92" stroke="#fff" stroke-opacity="0.35" stroke-width="0.6"/>
<line x1="191.4" y1="366.51" x2="211.6" y2="366.51" stroke="#fff" stroke-opacity="0.35" stroke-width="0.6"/>
<line x1="191.4" y1="373.11" x2="211.6" y2="373.11" stroke="#fff" stroke-opacity="0.35" stroke-width="0.6"/>
<line x1="191.4" y1="379.70" x2="211.6" y2="379.70" stroke="#fff" stroke-opacity="0.35" stroke-width="0.6"/>
<line x1="191.4" y1="386.30" x2="211.6" y2="386.30" stroke="#fff" stroke-opacity="0.35" stroke-width="0.6"/>
<line x1="191.4" y1="392.89" x2="211.6" y2="392.89" stroke="#fff" stroke-opacity="0.35" stroke-width="0.6"/>
<line x1="223.03" y1="254.4" x2="223.03" y2="399.49" stroke="#fff" stroke-opacity="0.35" stroke-width="0.6"/>
<line x1="229.77" y1="254.4" x2="229.77" y2="399.49" stroke="#fff" stroke-opacity="0.35" stroke-width="0.6"/>
<line x1="216.3" y1="261.00" x2="236.5" y2="261.00" stroke="#fff" stroke-opacity="0.35" stroke-width="0.6"/>
<line x1="216.3" y1="267.59" x2="236.5" y2="267.59" stroke="#fff" stroke-opacity="0.35" stroke-width="0.6"/>
<line x1="216.3" y1="274.19" x2="236.5" y2="274.19" stroke="#fff" stroke-opacity="0.35" stroke-width="0.6"/>
<line x1="216.3" y1="280.78" x2="236.5" y2="280.78" stroke="#fff" stroke-opacity="0.35" stroke-width="0.6"/>
<line x1="216.3" y1="287.38" x2="236.5" y2="287.38" stroke="#fff" stroke-opacity="0.35" stroke-width="0.6"/>
<line x1="216.3" y1="293.97" x2="236.5" y2="293.97" stroke="#fff" stroke-opacity="0.35" stroke-width="0.6"/>
<line x1="216.3" y1="300.56" x2="236.5" y2="300.56" stroke="#fff" stroke-opacity="0.35" stroke-width="0.6"/>
<line x1="216.3" y1="307.16" x2="236.5" y2="307.16" stroke="#fff" stroke-opacity="0.35" stroke-width="0.6"/>
<line x1="216.3" y1="313.75" x2="236.5" y2="313.75" stroke="#fff" stroke-opacity="0.35" stroke-width="0.6"/>
<line x1="216.3" y1="320.35" x2="236.5" y2="320.35" stroke="#fff" stroke-opacity="0.35" stroke-width="0.6"/>
<line x1="216.3" y1="326.94" x2="236.5" y2="326.94" stroke="#fff" stroke-opacity="0.35" stroke-width="0.6"/>
<line x1="216.3" y1="333.54" x2="236.5" y2="333.54" stroke="#fff" stroke-opacity="0.35" stroke-width="0.6"/>
<line x1="216.3" y1="340.13" x2="236.5" y2="340.13" stroke="#fff" stroke-opacity="0.35" stroke-width="0.6"/>
<line x1="216.3" y1="346.73" x2="236.5" y2="346.73" stroke="#fff" stroke-opacity="0.35" stroke-width="0.6"/>
<line x1="216.3" y1="353.32" x2="236.5" y2="353.32" stroke="#fff" stroke-opacity="0.35" stroke-width="0.6"/>
<line x1="216.3" y1="359.92" x2="236.5" y2="359.92" stroke="#fff" stroke-opacity="0.35" stroke-width="0.6"/>
<line x1="216.3" y1="366.51" x2="236.5" y2="366.51" stroke="#fff" stroke-opacity="0.35" stroke-width="0.6"/>
<line x1="216.3" y1="373.11" x2="236.5" y2="373.11" stroke="#fff" stroke-opacity="0.35" stroke-width="0.6"/>
<line x1="216.3" y1="379.70" x2="236.5" y2="379.70" stroke="#fff" stroke-opacity="0.35" stroke-width="0.6"/>
<line x1="216.3" y1="386.30" x2="236.5" y2="386.30" stroke="#fff" stroke-opacity="0.35" stroke-width="0.6"/>
<line x1="216.3" y1="392.89" x2="236.5" y2="392.89" stroke="#fff" stroke-opacity="0.35" stroke-width="0.6"/>
<line x1="249.13" y1="254.4" x2="249.13" y2="399.49" stroke="#fff" stroke-opacity="0.35" stroke-width="0.6"/>
<line x1="255.87" y1="254.4" x2="255.87" y2="399.49" stroke="#fff" stroke-opacity="0.35" stroke-width="0.6"/>
<line x1="242.4" y1="261.00" x2="262.6" y2="261.00" stroke="#fff" stroke-opacity="0.35" stroke-width="0.6"/>
<line x1="242.4" y1="267.59" x2="262.6" y2="267.59" stroke="#fff" stroke-opacity="0.35" stroke-width="0.6"/>
<line x1="242.4" y1="274.19" x2="262.6" y2="274.19" stroke="#fff" stroke-opacity="0.35" stroke-width="0.6"/>
<line x1="242.4" y1="280.78" x2="262.6" y2="280.78" stroke="#fff" stroke-opacity="0.35" stroke-width="0.6"/>
<line x1="242.4" y1="287.38" x2="262.6" y2="287.38" stroke="#fff" stroke-opacity="0.35" stroke-width="0.6"/>
<line x1="242.4" y1="293.97" x2="262.6" y2="293.97" stroke="#fff" stroke-opacity="0.35" stroke-width="0.6"/>
<line x1="242.4" y1="300.56" x2="262.6" y2="300.56" stroke="#fff" stroke-opacity="0.35" stroke-width="0.6"/>
<line x1="242.4" y1="307.16" x2="262.6" y2="307.16" stroke="#fff" stroke-opacity="0.35" stroke-width="0.6"/>
<line x1="242.4" y1="313.75" x2="262.6" y2="313.75" stroke="#fff" stroke-opacity="0.35" stroke-width="0.6"/>
<line x1="242.4" y1="320.35" x2="262.6" y2="320.35" stroke="#fff" stroke-opacity="0.35" stroke-width="0.6"/>
<line x1="242.4" y1="326.94" x2="262.6" y2="326.94" stroke="#fff" stroke-opacity="0.35" stroke-width="0.6"/>
<line x1="242.4" y1="333.54" x2="262.6" y2="333.54" stroke="#fff" stroke-opacity="0.35" stroke-width="0.6"/>
<line x1="242.4" y1="340.13" x2="262.6" y2="340.13" stroke="#fff" stroke-opacity="0.35" stroke-width="0.6"/>
<line x1="242.4" y1="346.73" x2="262.6" y2="346.73" stroke="#fff" stroke-opacity="0.35" stroke-width="0.6"/>
<line x1="242.4" y1="353.32" x2="262.6" y2="353.32" stroke="#fff" stroke-opacity="0.35" stroke-width="0.6"/>
<line x1="242.4" y1="359.92" x2="262.6" y2="359.92" stroke="#fff" stroke-opacity="0.35" stroke-width="0.6"/>
<line x1="242.4" y1="366.51" x2="262.6" y2="366.51" stroke="#fff" stroke-opacity="0.35" stroke-width="0.6"/>
<line x1="242.4" y1="373.11" x2="262.6" y2="373.11" stroke="#fff" stroke-opacity="0.35" stroke-width="0.6"/>
<line x1="242.4" y1="379.70" x2="262.6" y2="379.70" stroke="#fff" stroke-opacity="0.35" stroke-width="0.6"/>
<line x1="242.4" y1="386.30" x2="262.6" y2="386.30" stroke="#fff" stroke-opacity="0.35" stroke-width="0.6"/>
<line x1="242.4" y1="392.89" x2="262.6" y2="392.89" stroke="#fff" stroke-opacity="0.35" stroke-width="0.6"/>
<line x1="274.13" y1="254.4" x2="274.13" y2="399.49" stroke="#fff" stroke-opacity="0.35" stroke-width="0.6"/>
<line x1="280.87" y1="254.4" x2="280.87" y2="399.49" stroke="#fff" stroke-opacity="0.35" stroke-width="0.6"/>
<line x1="267.4" y1="261.00" x2="287.59999999999997" y2="261.00" stroke="#fff" stroke-opacity="0.35" stroke-width="0.6"/>
<line x1="267.4" y1="267.59" x2="287.59999999999997" y2="267.59" stroke="#fff" stroke-opacity="0.35" stroke-width="0.6"/>
<line x1="267.4" y1="274.19" x2="287.59999999999997" y2="274.19" stroke="#fff" stroke-opacity="0.35" stroke-width="0.6"/>
<line x1="267.4" y1="280.78" x2="287.59999999999997" y2="280.78" stroke="#fff" stroke-opacity="0.35" stroke-width="0.6"/>
<line x1="267.4" y1="287.38" x2="287.59999999999997" y2="287.38" stroke="#fff" stroke-opacity="0.35" stroke-width="0.6"/>
<line x1="267.4" y1="293.97" x2="287.59999999999997" y2="293.97" stroke="#fff" stroke-opacity="0.35" stroke-width="0.6"/>
<line x1="267.4" y1="300.56" x2="287.59999999999997" y2="300.56" stroke="#fff" stroke-opacity="0.35" stroke-width="0.6"/>
<line x1="267.4" y1="307.16" x2="287.59999999999997" y2="307.16" stroke="#fff" stroke-opacity="0.35" stroke-width="0.6"/>
<line x1="267.4" y1="313.75" x2="287.59999999999997" y2="313.75" stroke="#fff" stroke-opacity="0.35" stroke-width="0.6"/>
<line x1="267.4" y1="320.35" x2="287.59999999999997" y2="320.35" stroke="#fff" stroke-opacity="0.35" stroke-width="0.6"/>
<line x1="267.4" y1="326.94" x2="287.59999999999997" y2="326.94" stroke="#fff" stroke-opacity="0.35" stroke-width="0.6"/>
<line x1="267.4" y1="333.54" x2="287.59999999999997" y2="333.54" stroke="#fff" stroke-opacity="0.35" stroke-width="0.6"/>
<line x1="267.4" y1="340.13" x2="287.59999999999997" y2="340.13" stroke="#fff" stroke-opacity="0.35" stroke-width="0.6"/>
<line x1="267.4" y1="346.73" x2="287.59999999999997" y2="346.73" stroke="#fff" stroke-opacity="0.35" stroke-width="0.6"/>
<line x1="267.4" y1="353.32" x2="287.59999999999997" y2="353.32" stroke="#fff" stroke-opacity="0.35" stroke-width="0.6"/>
<line x1="267.4" y1="359.92" x2="287.59999999999997" y2="359.92" stroke="#fff" stroke-opacity="0.35" stroke-width="0.6"/>
<line x1="267.4" y1="366.51" x2="287.59999999999997" y2="366.51" stroke="#fff" stroke-opacity="0.35" stroke-width="0.6"/>
<line x1="267.4" y1="373.11" x2="287.59999999999997" y2="373.11" stroke="#fff" stroke-opacity="0.35" stroke-width="0.6"/>
<line x1="267.4" y1="379.70" x2="287.59999999999997" y2="379.70" stroke="#fff" stroke-opacity="0.35" stroke-width="0.6"/>
<line x1="267.4" y1="386.30" x2="287.59999999999997" y2="386.30" stroke="#fff" stroke-opacity="0.35" stroke-width="0.6"/>
<line x1="267.4" y1="392.89" x2="287.59999999999997" y2="392.89" stroke="#fff" stroke-opacity="0.35" stroke-width="0.6"/>
<line x1="299.03" y1="254.4" x2="299.03" y2="399.49" stroke="#fff" stroke-opacity="0.35" stroke-width="0.6"/>
<line x1="305.77" y1="254.4" x2="305.77" y2="399.49" stroke="#fff" stroke-opacity="0.35" stroke-width="0.6"/>
<line x1="292.3" y1="261.00" x2="312.5" y2="261.00" stroke="#fff" stroke-opacity="0.35" stroke-width="0.6"/>
<line x1="292.3" y1="267.59" x2="312.5" y2="267.59" stroke="#fff" stroke-opacity="0.35" stroke-width="0.6"/>
<line x1="292.3" y1="274.19" x2="312.5" y2="274.19" stroke="#fff" stroke-opacity="0.35" stroke-width="0.6"/>
<line x1="292.3" y1="280.78" x2="312.5" y2="280.78" stroke="#fff" stroke-opacity="0.35" stroke-width="0.6"/>
<line x1="292.3" y1="287.38" x2="312.5" y2="287.38" stroke="#fff" stroke-opacity="0.35" stroke-width="0.6"/>
<line x1="292.3" y1="293.97" x2="312.5" y2="293.97" stroke="#fff" stroke-opacity="0.35" stroke-width="0.6"/>
<line x1="292.3" y1="300.56" x2="312.5" y2="300.56" stroke="#fff" stroke-opacity="0.35" stroke-width="0.6"/>
<line x1="292.3" y1="307.16" x2="312.5" y2="307.16" stroke="#fff" stroke-opacity="0.35" stroke-width="0.6"/>
<line x1="292.3" y1="313.75" x2="312.5" y2="313.75" stroke="#fff" stroke-opacity="0.35" stroke-width="0.6"/>
<line x1="292.3" y1="320.35" x2="312.5" y2="320.35" stroke="#fff" stroke-opacity="0.35" stroke-width="0.6"/>
<line x1="292.3" y1="326.94" x2="312.5" y2="326.94" stroke="#fff" stroke-opacity="0.35" stroke-width="0.6"/>
<line x1="292.3" y1="333.54" x2="312.5" y2="333.54" stroke="#fff" stroke-opacity="0.35" stroke-width="0.6"/>
<line x1="292.3" y1="340.13" x2="312.5" y2="340.13" stroke="#fff" stroke-opacity="0.35" stroke-width="0.6"/>
<line x1="292.3" y1="346.73" x2="312.5" y2="346.73" stroke="#fff" stroke-opacity="0.35" stroke-width="0.6"/>
<line x1="292.3" y1="353.32" x2="312.5" y2="353.32" stroke="#fff" stroke-opacity="0.35" stroke-width="0.6"/>
<line x1="292.3" y1="359.92" x2="312.5" y2="359.92" stroke="#fff" stroke-opacity="0.35" stroke-width="0.6"/>
<line x1="292.3" y1="366.51" x2="312.5" y2="366.51" stroke="#fff" stroke-opacity="0.35" stroke-width="0.6"/>
<line x1="292.3" y1="373.11" x2="312.5" y2="373.11" stroke="#fff" stroke-opacity="0.35" stroke-width="0.6"/>
<line x1="292.3" y1="379.70" x2="312.5" y2="379.70" stroke="#fff" stroke-opacity="0.35" stroke-width="0.6"/>
<line x1="292.3" y1="386.30" x2="312.5" y2="386.30" stroke="#fff" stroke-opacity="0.35" stroke-width="0.6"/>
<line x1="292.3" y1="392.89" x2="312.5" y2="392.89" stroke="#fff" stroke-opacity="0.35" stroke-width="0.6"/>
<text x="314.5" y="259.2975" font-size="6.1" text-anchor="start" fill="#333" stroke="#333" stroke-width="0.12" font-style="normal" font-weight="normal" >Methylmalonyl-</text>
<text x="314.5" y="265.89250000000004" font-size="6.1" text-anchor="start" fill="#333" stroke="#333" stroke-width="0.12" font-style="normal" font-weight="normal" >C5-OH</text>
<text x="314.5" y="272.48750000000007" font-size="6.1" text-anchor="start" fill="#333" stroke="#333" stroke-width="0.12" font-style="normal" font-weight="normal" >Carnitine</text>
<text x="314.5" y="279.08250000000004" font-size="6.1" text-anchor="start" fill="#333" stroke="#333" stroke-width="0.12" font-style="normal" font-weight="normal" >C2</text>
<text x="314.5" y="285.67750000000007" font-size="6.1" text-anchor="start" fill="#333" stroke="#333" stroke-width="0.12" font-style="normal" font-weight="normal" >C3</text>
<text x="314.5" y="292.27250000000004" font-size="6.1" text-anchor="start" fill="#333" stroke="#333" stroke-width="0.12" font-style="normal" font-weight="normal" >C4</text>
<text x="314.5" y="298.86750000000006" font-size="6.1" text-anchor="start" fill="#333" stroke="#333" stroke-width="0.12" font-style="normal" font-weight="normal" >C14:1</text>
<text x="314.5" y="305.46250000000003" font-size="6.1" text-anchor="start" fill="#333" stroke="#333" stroke-width="0.12" font-style="normal" font-weight="normal" >C12:0</text>
<text x="314.5" y="312.05750000000006" font-size="6.1" text-anchor="start" fill="#333" stroke="#333" stroke-width="0.12" font-style="normal" font-weight="normal" >C8:1</text>
<text x="314.5" y="318.65250000000003" font-size="6.1" text-anchor="start" fill="#333" stroke="#333" stroke-width="0.12" font-style="normal" font-weight="normal" >C5:1</text>
<text x="314.5" y="325.24750000000006" font-size="6.1" text-anchor="start" fill="#333" stroke="#333" stroke-width="0.12" font-style="normal" font-weight="normal" >C4-OH</text>
<text x="314.5" y="331.84250000000003" font-size="6.1" text-anchor="start" fill="#333" stroke="#333" stroke-width="0.12" font-style="normal" font-weight="normal" >C10:1</text>
<text x="314.5" y="338.43750000000006" font-size="6.1" text-anchor="start" fill="#333" stroke="#333" stroke-width="0.12" font-style="normal" font-weight="normal" >C14:0</text>
<text x="314.5" y="345.0325" font-size="6.1" text-anchor="start" fill="#333" stroke="#333" stroke-width="0.12" font-style="normal" font-weight="normal" >C6:0</text>
<text x="314.5" y="351.62750000000005" font-size="6.1" text-anchor="start" fill="#333" stroke="#333" stroke-width="0.12" font-style="normal" font-weight="normal" >C16:0</text>
<text x="314.5" y="358.2225" font-size="6.1" text-anchor="start" fill="#333" stroke="#333" stroke-width="0.12" font-style="normal" font-weight="normal" >C18:2-OH</text>
<text x="314.5" y="364.81750000000005" font-size="6.1" text-anchor="start" fill="#333" stroke="#333" stroke-width="0.12" font-style="normal" font-weight="normal" >C16:1</text>
<text x="314.5" y="371.4125" font-size="6.1" text-anchor="start" fill="#333" stroke="#333" stroke-width="0.12" font-style="normal" font-weight="normal" >C18:1</text>
<text x="314.5" y="378.00750000000005" font-size="6.1" text-anchor="start" fill="#333" stroke="#333" stroke-width="0.12" font-style="normal" font-weight="normal" >C8</text>
<text x="314.5" y="384.6025" font-size="6.1" text-anchor="start" fill="#333" stroke="#333" stroke-width="0.12" font-style="normal" font-weight="normal" >C18:2</text>
<text x="314.5" y="391.19750000000005" font-size="6.1" text-anchor="start" fill="#333" stroke="#333" stroke-width="0.12" font-style="normal" font-weight="normal" >C20:4</text>
<text x="314.5" y="397.7925" font-size="6.1" text-anchor="start" fill="#333" stroke="#333" stroke-width="0.12" font-style="normal" font-weight="normal" >C18:0</text>
<rect x="174.4" y="406.9" width="8" height="3.2" fill="#888" stroke="#555" stroke-width="0.6"/>
<text x="186.0" y="410.8" font-size="6.95" text-anchor="start" fill="#333" stroke="#333" stroke-width="0.12" font-style="italic" font-weight="normal" >Control</text>
<rect x="212.2" y="406.9" width="8.2" height="3.2" fill="#b5d3ee" stroke="#5f7f9f" stroke-width="0.6"/>
<text x="223.7" y="410.8" font-size="6.95" text-anchor="start" fill="#333" stroke="#333" stroke-width="0.12" font-style="italic" font-weight="normal" >D-Carnitine</text>
<rect x="261.4" y="406.9" width="8.2" height="3.2" fill="#245d8f" stroke="#1c4a75" stroke-width="0.6"/>
<text x="273.3" y="410.8" font-size="6.6" text-anchor="start" fill="#333" stroke="#333" stroke-width="0.12" font-style="italic" font-weight="normal" >L-carnitine</text>
<text x="122.6" y="439.3" font-size="11.8" text-anchor="start" fill="#111" stroke="#111" stroke-width="0.18" font-style="normal" font-weight="bold" >H</text>
<text x="237.7" y="452.7" font-size="8.93" text-anchor="middle" fill="#333" stroke="#333" stroke-width="0.18" font-style="italic" font-weight="normal" >Post transfusion Recovery in mice</text>
<g transform="translate(139.26,463.35) scale(1.126)"><path d="M27,10.8 C31,9.6 34.5,7 38.3,7 C40.8,7.1 40.6,10 37.6,12.2" fill="none" stroke="#dbb4ac" stroke-width="1.15" stroke-linecap="round"/><path d="M8.6,14.5 L8.3,22.1 L6.0,22.5 M20.2,16.5 L20.3,24.5 L22.6,24.8" fill="none" stroke="#d4c9c9" stroke-width="1.6" stroke-linecap="round" stroke-linejoin="round"/><path d="M0.3,7.5 C2,4.6 5,1.9 9,1.6 C12,1.4 14,2.6 17,2.6 C23,2.6 28.2,5.6 28.6,10.6 C29,15.2 25,18 18.5,18.3 C12.5,18.5 8.5,16.8 6.3,13.8 C4.4,11.6 1.8,9.6 0.3,7.5 Z" fill="#f1efef" stroke="#d4c9c9" stroke-width="0.5"/><path d="M9,16.2 C12.5,18.3 20,18.6 24.5,16.8 C26.5,15.5 27.8,13.6 28.3,12 C26,15 20,16.5 14,15.8 Z" fill="#dedad9"/><path d="M5,3.4 L6.5,0.4 L8.9,2.6 Z" fill="#f1efef" stroke="#d4c9c9" stroke-width="0.5" stroke-linejoin="round"/><circle cx="16.2" cy="3.7" r="3.55" fill="#e8b2a8" stroke="#d4c9c9" stroke-width="0.35"/><circle cx="16.0" cy="3.9" r="2.1" fill="#f0c4bc"/><circle cx="8.3" cy="6.5" r="0.85" fill="#333"/></g>
<line x1="179" y1="480.4" x2="191" y2="480.4" stroke="#a47646" stroke-width="1"/>
<path d="M189.5,478 L194.6,480.4 L189.5,482.8 Z" fill="#a47646"/>
<ellipse cx="208.0" cy="477.0" rx="7.9" ry="7.0" fill="#d5344d" stroke="#a8162f" stroke-width="1.0"/><ellipse cx="208.0" cy="477.0" rx="4.3" ry="3.6" fill="#c8253f"/><circle cx="207.6" cy="477.3" r="1.4" fill="#b01a33"/>
<ellipse cx="224.5" cy="476.8" rx="7.0" ry="6.8" fill="#d5344d" stroke="#a8162f" stroke-width="1.0"/><ellipse cx="224.5" cy="476.8" rx="3.6" ry="3.6" fill="#c8253f"/><circle cx="224.2" cy="477.1" r="1.3" fill="#b01a33"/>
<polygon points="245.70,477.50 243.26,478.59 244.83,480.75 242.17,480.47 242.45,483.13 240.29,481.56 239.20,484.00 238.11,481.56 235.95,483.13 236.23,480.47 233.57,480.75 235.14,478.59 232.70,477.50 235.14,476.41 233.57,474.25 236.23,474.53 235.95,471.87 238.11,473.44 239.20,471.00 240.29,473.44 242.45,471.87 242.17,474.53 244.83,474.25 243.26,476.41" fill="#c42039"/>
<circle cx="247.4" cy="473.8" r="1.25" fill="#a8182f"/>
<circle cx="251.3" cy="474.3" r="1.25" fill="#a8182f"/>
<circle cx="248.8" cy="477.5" r="1.25" fill="#a8182f"/>
<line x1="255" y1="480.4" x2="266.5" y2="480.4" stroke="#a47646" stroke-width="1"/>
<path d="M265.2,478 L270.0,480.4 L265.2,482.8 Z" fill="#a47646"/>
<g transform="translate(269.06,463.2) scale(1.145)"><path d="M27,10.8 C31,9.6 34.5,7 38.3,7 C40.8,7.1 40.6,10 37.6,12.2" fill="none" stroke="#8fbf7a" stroke-width="1.15" stroke-linecap="round"/><path d="M8.6,14.5 L8.3,22.1 L6.0,22.5 M20.2,16.5 L20.3,24.5 L22.6,24.8" fill="none" stroke="#84b96e" stroke-width="1.6" stroke-linecap="round" stroke-linejoin="round"/><path d="M0.3,7.5 C2,4.6 5,1.9 9,1.6 C12,1.4 14,2.6 17,2.6 C23,2.6 28.2,5.6 28.6,10.6 C29,15.2 25,18 18.5,18.3 C12.5,18.5 8.5,16.8 6.3,13.8 C4.4,11.6 1.8,9.6 0.3,7.5 Z" fill="#a9da92" stroke="#84b96e" stroke-width="0.5"/><path d="M9,16.2 C12.5,18.3 20,18.6 24.5,16.8 C26.5,15.5 27.8,13.6 28.3,12 C26,15 20,16.5 14,15.8 Z" fill="#96c981"/><path d="M5,3.4 L6.5,0.4 L8.9,2.6 Z" fill="#a9da92" stroke="#84b96e" stroke-width="0.5" stroke-linejoin="round"/><circle cx="16.2" cy="3.7" r="3.55" fill="#93c87a" stroke="#84b96e" stroke-width="0.35"/><circle cx="16.0" cy="3.9" r="2.1" fill="#9fd086"/><circle cx="8.3" cy="6.5" r="0.85" fill="#2a4a2a"/></g>
<text x="155.7" y="503.9" font-size="6.5" text-anchor="middle" fill="#333" stroke="#333" stroke-width="0.12" font-style="italic" font-weight="normal" >FVB mouse</text>
<text x="222.2" y="503.9" font-size="7.0" text-anchor="middle" fill="#333" stroke="#333" stroke-width="0.12" font-style="italic" font-weight="normal" >Blood storage</text>
<text x="222.5" y="512.2" font-size="6.9" text-anchor="middle" fill="#333" stroke="#333" stroke-width="0.12" font-style="italic" font-weight="normal" >(7d)</text>
<text x="287.0" y="503.9" font-size="6.67" text-anchor="middle" fill="#333" stroke="#333" stroke-width="0.12" font-style="italic" font-weight="normal" >GFP Recipient</text>
<line x1="180.4" y1="515.6" x2="180.4" y2="628.4" stroke="#222" stroke-width="0.95"/>
<line x1="177.6" y1="628.3" x2="180.2" y2="628.3" stroke="#222" stroke-width="0.9"/>
<text x="176.2" y="630.5999999999999" font-size="6.4" text-anchor="end" fill="#333" stroke="#333" stroke-width="0.12" font-style="normal" font-weight="normal" >0</text>
<line x1="177.6" y1="605.9" x2="180.2" y2="605.9" stroke="#222" stroke-width="0.9"/>
<text x="176.2" y="608.1999999999999" font-size="6.4" text-anchor="end" fill="#333" stroke="#333" stroke-width="0.12" font-style="normal" font-weight="normal" >10</text>
<line x1="177.6" y1="583.5" x2="180.2" y2="583.5" stroke="#222" stroke-width="0.9"/>
<text x="176.2" y="585.8" font-size="6.4" text-anchor="end" fill="#333" stroke="#333" stroke-width="0.12" font-style="normal" font-weight="normal" >20</text>
<line x1="177.6" y1="561.1" x2="180.2" y2="561.1" stroke="#222" stroke-width="0.9"/>
<text x="176.2" y="563.3999999999999" font-size="6.4" text-anchor="end" fill="#333" stroke="#333" stroke-width="0.12" font-style="normal" font-weight="normal" >30</text>
<line x1="177.6" y1="538.7" x2="180.2" y2="538.7" stroke="#222" stroke-width="0.9"/>
<text x="176.2" y="540.9999999999999" font-size="6.4" text-anchor="end" fill="#333" stroke="#333" stroke-width="0.12" font-style="normal" font-weight="normal" >40</text>
<line x1="177.6" y1="516.3" x2="180.2" y2="516.3" stroke="#222" stroke-width="0.9"/>
<text x="176.2" y="518.5999999999999" font-size="6.4" text-anchor="end" fill="#333" stroke="#333" stroke-width="0.12" font-style="normal" font-weight="normal" >50</text>
<rect x="196.4" y="585.8" width="27" height="42.5" fill="#1b4d8a"/>
<rect x="239.6" y="543.7" width="26.9" height="84.6" fill="#c8102e"/>
<line x1="180.2" y1="628.4" x2="282" y2="628.4" stroke="#222" stroke-width="0.95"/>
<line x1="209.6" y1="628.3" x2="209.6" y2="630.8" stroke="#222" stroke-width="0.9"/>
<line x1="253" y1="628.3" x2="253" y2="630.8" stroke="#222" stroke-width="0.9"/>
<circle cx="197.7" cy="585.7" r="1.75" fill="#111"/>
<circle cx="205.8" cy="585.7" r="1.75" fill="#111"/>
<circle cx="214.3" cy="585.7" r="1.75" fill="#111"/>
<circle cx="222.6" cy="585.7" r="1.75" fill="#111"/>
<path d="M210.1,581.2 V528.7 H253.1 V533" stroke="#444" stroke-width="0.7" fill="none"/>
<text x="231.3" y="528.6" font-size="7.4" text-anchor="middle" fill="#333" stroke="#333" stroke-width="0.12" font-style="normal" font-weight="normal" >****</text>
<line x1="252.7" y1="537.4" x2="252.7" y2="550.4" stroke="#111" stroke-width="2.2"/>
<line x1="246.6" y1="537.4" x2="259" y2="537.4" stroke="#111" stroke-width="0.9"/>
<path d="M246.6,537.6 H251.3 L250.3,541.3 H247.6 Z M254.3,537.6 H259 L258,541.3 H255.3 Z" fill="#111"/>
<rect x="251.2" y="546.5" width="3" height="3" fill="#111"/>
<text x="0" y="0" font-size="6.5" fill="#333" font-style="italic" text-anchor="middle" transform="translate(160.3,573) rotate(-90)">Post tranfusion recovery (%)</text>
<text x="209.6" y="640.3" font-size="6.3" text-anchor="middle" fill="#333" stroke="#333" stroke-width="0.12" font-style="normal" font-weight="normal" >FVB</text>
<text x="253.0" y="640.3" font-size="6.67" text-anchor="middle" fill="#333" stroke="#333" stroke-width="0.12" font-style="normal" font-weight="normal" >FVB + L-carnitine</text>
<text x="448.4" y="17.3" font-size="12.4" text-anchor="start" fill="#111" stroke="#111" stroke-width="0.18" font-style="normal" font-weight="bold" >G&#8217;</text>
<text x="0" y="0" font-size="6.8" fill="#333" transform="translate(474.3,49.2) rotate(-45)">Fresh</text>
<text x="0" y="0" font-size="6.8" fill="#333" transform="translate(492.8,49.4) rotate(-45)">Stored</text>
<line x1="468.8" y1="52.4" x2="485.2" y2="52.4" stroke="#444" stroke-width="0.9"/>
<line x1="487.3" y1="52.4" x2="503.2" y2="52.4" stroke="#444" stroke-width="0.9"/>
<text x="0" y="0" font-size="5.6" fill="#333" transform="translate(474.02,85.0) rotate(-90)">Untreated</text>
<text x="0" y="0" font-size="5.6" fill="#333" transform="translate(479.25,85.0) rotate(-90)">D-Carnitine</text>
<text x="0" y="0" font-size="5.6" fill="#333" transform="translate(484.48,85.0) rotate(-90)">L-Carnitine</text>
<text x="0" y="0" font-size="5.6" fill="#333" transform="translate(489.72,85.0) rotate(-90)">Untreated</text>
<text x="0" y="0" font-size="5.6" fill="#333" transform="translate(494.95,85.0) rotate(-90)">D-Carnitine</text>
<text x="0" y="0" font-size="5.6" fill="#333" transform="translate(500.18,85.0) rotate(-90)">L-Carnitine</text>
<rect x="469.50" y="87.1" width="5.23" height="1.5" fill="#6b7286"/>
<rect x="474.73" y="87.1" width="5.23" height="1.5" fill="#6b7286"/>
<rect x="479.97" y="87.1" width="5.23" height="1.5" fill="#4d7db4"/>
<rect x="485.20" y="87.1" width="5.23" height="1.5" fill="#6c9aa4"/>
<rect x="490.43" y="87.1" width="5.23" height="1.5" fill="#7a8aa0"/>
<rect x="495.67" y="87.1" width="5.23" height="1.5" fill="#5a78a8"/>
<rect x="469.60" y="89.60" width="15.35" height="156.21" fill="#312192"/>
<rect x="484.95" y="89.60" width="15.35" height="156.21" fill="#e6181c"/>
<rect x="469.60" y="245.81" width="25.58" height="34.44" fill="#312192"/>
<rect x="495.18" y="245.81" width="5.12" height="34.44" fill="#e6181c"/>
<rect x="469.60" y="280.25" width="15.35" height="301.35" fill="#e6181c"/>
<rect x="484.95" y="280.25" width="15.35" height="301.35" fill="#312192"/>
<path fill="#f7f6fc" d="M471.3 89.6h3.46v1.28h-3.46zM485.0 89.6h3.46v1.28h-3.46zM488.4 90.8h1.76v1.28h-1.76zM486.7 92.1h1.76v1.28h-1.76zM490.1 92.1h1.76v1.28h-1.76zM493.5 93.3h1.76v1.28h-1.76zM476.4 94.5h3.46v1.28h-3.46zM493.5 97.0h1.76v1.28h-1.76zM490.1 100.7h1.76v1.28h-1.76zM473.0 101.9h1.76v1.28h-1.76zM471.3 105.6h1.76v1.28h-1.76zM474.7 106.8h3.46v1.28h-3.46zM491.8 108.0h1.76v1.28h-1.76zM498.6 108.0h1.76v1.28h-1.76zM490.1 109.3h5.17v1.28h-5.17zM471.3 111.7h1.76v1.28h-1.76zM485.0 111.7h1.76v1.28h-1.76zM493.5 111.7h1.76v1.28h-1.76zM481.5 113.0h1.76v1.28h-1.76zM490.1 113.0h5.17v1.28h-5.17zM491.8 114.2h1.76v1.28h-1.76zM485.0 115.4h1.76v1.28h-1.76zM490.1 115.4h3.46v1.28h-3.46zM478.1 116.7h1.76v1.28h-1.76zM486.7 117.9h3.46v1.28h-3.46zM491.8 117.9h1.76v1.28h-1.76zM486.7 119.1h3.46v1.28h-3.46zM495.2 119.1h1.76v1.28h-1.76zM469.6 121.6h1.76v1.28h-1.76zM490.1 121.6h3.46v1.28h-3.46zM471.3 122.8h3.46v1.28h-3.46zM490.1 122.8h5.17v1.28h-5.17zM483.2 125.3h1.76v1.28h-1.76zM478.1 133.9h1.76v1.28h-1.76zM476.4 135.1h1.76v1.28h-1.76zM493.5 136.3h1.76v1.28h-1.76zM485.0 140.0h1.76v1.28h-1.76zM491.8 140.0h1.76v1.28h-1.76zM491.8 141.3h1.76v1.28h-1.76zM471.3 142.5h1.76v1.28h-1.76zM488.4 143.7h1.76v1.28h-1.76zM476.4 146.2h1.76v1.28h-1.76zM486.7 146.2h1.76v1.28h-1.76zM486.7 153.6h1.76v1.28h-1.76zM485.0 154.8h1.76v1.28h-1.76zM491.8 159.7h1.76v1.28h-1.76zM495.2 159.7h1.76v1.28h-1.76zM493.5 160.9h1.76v1.28h-1.76zM491.8 162.2h1.76v1.28h-1.76zM490.1 163.4h3.46v1.28h-3.46zM479.8 167.1h1.76v1.28h-1.76zM485.0 168.3h1.76v1.28h-1.76zM498.6 168.3h1.76v1.28h-1.76zM473.0 169.6h1.76v1.28h-1.76zM485.0 172.0h3.46v1.28h-3.46zM486.7 173.2h1.76v1.28h-1.76zM493.5 173.2h1.76v1.28h-1.76zM485.0 178.2h1.76v1.28h-1.76zM485.0 181.8h1.76v1.28h-1.76zM485.0 186.8h1.76v1.28h-1.76zM488.4 191.7h1.76v1.28h-1.76zM486.7 197.8h3.46v1.28h-3.46zM486.7 199.1h1.76v1.28h-1.76zM486.7 200.3h3.46v1.28h-3.46zM491.8 206.4h1.76v1.28h-1.76zM490.1 207.7h1.76v1.28h-1.76zM493.5 207.7h1.76v1.28h-1.76zM493.5 208.9h1.76v1.28h-1.76zM490.1 210.1h1.76v1.28h-1.76zM485.0 215.1h1.76v1.28h-1.76zM493.5 215.1h1.76v1.28h-1.76zM485.0 216.3h1.76v1.28h-1.76zM493.5 218.8h1.76v1.28h-1.76zM490.1 224.9h1.76v1.28h-1.76zM490.1 226.1h5.17v1.28h-5.17zM490.1 227.4h5.17v1.28h-5.17zM493.5 228.6h1.76v1.28h-1.76zM490.1 234.7h5.17v1.28h-5.17zM488.4 236.0h1.76v1.28h-1.76zM471.3 237.2h1.76v1.28h-1.76zM490.1 237.2h1.76v1.28h-1.76zM493.5 242.1h1.76v1.28h-1.76zM488.4 249.5h1.76v1.28h-1.76zM491.8 258.1h1.76v1.28h-1.76zM491.8 259.3h1.76v1.28h-1.76zM490.1 260.6h1.76v1.28h-1.76zM493.5 267.9h1.76v1.28h-1.76zM469.6 269.2h1.76v1.28h-1.76zM473.0 269.2h1.76v1.28h-1.76zM483.2 270.4h1.76v1.28h-1.76zM495.2 271.6h1.76v1.28h-1.76zM490.1 275.3h1.76v1.28h-1.76zM493.5 275.3h1.76v1.28h-1.76zM491.8 276.6h1.76v1.28h-1.76zM490.1 277.8h1.76v1.28h-1.76zM488.4 279.0h1.76v1.28h-1.76zM474.7 281.5h3.46v1.28h-3.46zM488.4 281.5h1.76v1.28h-1.76zM476.4 282.7h1.76v1.28h-1.76zM479.8 285.2h1.76v1.28h-1.76zM479.8 286.4h3.46v1.28h-3.46zM481.5 287.6h3.46v1.28h-3.46zM479.8 288.9h1.76v1.28h-1.76zM483.2 290.1h1.76v1.28h-1.76zM479.8 293.8h1.76v1.28h-1.76zM479.8 295.0h1.76v1.28h-1.76zM476.4 296.2h3.46v1.28h-3.46zM481.5 296.2h1.76v1.28h-1.76zM496.9 296.2h3.46v1.28h-3.46zM496.9 297.5h1.76v1.28h-1.76zM479.8 298.7h3.46v1.28h-3.46zM486.7 301.2h1.76v1.28h-1.76zM485.0 307.3h1.76v1.28h-1.76zM498.6 307.3h1.76v1.28h-1.76zM481.5 311.0h1.76v1.28h-1.76zM483.2 312.2h1.76v1.28h-1.76zM481.5 313.5h1.76v1.28h-1.76zM479.8 315.9h3.46v1.28h-3.46zM496.9 315.9h1.76v1.28h-1.76zM481.5 317.1h1.76v1.28h-1.76zM479.8 319.6h1.76v1.28h-1.76zM495.2 320.8h1.76v1.28h-1.76zM488.4 322.1h1.76v1.28h-1.76zM483.2 323.3h1.76v1.28h-1.76zM488.4 323.3h1.76v1.28h-1.76zM491.8 323.3h1.76v1.28h-1.76zM490.1 324.5h1.76v1.28h-1.76zM476.4 325.8h1.76v1.28h-1.76zM485.0 325.8h1.76v1.28h-1.76zM476.4 327.0h1.76v1.28h-1.76zM486.7 327.0h3.46v1.28h-3.46zM496.9 327.0h1.76v1.28h-1.76zM469.6 329.4h1.76v1.28h-1.76zM471.3 331.9h1.76v1.28h-1.76zM485.0 331.9h1.76v1.28h-1.76zM474.7 334.4h1.76v1.28h-1.76zM481.5 334.4h1.76v1.28h-1.76zM474.7 335.6h1.76v1.28h-1.76zM495.2 335.6h1.76v1.28h-1.76zM498.6 335.6h1.76v1.28h-1.76zM471.3 339.3h1.76v1.28h-1.76zM469.6 340.5h1.76v1.28h-1.76zM473.0 340.5h1.76v1.28h-1.76zM493.5 340.5h1.76v1.28h-1.76zM469.6 341.8h3.46v1.28h-3.46zM481.5 345.4h3.46v1.28h-3.46zM481.5 346.7h1.76v1.28h-1.76zM485.0 347.9h1.76v1.28h-1.76zM481.5 349.1h3.46v1.28h-3.46zM481.5 350.4h1.76v1.28h-1.76zM469.6 351.6h1.76v1.28h-1.76zM485.0 352.8h3.46v1.28h-3.46zM474.7 354.0h1.76v1.28h-1.76zM478.1 355.3h1.76v1.28h-1.76zM476.4 356.5h1.76v1.28h-1.76zM488.4 359.0h1.76v1.28h-1.76zM474.7 360.2h5.17v1.28h-5.17zM481.5 360.2h1.76v1.28h-1.76zM474.7 361.4h5.17v1.28h-5.17zM476.4 362.7h1.76v1.28h-1.76zM479.8 370.0h5.17v1.28h-5.17zM483.2 371.3h1.76v1.28h-1.76zM493.5 371.3h1.76v1.28h-1.76zM476.4 372.5h1.76v1.28h-1.76zM485.0 372.5h1.76v1.28h-1.76zM476.4 376.2h1.76v1.28h-1.76zM469.6 381.1h5.17v1.28h-5.17zM479.8 384.8h1.76v1.28h-1.76zM491.8 391.0h1.76v1.28h-1.76zM490.1 392.2h1.76v1.28h-1.76zM474.7 393.4h1.76v1.28h-1.76zM478.1 399.6h1.76v1.28h-1.76zM481.5 399.6h3.46v1.28h-3.46zM478.1 400.8h1.76v1.28h-1.76zM479.8 402.0h3.46v1.28h-3.46zM479.8 403.2h1.76v1.28h-1.76zM483.2 403.2h1.76v1.28h-1.76zM479.8 404.5h3.46v1.28h-3.46zM474.7 405.7h1.76v1.28h-1.76zM469.6 406.9h1.76v1.28h-1.76zM478.1 406.9h1.76v1.28h-1.76zM481.5 406.9h1.76v1.28h-1.76zM481.5 409.4h1.76v1.28h-1.76zM490.1 409.4h1.76v1.28h-1.76zM481.5 411.9h1.76v1.28h-1.76zM490.1 411.9h1.76v1.28h-1.76zM469.6 416.8h3.46v1.28h-3.46zM478.1 416.8h1.76v1.28h-1.76zM469.6 418.0h5.17v1.28h-5.17zM473.0 419.2h1.76v1.28h-1.76zM469.6 420.5h5.17v1.28h-5.17zM471.3 421.7h1.76v1.28h-1.76zM469.6 424.2h3.46v1.28h-3.46zM493.5 424.2h1.76v1.28h-1.76zM490.1 426.6h1.76v1.28h-1.76zM469.6 437.7h1.76v1.28h-1.76zM478.1 440.1h1.76v1.28h-1.76zM498.6 440.1h1.76v1.28h-1.76zM474.7 441.4h3.46v1.28h-3.46zM491.8 441.4h1.76v1.28h-1.76zM474.7 442.6h1.76v1.28h-1.76zM476.4 443.8h3.46v1.28h-3.46zM478.1 445.1h1.76v1.28h-1.76zM490.1 445.1h5.17v1.28h-5.17zM490.1 446.3h1.76v1.28h-1.76zM483.2 452.5h1.76v1.28h-1.76zM483.2 453.7h1.76v1.28h-1.76zM473.0 456.1h1.76v1.28h-1.76zM493.5 456.1h1.76v1.28h-1.76zM469.6 457.4h1.76v1.28h-1.76zM469.6 458.6h5.17v1.28h-5.17zM469.6 459.8h5.17v1.28h-5.17zM485.0 461.1h1.76v1.28h-1.76zM479.8 462.3h1.76v1.28h-1.76zM469.6 464.8h1.76v1.28h-1.76zM479.8 467.2h1.76v1.28h-1.76zM483.2 467.2h1.76v1.28h-1.76zM485.0 470.9h1.76v1.28h-1.76zM485.0 472.1h5.17v1.28h-5.17zM478.1 474.6h1.76v1.28h-1.76zM493.5 477.0h1.76v1.28h-1.76zM496.9 477.0h1.76v1.28h-1.76zM476.4 483.2h1.76v1.28h-1.76zM491.8 484.4h1.76v1.28h-1.76zM471.3 489.4h1.76v1.28h-1.76zM469.6 496.7h1.76v1.28h-1.76zM469.6 499.2h1.76v1.28h-1.76zM473.0 499.2h1.76v1.28h-1.76zM483.2 499.2h1.76v1.28h-1.76zM473.0 500.4h1.76v1.28h-1.76zM490.1 502.9h1.76v1.28h-1.76zM481.5 504.1h1.76v1.28h-1.76zM481.5 505.3h1.76v1.28h-1.76zM490.1 505.3h3.46v1.28h-3.46zM474.7 507.8h1.76v1.28h-1.76zM476.4 509.0h3.46v1.28h-3.46zM478.1 510.3h3.46v1.28h-3.46zM490.1 510.3h1.76v1.28h-1.76zM471.3 512.7h3.46v1.28h-3.46zM469.6 513.9h5.17v1.28h-5.17zM479.8 515.2h5.17v1.28h-5.17zM481.5 516.4h3.46v1.28h-3.46zM481.5 518.9h6.87v1.28h-6.87zM488.4 520.1h1.76v1.28h-1.76zM469.6 525.0h5.17v1.28h-5.17zM471.3 526.2h3.46v1.28h-3.46zM469.6 527.5h1.76v1.28h-1.76zM473.0 527.5h1.76v1.28h-1.76zM476.4 527.5h1.76v1.28h-1.76zM474.7 528.7h5.17v1.28h-5.17zM479.8 531.2h1.76v1.28h-1.76zM469.6 533.6h3.46v1.28h-3.46zM485.0 534.9h1.76v1.28h-1.76zM488.4 534.9h1.76v1.28h-1.76zM493.5 534.9h1.76v1.28h-1.76zM485.0 536.1h3.46v1.28h-3.46zM498.6 537.3h1.76v1.28h-1.76zM476.4 538.5h1.76v1.28h-1.76zM479.8 538.5h1.76v1.28h-1.76zM486.7 538.5h1.76v1.28h-1.76zM485.0 539.8h1.76v1.28h-1.76zM469.6 541.0h1.76v1.28h-1.76zM473.0 541.0h1.76v1.28h-1.76zM476.4 541.0h1.76v1.28h-1.76zM490.1 545.9h1.76v1.28h-1.76zM483.2 548.4h1.76v1.28h-1.76zM485.0 552.1h3.46v1.28h-3.46zM474.7 555.8h1.76v1.28h-1.76zM471.3 557.0h1.76v1.28h-1.76zM479.8 557.0h1.76v1.28h-1.76zM471.3 558.2h3.46v1.28h-3.46zM479.8 558.2h3.46v1.28h-3.46zM471.3 559.5h1.76v1.28h-1.76zM479.8 559.5h1.76v1.28h-1.76zM493.5 560.7h1.76v1.28h-1.76zM490.1 561.9h1.76v1.28h-1.76zM471.3 565.6h1.76v1.28h-1.76zM469.6 566.8h1.76v1.28h-1.76zM473.0 566.8h1.76v1.28h-1.76zM485.0 566.8h3.46v1.28h-3.46zM481.5 568.1h1.76v1.28h-1.76zM479.8 570.5h1.76v1.28h-1.76zM469.6 574.2h1.76v1.28h-1.76zM485.0 579.1h5.17v1.28h-5.17zM478.1 580.4h1.76v1.28h-1.76zM481.5 580.4h1.76v1.28h-1.76z"/><path fill="#594ca7" d="M481.5 89.6h1.76v1.28h-1.76zM476.4 90.8h1.76v1.28h-1.76zM479.8 90.8h1.76v1.28h-1.76zM473.0 92.1h1.76v1.28h-1.76zM481.5 93.3h1.76v1.28h-1.76zM474.7 94.5h1.76v1.28h-1.76zM469.6 97.0h1.76v1.28h-1.76zM474.7 97.0h1.76v1.28h-1.76zM478.1 97.0h3.46v1.28h-3.46zM474.7 98.2h1.76v1.28h-1.76zM478.1 99.4h1.76v1.28h-1.76zM478.1 101.9h1.76v1.28h-1.76zM473.0 103.1h1.76v1.28h-1.76zM479.8 104.4h1.76v1.28h-1.76zM481.5 106.8h3.46v1.28h-3.46zM479.8 109.3h1.76v1.28h-1.76zM479.8 110.5h1.76v1.28h-1.76zM479.8 113.0h1.76v1.28h-1.76zM474.7 114.2h1.76v1.28h-1.76zM471.3 115.4h1.76v1.28h-1.76zM469.6 117.9h1.76v1.28h-1.76zM481.5 117.9h1.76v1.28h-1.76zM481.5 119.1h1.76v1.28h-1.76zM483.2 122.8h1.76v1.28h-1.76zM476.4 125.3h3.46v1.28h-3.46zM481.5 125.3h1.76v1.28h-1.76zM476.4 129.0h1.76v1.28h-1.76zM469.6 130.2h1.76v1.28h-1.76zM474.7 130.2h1.76v1.28h-1.76zM473.0 131.4h1.76v1.28h-1.76zM469.6 132.6h1.76v1.28h-1.76zM476.4 133.9h1.76v1.28h-1.76zM479.8 133.9h1.76v1.28h-1.76zM469.6 136.3h1.76v1.28h-1.76zM478.1 136.3h1.76v1.28h-1.76zM474.7 137.6h1.76v1.28h-1.76zM473.0 138.8h1.76v1.28h-1.76zM483.2 138.8h1.76v1.28h-1.76zM469.6 140.0h1.76v1.28h-1.76zM481.5 141.3h1.76v1.28h-1.76zM469.6 142.5h1.76v1.28h-1.76zM473.0 144.9h1.76v1.28h-1.76zM471.3 146.2h1.76v1.28h-1.76zM479.8 147.4h1.76v1.28h-1.76zM478.1 148.6h1.76v1.28h-1.76zM479.8 149.9h1.76v1.28h-1.76zM473.0 151.1h5.17v1.28h-5.17zM469.6 152.3h1.76v1.28h-1.76zM474.7 152.3h1.76v1.28h-1.76zM469.6 153.6h1.76v1.28h-1.76zM479.8 153.6h1.76v1.28h-1.76zM479.8 154.8h1.76v1.28h-1.76zM479.8 156.0h1.76v1.28h-1.76zM483.2 156.0h1.76v1.28h-1.76zM478.1 158.5h1.76v1.28h-1.76zM481.5 158.5h1.76v1.28h-1.76zM469.6 159.7h1.76v1.28h-1.76zM476.4 160.9h1.76v1.28h-1.76zM481.5 160.9h1.76v1.28h-1.76zM478.1 162.2h1.76v1.28h-1.76zM481.5 162.2h1.76v1.28h-1.76zM474.7 164.6h5.17v1.28h-5.17zM473.0 167.1h1.76v1.28h-1.76zM479.8 169.6h1.76v1.28h-1.76zM476.4 170.8h1.76v1.28h-1.76zM479.8 173.2h1.76v1.28h-1.76zM483.2 173.2h1.76v1.28h-1.76zM473.0 175.7h1.76v1.28h-1.76zM473.0 176.9h1.76v1.28h-1.76zM481.5 176.9h1.76v1.28h-1.76zM479.8 178.2h1.76v1.28h-1.76zM473.0 179.4h1.76v1.28h-1.76zM478.1 179.4h1.76v1.28h-1.76zM481.5 179.4h1.76v1.28h-1.76zM473.0 180.6h1.76v1.28h-1.76zM476.4 180.6h1.76v1.28h-1.76zM479.8 180.6h1.76v1.28h-1.76zM478.1 181.8h1.76v1.28h-1.76zM476.4 183.1h1.76v1.28h-1.76zM476.4 184.3h1.76v1.28h-1.76zM479.8 184.3h3.46v1.28h-3.46zM483.2 185.5h1.76v1.28h-1.76zM469.6 186.8h1.76v1.28h-1.76zM473.0 186.8h1.76v1.28h-1.76zM471.3 188.0h1.76v1.28h-1.76zM473.0 189.2h1.76v1.28h-1.76zM478.1 190.5h1.76v1.28h-1.76zM474.7 191.7h1.76v1.28h-1.76zM474.7 192.9h1.76v1.28h-1.76zM479.8 192.9h1.76v1.28h-1.76zM483.2 192.9h1.76v1.28h-1.76zM473.0 195.4h1.76v1.28h-1.76zM471.3 196.6h1.76v1.28h-1.76zM478.1 196.6h1.76v1.28h-1.76zM469.6 197.8h1.76v1.28h-1.76zM471.3 199.1h1.76v1.28h-1.76zM481.5 199.1h1.76v1.28h-1.76zM474.7 200.3h1.76v1.28h-1.76zM483.2 200.3h1.76v1.28h-1.76zM474.7 201.5h3.46v1.28h-3.46zM479.8 201.5h1.76v1.28h-1.76zM474.7 202.8h3.46v1.28h-3.46zM471.3 204.0h1.76v1.28h-1.76zM479.8 204.0h1.76v1.28h-1.76zM471.3 206.4h1.76v1.28h-1.76zM481.5 206.4h1.76v1.28h-1.76zM476.4 207.7h1.76v1.28h-1.76zM479.8 208.9h1.76v1.28h-1.76zM471.3 210.1h3.46v1.28h-3.46zM471.3 211.4h1.76v1.28h-1.76zM476.4 211.4h1.76v1.28h-1.76zM481.5 211.4h1.76v1.28h-1.76zM473.0 212.6h1.76v1.28h-1.76zM474.7 213.8h1.76v1.28h-1.76zM474.7 215.1h1.76v1.28h-1.76zM471.3 216.3h1.76v1.28h-1.76zM469.6 217.5h1.76v1.28h-1.76zM483.2 217.5h1.76v1.28h-1.76zM478.1 220.0h1.76v1.28h-1.76zM476.4 221.2h1.76v1.28h-1.76zM473.0 224.9h1.76v1.28h-1.76zM479.8 224.9h1.76v1.28h-1.76zM483.2 224.9h1.76v1.28h-1.76zM473.0 226.1h1.76v1.28h-1.76zM473.0 227.4h1.76v1.28h-1.76zM481.5 228.6h1.76v1.28h-1.76zM483.2 229.8h1.76v1.28h-1.76zM481.5 231.0h1.76v1.28h-1.76zM481.5 232.3h1.76v1.28h-1.76zM471.3 233.5h1.76v1.28h-1.76zM474.7 233.5h3.46v1.28h-3.46zM476.4 236.0h1.76v1.28h-1.76zM479.8 236.0h1.76v1.28h-1.76zM473.0 237.2h1.76v1.28h-1.76zM479.8 237.2h1.76v1.28h-1.76zM471.3 238.4h1.76v1.28h-1.76zM481.5 238.4h1.76v1.28h-1.76zM469.6 239.7h1.76v1.28h-1.76zM469.6 242.1h1.76v1.28h-1.76zM476.4 242.1h1.76v1.28h-1.76zM474.7 243.3h1.76v1.28h-1.76zM478.1 243.3h1.76v1.28h-1.76zM473.0 244.6h1.76v1.28h-1.76zM476.4 244.6h1.76v1.28h-1.76zM483.2 244.6h1.76v1.28h-1.76zM476.4 245.8h1.76v1.28h-1.76zM486.7 245.8h1.76v1.28h-1.76zM473.0 247.0h1.76v1.28h-1.76zM479.8 248.3h3.46v1.28h-3.46zM469.6 249.5h3.46v1.28h-3.46zM485.0 249.5h3.46v1.28h-3.46zM476.4 250.7h1.76v1.28h-1.76zM486.7 250.7h1.76v1.28h-1.76zM491.8 250.7h3.46v1.28h-3.46zM471.3 252.0h1.76v1.28h-1.76zM488.4 252.0h1.76v1.28h-1.76zM469.6 253.2h1.76v1.28h-1.76zM473.0 254.4h1.76v1.28h-1.76zM481.5 254.4h1.76v1.28h-1.76zM473.0 255.7h1.76v1.28h-1.76zM476.4 255.7h1.76v1.28h-1.76zM481.5 255.7h1.76v1.28h-1.76zM488.4 255.7h1.76v1.28h-1.76zM488.4 258.1h1.76v1.28h-1.76zM493.5 258.1h1.76v1.28h-1.76zM486.7 259.3h1.76v1.28h-1.76zM493.5 259.3h1.76v1.28h-1.76zM474.7 260.6h3.46v1.28h-3.46zM483.2 260.6h3.46v1.28h-3.46zM488.4 260.6h1.76v1.28h-1.76zM486.7 264.3h1.76v1.28h-1.76zM479.8 265.5h5.17v1.28h-5.17zM491.8 265.5h1.76v1.28h-1.76zM481.5 266.7h1.76v1.28h-1.76zM479.8 267.9h1.76v1.28h-1.76zM488.4 267.9h1.76v1.28h-1.76zM483.2 269.2h1.76v1.28h-1.76zM488.4 269.2h1.76v1.28h-1.76zM469.6 270.4h1.76v1.28h-1.76zM488.4 271.6h1.76v1.28h-1.76zM473.0 272.9h3.46v1.28h-3.46zM478.1 272.9h3.46v1.28h-3.46zM476.4 274.1h1.76v1.28h-1.76zM479.8 274.1h1.76v1.28h-1.76zM483.2 274.1h1.76v1.28h-1.76zM491.8 274.1h3.46v1.28h-3.46zM469.6 275.3h5.17v1.28h-5.17zM479.8 276.6h3.46v1.28h-3.46zM469.6 277.8h1.76v1.28h-1.76zM479.8 277.8h1.76v1.28h-1.76zM488.4 277.8h1.76v1.28h-1.76zM471.3 279.0h1.76v1.28h-1.76zM485.0 279.0h1.76v1.28h-1.76zM490.1 279.0h1.76v1.28h-1.76zM493.5 279.0h1.76v1.28h-1.76zM493.5 280.2h1.76v1.28h-1.76zM490.1 281.5h1.76v1.28h-1.76zM488.4 282.7h3.46v1.28h-3.46zM496.9 282.7h1.76v1.28h-1.76zM496.9 283.9h1.76v1.28h-1.76zM493.5 286.4h1.76v1.28h-1.76zM496.9 286.4h1.76v1.28h-1.76zM485.0 291.3h1.76v1.28h-1.76zM491.8 295.0h1.76v1.28h-1.76zM493.5 298.7h1.76v1.28h-1.76zM498.6 298.7h1.76v1.28h-1.76zM496.9 299.9h1.76v1.28h-1.76zM485.0 301.2h1.76v1.28h-1.76zM488.4 301.2h1.76v1.28h-1.76zM490.1 302.4h1.76v1.28h-1.76zM496.9 302.4h1.76v1.28h-1.76zM493.5 304.9h1.76v1.28h-1.76zM491.8 306.1h3.46v1.28h-3.46zM486.7 307.3h3.46v1.28h-3.46zM491.8 307.3h1.76v1.28h-1.76zM491.8 308.5h1.76v1.28h-1.76zM493.5 309.8h1.76v1.28h-1.76zM486.7 312.2h1.76v1.28h-1.76zM498.6 313.5h1.76v1.28h-1.76zM486.7 314.7h1.76v1.28h-1.76zM485.0 315.9h5.17v1.28h-5.17zM498.6 317.1h1.76v1.28h-1.76zM496.9 319.6h1.76v1.28h-1.76zM488.4 320.8h1.76v1.28h-1.76zM485.0 322.1h1.76v1.28h-1.76zM498.6 322.1h1.76v1.28h-1.76zM486.7 324.5h1.76v1.28h-1.76zM491.8 324.5h1.76v1.28h-1.76zM495.2 325.8h1.76v1.28h-1.76zM498.6 325.8h1.76v1.28h-1.76zM498.6 329.4h1.76v1.28h-1.76zM486.7 331.9h1.76v1.28h-1.76zM498.6 331.9h1.76v1.28h-1.76zM490.1 333.1h1.76v1.28h-1.76zM488.4 336.8h3.46v1.28h-3.46zM486.7 338.1h1.76v1.28h-1.76zM495.2 338.1h1.76v1.28h-1.76zM486.7 339.3h3.46v1.28h-3.46zM495.2 340.5h1.76v1.28h-1.76zM498.6 340.5h1.76v1.28h-1.76zM493.5 341.8h1.76v1.28h-1.76zM496.9 341.8h1.76v1.28h-1.76zM485.0 345.4h1.76v1.28h-1.76zM488.4 345.4h1.76v1.28h-1.76zM495.2 346.7h1.76v1.28h-1.76zM486.7 350.4h1.76v1.28h-1.76zM496.9 350.4h3.46v1.28h-3.46zM490.1 351.6h1.76v1.28h-1.76zM491.8 352.8h1.76v1.28h-1.76zM488.4 354.0h1.76v1.28h-1.76zM491.8 355.3h1.76v1.28h-1.76zM491.8 356.5h3.46v1.28h-3.46zM496.9 357.7h1.76v1.28h-1.76zM485.0 362.7h1.76v1.28h-1.76zM486.7 365.1h1.76v1.28h-1.76zM495.2 366.4h3.46v1.28h-3.46zM485.0 367.6h1.76v1.28h-1.76zM491.8 368.8h1.76v1.28h-1.76zM495.2 372.5h1.76v1.28h-1.76zM498.6 373.7h1.76v1.28h-1.76zM488.4 377.4h1.76v1.28h-1.76zM498.6 377.4h1.76v1.28h-1.76zM493.5 378.6h1.76v1.28h-1.76zM488.4 379.9h1.76v1.28h-1.76zM488.4 382.3h1.76v1.28h-1.76zM486.7 383.6h1.76v1.28h-1.76zM495.2 384.8h1.76v1.28h-1.76zM488.4 386.0h1.76v1.28h-1.76zM498.6 387.3h1.76v1.28h-1.76zM488.4 388.5h1.76v1.28h-1.76zM486.7 389.7h1.76v1.28h-1.76zM498.6 389.7h1.76v1.28h-1.76zM486.7 391.0h1.76v1.28h-1.76zM498.6 391.0h1.76v1.28h-1.76zM495.2 392.2h1.76v1.28h-1.76zM498.6 392.2h1.76v1.28h-1.76zM485.0 393.4h1.76v1.28h-1.76zM498.6 394.6h1.76v1.28h-1.76zM490.1 397.1h3.46v1.28h-3.46zM486.7 398.3h1.76v1.28h-1.76zM495.2 398.3h1.76v1.28h-1.76zM485.0 399.6h1.76v1.28h-1.76zM491.8 400.8h1.76v1.28h-1.76zM496.9 400.8h3.46v1.28h-3.46zM490.1 403.2h1.76v1.28h-1.76zM495.2 403.2h1.76v1.28h-1.76zM498.6 404.5h1.76v1.28h-1.76zM485.0 405.7h1.76v1.28h-1.76zM491.8 405.7h1.76v1.28h-1.76zM496.9 408.2h1.76v1.28h-1.76zM491.8 409.4h1.76v1.28h-1.76zM496.9 409.4h1.76v1.28h-1.76zM493.5 411.9h1.76v1.28h-1.76zM496.9 413.1h3.46v1.28h-3.46zM486.7 414.3h1.76v1.28h-1.76zM495.2 414.3h1.76v1.28h-1.76zM498.6 414.3h1.76v1.28h-1.76zM486.7 415.5h1.76v1.28h-1.76zM490.1 415.5h1.76v1.28h-1.76zM491.8 418.0h1.76v1.28h-1.76zM488.4 420.5h1.76v1.28h-1.76zM495.2 422.9h3.46v1.28h-3.46zM496.9 424.2h1.76v1.28h-1.76zM491.8 425.4h1.76v1.28h-1.76zM496.9 426.6h1.76v1.28h-1.76zM490.1 427.9h1.76v1.28h-1.76zM490.1 429.1h1.76v1.28h-1.76zM493.5 429.1h1.76v1.28h-1.76zM488.4 430.3h1.76v1.28h-1.76zM498.6 430.3h1.76v1.28h-1.76zM490.1 431.5h5.17v1.28h-5.17zM485.0 435.2h1.76v1.28h-1.76zM491.8 435.2h1.76v1.28h-1.76zM496.9 435.2h1.76v1.28h-1.76zM495.2 436.5h1.76v1.28h-1.76zM488.4 437.7h1.76v1.28h-1.76zM496.9 437.7h3.46v1.28h-3.46zM495.2 438.9h1.76v1.28h-1.76zM496.9 440.1h1.76v1.28h-1.76zM495.2 441.4h3.46v1.28h-3.46zM490.1 442.6h1.76v1.28h-1.76zM490.1 443.8h1.76v1.28h-1.76zM498.6 443.8h1.76v1.28h-1.76zM488.4 445.1h1.76v1.28h-1.76zM493.5 447.5h3.46v1.28h-3.46zM491.8 448.8h1.76v1.28h-1.76zM496.9 448.8h1.76v1.28h-1.76zM491.8 450.0h1.76v1.28h-1.76zM495.2 450.0h1.76v1.28h-1.76zM485.0 451.2h1.76v1.28h-1.76zM485.0 453.7h1.76v1.28h-1.76zM490.1 454.9h1.76v1.28h-1.76zM496.9 454.9h1.76v1.28h-1.76zM488.4 456.1h1.76v1.28h-1.76zM491.8 457.4h1.76v1.28h-1.76zM496.9 457.4h1.76v1.28h-1.76zM490.1 461.1h1.76v1.28h-1.76zM488.4 462.3h1.76v1.28h-1.76zM498.6 462.3h1.76v1.28h-1.76zM491.8 463.5h1.76v1.28h-1.76zM498.6 463.5h1.76v1.28h-1.76zM498.6 464.8h1.76v1.28h-1.76zM491.8 466.0h1.76v1.28h-1.76zM493.5 467.2h1.76v1.28h-1.76zM496.9 468.4h1.76v1.28h-1.76zM488.4 469.7h1.76v1.28h-1.76zM496.9 469.7h3.46v1.28h-3.46zM490.1 472.1h1.76v1.28h-1.76zM495.2 472.1h1.76v1.28h-1.76zM498.6 472.1h1.76v1.28h-1.76zM491.8 474.6h3.46v1.28h-3.46zM496.9 474.6h3.46v1.28h-3.46zM486.7 475.8h1.76v1.28h-1.76zM496.9 475.8h1.76v1.28h-1.76zM491.8 478.3h1.76v1.28h-1.76zM495.2 478.3h1.76v1.28h-1.76zM486.7 479.5h1.76v1.28h-1.76zM490.1 482.0h1.76v1.28h-1.76zM495.2 482.0h1.76v1.28h-1.76zM485.0 483.2h1.76v1.28h-1.76zM496.9 483.2h1.76v1.28h-1.76zM490.1 484.4h1.76v1.28h-1.76zM498.6 484.4h1.76v1.28h-1.76zM488.4 485.7h1.76v1.28h-1.76zM491.8 485.7h1.76v1.28h-1.76zM495.2 490.6h1.76v1.28h-1.76zM498.6 490.6h1.76v1.28h-1.76zM495.2 491.8h1.76v1.28h-1.76zM498.6 493.0h1.76v1.28h-1.76zM488.4 495.5h1.76v1.28h-1.76zM486.7 496.7h1.76v1.28h-1.76zM493.5 496.7h3.46v1.28h-3.46zM485.0 498.0h1.76v1.28h-1.76zM490.1 498.0h1.76v1.28h-1.76zM488.4 500.4h1.76v1.28h-1.76zM491.8 500.4h1.76v1.28h-1.76zM495.2 500.4h1.76v1.28h-1.76zM496.9 505.3h1.76v1.28h-1.76zM488.4 509.0h1.76v1.28h-1.76zM498.6 509.0h1.76v1.28h-1.76zM485.0 512.7h1.76v1.28h-1.76zM498.6 512.7h1.76v1.28h-1.76zM486.7 513.9h5.17v1.28h-5.17zM493.5 515.2h1.76v1.28h-1.76zM498.6 515.2h1.76v1.28h-1.76zM495.2 516.4h1.76v1.28h-1.76zM486.7 517.6h5.17v1.28h-5.17zM498.6 517.6h1.76v1.28h-1.76zM491.8 518.9h1.76v1.28h-1.76zM496.9 518.9h1.76v1.28h-1.76zM485.0 520.1h1.76v1.28h-1.76zM491.8 520.1h1.76v1.28h-1.76zM495.2 525.0h1.76v1.28h-1.76zM488.4 527.5h5.17v1.28h-5.17zM498.6 527.5h1.76v1.28h-1.76zM486.7 528.7h1.76v1.28h-1.76zM493.5 528.7h3.46v1.28h-3.46zM498.6 531.2h1.76v1.28h-1.76zM496.9 532.4h1.76v1.28h-1.76zM486.7 534.9h1.76v1.28h-1.76zM491.8 538.5h1.76v1.28h-1.76zM496.9 539.8h1.76v1.28h-1.76zM493.5 542.2h1.76v1.28h-1.76zM490.1 543.5h1.76v1.28h-1.76zM495.2 543.5h1.76v1.28h-1.76zM493.5 547.2h1.76v1.28h-1.76zM490.1 548.4h1.76v1.28h-1.76zM491.8 549.6h3.46v1.28h-3.46zM488.4 552.1h1.76v1.28h-1.76zM491.8 552.1h1.76v1.28h-1.76zM498.6 555.8h1.76v1.28h-1.76zM493.5 557.0h1.76v1.28h-1.76zM498.6 557.0h1.76v1.28h-1.76zM488.4 558.2h1.76v1.28h-1.76zM495.2 559.5h1.76v1.28h-1.76zM488.4 560.7h1.76v1.28h-1.76zM495.2 560.7h1.76v1.28h-1.76zM493.5 561.9h1.76v1.28h-1.76zM486.7 563.1h1.76v1.28h-1.76zM496.9 563.1h1.76v1.28h-1.76zM493.5 571.8h1.76v1.28h-1.76zM491.8 573.0h1.76v1.28h-1.76zM486.7 574.2h1.76v1.28h-1.76zM495.2 574.2h1.76v1.28h-1.76zM485.0 575.4h3.46v1.28h-3.46zM493.5 575.4h1.76v1.28h-1.76zM498.6 577.9h1.76v1.28h-1.76zM493.5 579.1h3.46v1.28h-3.46zM491.8 580.4h1.76v1.28h-1.76zM495.2 580.4h1.76v1.28h-1.76z"/><path fill="#cfcbe7" d="M483.2 89.6h1.76v1.28h-1.76zM471.3 95.8h1.76v1.28h-1.76zM471.3 97.0h1.76v1.28h-1.76zM481.5 104.4h1.76v1.28h-1.76zM474.7 105.6h1.76v1.28h-1.76zM476.4 111.7h1.76v1.28h-1.76zM476.4 115.4h1.76v1.28h-1.76zM471.3 120.3h1.76v1.28h-1.76zM473.0 125.3h1.76v1.28h-1.76zM474.7 132.6h1.76v1.28h-1.76zM476.4 141.3h1.76v1.28h-1.76zM478.1 143.7h1.76v1.28h-1.76zM478.1 167.1h1.76v1.28h-1.76zM478.1 168.3h1.76v1.28h-1.76zM469.6 170.8h1.76v1.28h-1.76zM474.7 172.0h1.76v1.28h-1.76zM481.5 218.8h1.76v1.28h-1.76zM483.2 220.0h1.76v1.28h-1.76zM481.5 221.2h3.46v1.28h-3.46zM473.0 236.0h1.76v1.28h-1.76zM485.0 247.0h1.76v1.28h-1.76zM493.5 255.7h1.76v1.28h-1.76zM488.4 256.9h1.76v1.28h-1.76zM488.4 259.3h1.76v1.28h-1.76zM491.8 260.6h1.76v1.28h-1.76zM485.0 263.0h1.76v1.28h-1.76zM486.7 269.2h1.76v1.28h-1.76zM485.0 270.4h1.76v1.28h-1.76zM493.5 272.9h1.76v1.28h-1.76zM491.8 275.3h1.76v1.28h-1.76zM486.7 280.2h1.76v1.28h-1.76zM498.6 280.2h1.76v1.28h-1.76zM490.1 286.4h3.46v1.28h-3.46zM485.0 293.8h5.17v1.28h-5.17zM485.0 299.9h1.76v1.28h-1.76zM493.5 301.2h1.76v1.28h-1.76zM491.8 302.4h1.76v1.28h-1.76zM488.4 304.9h1.76v1.28h-1.76zM488.4 309.8h3.46v1.28h-3.46zM485.0 319.6h1.76v1.28h-1.76zM485.0 328.2h1.76v1.28h-1.76zM493.5 329.4h1.76v1.28h-1.76zM491.8 335.6h1.76v1.28h-1.76zM490.1 338.1h1.76v1.28h-1.76zM488.4 347.9h1.76v1.28h-1.76zM493.5 347.9h1.76v1.28h-1.76zM485.0 349.1h1.76v1.28h-1.76zM486.7 359.0h1.76v1.28h-1.76zM490.1 359.0h3.46v1.28h-3.46zM488.4 360.2h3.46v1.28h-3.46zM485.0 361.4h3.46v1.28h-3.46zM491.8 361.4h1.76v1.28h-1.76zM490.1 362.7h1.76v1.28h-1.76zM490.1 365.1h1.76v1.28h-1.76zM491.8 367.6h1.76v1.28h-1.76zM490.1 368.8h1.76v1.28h-1.76zM493.5 368.8h1.76v1.28h-1.76zM490.1 376.2h1.76v1.28h-1.76zM486.7 379.9h1.76v1.28h-1.76zM493.5 392.2h1.76v1.28h-1.76zM493.5 393.4h1.76v1.28h-1.76zM490.1 394.6h1.76v1.28h-1.76zM493.5 413.1h1.76v1.28h-1.76zM486.7 445.1h1.76v1.28h-1.76zM488.4 447.5h1.76v1.28h-1.76zM485.0 448.8h1.76v1.28h-1.76zM493.5 452.5h1.76v1.28h-1.76zM491.8 454.9h1.76v1.28h-1.76zM485.0 463.5h1.76v1.28h-1.76zM485.0 464.8h3.46v1.28h-3.46zM486.7 466.0h1.76v1.28h-1.76zM495.2 467.2h3.46v1.28h-3.46zM491.8 469.7h1.76v1.28h-1.76zM493.5 470.9h1.76v1.28h-1.76zM486.7 484.4h1.76v1.28h-1.76zM495.2 488.1h1.76v1.28h-1.76zM491.8 489.4h1.76v1.28h-1.76zM491.8 490.6h1.76v1.28h-1.76zM485.0 491.8h1.76v1.28h-1.76zM493.5 495.5h3.46v1.28h-3.46zM486.7 498.0h1.76v1.28h-1.76zM493.5 506.6h3.46v1.28h-3.46zM486.7 523.8h3.46v1.28h-3.46zM490.1 529.9h3.46v1.28h-3.46zM490.1 531.2h1.76v1.28h-1.76zM495.2 531.2h1.76v1.28h-1.76zM493.5 536.1h1.76v1.28h-1.76zM493.5 541.0h1.76v1.28h-1.76zM485.0 542.2h1.76v1.28h-1.76zM491.8 544.7h1.76v1.28h-1.76zM486.7 545.9h1.76v1.28h-1.76zM488.4 547.2h1.76v1.28h-1.76zM491.8 559.5h1.76v1.28h-1.76zM491.8 560.7h1.76v1.28h-1.76zM486.7 565.6h1.76v1.28h-1.76zM486.7 569.3h1.76v1.28h-1.76zM495.2 569.3h1.76v1.28h-1.76zM495.2 571.8h1.76v1.28h-1.76zM493.5 576.7h1.76v1.28h-1.76zM486.7 577.9h1.76v1.28h-1.76zM491.8 577.9h1.76v1.28h-1.76z"/><path fill="#a8a1d2" d="M469.6 90.8h1.76v1.28h-1.76zM469.6 94.5h1.76v1.28h-1.76zM473.0 97.0h1.76v1.28h-1.76zM479.8 98.2h1.76v1.28h-1.76zM469.6 99.4h1.76v1.28h-1.76zM473.0 99.4h1.76v1.28h-1.76zM469.6 100.7h3.46v1.28h-3.46zM469.6 101.9h3.46v1.28h-3.46zM476.4 104.4h1.76v1.28h-1.76zM476.4 105.6h3.46v1.28h-3.46zM474.7 115.4h1.76v1.28h-1.76zM478.1 119.1h1.76v1.28h-1.76zM471.3 132.6h3.46v1.28h-3.46zM483.2 137.6h1.76v1.28h-1.76zM469.6 141.3h1.76v1.28h-1.76zM473.0 162.2h1.76v1.28h-1.76zM476.4 163.4h1.76v1.28h-1.76zM471.3 200.3h1.76v1.28h-1.76zM474.7 232.3h1.76v1.28h-1.76zM485.0 245.8h1.76v1.28h-1.76zM486.7 247.0h1.76v1.28h-1.76zM469.6 254.4h1.76v1.28h-1.76zM493.5 254.4h1.76v1.28h-1.76zM491.8 255.7h1.76v1.28h-1.76zM485.0 264.3h1.76v1.28h-1.76zM490.1 264.3h1.76v1.28h-1.76zM469.6 265.5h1.76v1.28h-1.76zM490.1 269.2h1.76v1.28h-1.76zM490.1 274.1h1.76v1.28h-1.76zM485.0 275.3h5.17v1.28h-5.17zM486.7 276.6h3.46v1.28h-3.46zM493.5 277.8h1.76v1.28h-1.76zM493.5 282.7h1.76v1.28h-1.76zM485.0 283.9h1.76v1.28h-1.76zM493.5 291.3h1.76v1.28h-1.76zM486.7 292.5h1.76v1.28h-1.76zM491.8 292.5h1.76v1.28h-1.76zM491.8 296.2h1.76v1.28h-1.76zM493.5 299.9h1.76v1.28h-1.76zM498.6 308.5h1.76v1.28h-1.76zM491.8 309.8h1.76v1.28h-1.76zM490.1 311.0h3.46v1.28h-3.46zM490.1 317.1h1.76v1.28h-1.76zM488.4 318.4h1.76v1.28h-1.76zM491.8 318.4h1.76v1.28h-1.76zM486.7 319.6h1.76v1.28h-1.76zM490.1 319.6h3.46v1.28h-3.46zM485.0 320.8h1.76v1.28h-1.76zM490.1 320.8h1.76v1.28h-1.76zM498.6 320.8h1.76v1.28h-1.76zM486.7 322.1h1.76v1.28h-1.76zM485.0 324.5h1.76v1.28h-1.76zM491.8 328.2h3.46v1.28h-3.46zM490.1 329.4h1.76v1.28h-1.76zM490.1 334.4h1.76v1.28h-1.76zM496.9 334.4h1.76v1.28h-1.76zM491.8 338.1h1.76v1.28h-1.76zM488.4 341.8h1.76v1.28h-1.76zM485.0 343.0h6.87v1.28h-6.87zM485.0 346.7h1.76v1.28h-1.76zM488.4 352.8h1.76v1.28h-1.76zM493.5 360.2h1.76v1.28h-1.76zM486.7 363.9h1.76v1.28h-1.76zM491.8 376.2h3.46v1.28h-3.46zM490.1 379.9h1.76v1.28h-1.76zM491.8 384.8h1.76v1.28h-1.76zM493.5 386.0h1.76v1.28h-1.76zM491.8 398.3h1.76v1.28h-1.76zM491.8 406.9h1.76v1.28h-1.76zM490.1 410.6h1.76v1.28h-1.76zM496.9 410.6h1.76v1.28h-1.76zM493.5 416.8h1.76v1.28h-1.76zM490.1 419.2h1.76v1.28h-1.76zM491.8 432.8h3.46v1.28h-3.46zM486.7 435.2h1.76v1.28h-1.76zM490.1 437.7h1.76v1.28h-1.76zM491.8 440.1h1.76v1.28h-1.76zM486.7 442.6h1.76v1.28h-1.76zM486.7 459.8h1.76v1.28h-1.76zM493.5 466.0h1.76v1.28h-1.76zM488.4 473.4h1.76v1.28h-1.76zM491.8 473.4h1.76v1.28h-1.76zM491.8 479.5h3.46v1.28h-3.46zM493.5 480.7h1.76v1.28h-1.76zM486.7 491.8h3.46v1.28h-3.46zM491.8 491.8h1.76v1.28h-1.76zM490.1 507.8h1.76v1.28h-1.76zM498.6 513.9h1.76v1.28h-1.76zM485.0 526.2h1.76v1.28h-1.76zM490.1 537.3h1.76v1.28h-1.76zM486.7 544.7h1.76v1.28h-1.76zM490.1 544.7h1.76v1.28h-1.76zM486.7 549.6h1.76v1.28h-1.76zM490.1 554.5h1.76v1.28h-1.76zM485.0 558.2h1.76v1.28h-1.76zM491.8 558.2h3.46v1.28h-3.46zM488.4 559.5h3.46v1.28h-3.46zM488.4 563.1h1.76v1.28h-1.76zM493.5 563.1h1.76v1.28h-1.76zM485.0 568.1h1.76v1.28h-1.76zM486.7 571.8h1.76v1.28h-1.76zM485.0 573.0h1.76v1.28h-1.76zM485.0 574.2h1.76v1.28h-1.76z"/><path fill="#e3e1f1" d="M473.0 90.8h1.76v1.28h-1.76zM478.1 106.8h1.76v1.28h-1.76zM476.4 108.0h1.76v1.28h-1.76zM474.7 110.5h1.76v1.28h-1.76zM478.1 110.5h1.76v1.28h-1.76zM469.6 111.7h1.76v1.28h-1.76zM474.7 111.7h1.76v1.28h-1.76zM478.1 111.7h1.76v1.28h-1.76zM473.0 121.6h1.76v1.28h-1.76zM473.0 124.0h1.76v1.28h-1.76zM471.3 125.3h1.76v1.28h-1.76zM474.7 133.9h1.76v1.28h-1.76zM471.3 135.1h1.76v1.28h-1.76zM474.7 141.3h1.76v1.28h-1.76zM476.4 142.5h1.76v1.28h-1.76zM474.7 143.7h3.46v1.28h-3.46zM476.4 172.0h3.46v1.28h-3.46zM479.8 218.8h1.76v1.28h-1.76zM483.2 218.8h1.76v1.28h-1.76zM479.8 220.0h3.46v1.28h-3.46zM471.3 236.0h1.76v1.28h-1.76zM486.7 256.9h1.76v1.28h-1.76zM486.7 263.0h1.76v1.28h-1.76zM485.0 265.5h1.76v1.28h-1.76zM488.4 265.5h1.76v1.28h-1.76zM471.3 269.2h1.76v1.28h-1.76zM490.1 276.6h1.76v1.28h-1.76zM493.5 276.6h1.76v1.28h-1.76zM491.8 277.8h1.76v1.28h-1.76zM485.0 292.5h1.76v1.28h-1.76zM488.4 292.5h1.76v1.28h-1.76zM495.2 297.5h1.76v1.28h-1.76zM498.6 297.5h1.76v1.28h-1.76zM495.2 315.9h1.76v1.28h-1.76zM485.0 318.4h1.76v1.28h-1.76zM488.4 325.8h1.76v1.28h-1.76zM485.0 327.0h1.76v1.28h-1.76zM488.4 328.2h1.76v1.28h-1.76zM488.4 331.9h1.76v1.28h-1.76zM485.0 333.1h3.46v1.28h-3.46zM485.0 334.4h1.76v1.28h-1.76zM488.4 334.4h1.76v1.28h-1.76zM496.9 335.6h1.76v1.28h-1.76zM486.7 360.2h1.76v1.28h-1.76zM488.4 361.4h1.76v1.28h-1.76zM490.1 393.4h1.76v1.28h-1.76zM493.5 394.6h1.76v1.28h-1.76zM490.1 395.9h1.76v1.28h-1.76zM490.1 418.0h1.76v1.28h-1.76zM493.5 418.0h1.76v1.28h-1.76zM491.8 446.3h1.76v1.28h-1.76zM486.7 448.8h1.76v1.28h-1.76zM486.7 450.0h3.46v1.28h-3.46zM491.8 451.2h3.46v1.28h-3.46zM490.1 452.5h1.76v1.28h-1.76zM491.8 453.7h1.76v1.28h-1.76zM485.0 466.0h1.76v1.28h-1.76zM498.6 467.2h1.76v1.28h-1.76zM493.5 469.7h1.76v1.28h-1.76zM486.7 470.9h1.76v1.28h-1.76zM490.1 470.9h3.46v1.28h-3.46zM490.1 490.6h1.76v1.28h-1.76zM488.4 496.7h1.76v1.28h-1.76zM488.4 498.0h1.76v1.28h-1.76zM491.8 502.9h1.76v1.28h-1.76zM490.1 504.1h1.76v1.28h-1.76zM493.5 505.3h1.76v1.28h-1.76zM488.4 518.9h1.76v1.28h-1.76zM488.4 521.3h1.76v1.28h-1.76zM485.0 522.6h1.76v1.28h-1.76zM493.5 529.9h1.76v1.28h-1.76zM491.8 531.2h3.46v1.28h-3.46zM486.7 533.6h3.46v1.28h-3.46zM485.0 538.5h1.76v1.28h-1.76zM488.4 538.5h1.76v1.28h-1.76zM488.4 539.8h1.76v1.28h-1.76zM485.0 541.0h1.76v1.28h-1.76zM486.7 542.2h1.76v1.28h-1.76zM491.8 561.9h1.76v1.28h-1.76zM485.0 565.6h1.76v1.28h-1.76zM488.4 566.8h1.76v1.28h-1.76zM488.4 577.9h1.76v1.28h-1.76z"/><path fill="#f5e0e6" d="M486.7 90.8h1.76v1.28h-1.76zM485.0 92.1h1.76v1.28h-1.76zM493.5 115.4h1.76v1.28h-1.76zM490.1 116.7h5.17v1.28h-5.17zM485.0 117.9h1.76v1.28h-1.76zM493.5 121.6h1.76v1.28h-1.76zM491.8 136.3h1.76v1.28h-1.76zM491.8 137.6h1.76v1.28h-1.76zM496.9 140.0h1.76v1.28h-1.76zM490.1 141.3h1.76v1.28h-1.76zM490.1 151.1h1.76v1.28h-1.76zM495.2 157.2h3.46v1.28h-3.46zM495.2 158.5h3.46v1.28h-3.46zM485.0 159.7h3.46v1.28h-3.46zM493.5 159.7h1.76v1.28h-1.76zM498.6 159.7h1.76v1.28h-1.76zM490.1 160.9h1.76v1.28h-1.76zM485.0 162.2h1.76v1.28h-1.76zM490.1 162.2h1.76v1.28h-1.76zM493.5 163.4h1.76v1.28h-1.76zM493.5 165.9h1.76v1.28h-1.76zM490.1 167.1h1.76v1.28h-1.76zM490.1 168.3h3.46v1.28h-3.46zM488.4 172.0h1.76v1.28h-1.76zM488.4 173.2h1.76v1.28h-1.76zM486.7 174.5h1.76v1.28h-1.76zM493.5 174.5h1.76v1.28h-1.76zM485.0 184.3h5.17v1.28h-5.17zM485.0 207.7h1.76v1.28h-1.76zM491.8 207.7h1.76v1.28h-1.76zM486.7 208.9h5.17v1.28h-5.17zM490.1 215.1h1.76v1.28h-1.76zM490.1 216.3h1.76v1.28h-1.76zM493.5 216.3h1.76v1.28h-1.76zM493.5 224.9h1.76v1.28h-1.76zM490.1 228.6h3.46v1.28h-3.46zM490.1 239.7h1.76v1.28h-1.76zM493.5 239.7h1.76v1.28h-1.76zM490.1 240.9h1.76v1.28h-1.76zM474.7 282.7h1.76v1.28h-1.76zM481.5 285.2h3.46v1.28h-3.46zM483.2 286.4h1.76v1.28h-1.76zM479.8 287.6h1.76v1.28h-1.76zM481.5 288.9h1.76v1.28h-1.76zM479.8 292.5h3.46v1.28h-3.46zM481.5 293.8h3.46v1.28h-3.46zM481.5 295.0h1.76v1.28h-1.76zM483.2 296.2h1.76v1.28h-1.76zM479.8 297.5h3.46v1.28h-3.46zM483.2 298.7h1.76v1.28h-1.76zM476.4 303.6h1.76v1.28h-1.76zM476.4 306.1h1.76v1.28h-1.76zM474.7 307.3h3.46v1.28h-3.46zM483.2 309.8h1.76v1.28h-1.76zM479.8 311.0h1.76v1.28h-1.76zM483.2 311.0h1.76v1.28h-1.76zM479.8 312.2h3.46v1.28h-3.46zM479.8 313.5h1.76v1.28h-1.76zM483.2 313.5h1.76v1.28h-1.76zM479.8 317.1h1.76v1.28h-1.76zM481.5 323.3h1.76v1.28h-1.76zM476.4 334.4h3.46v1.28h-3.46zM476.4 335.6h1.76v1.28h-1.76zM481.5 336.8h1.76v1.28h-1.76zM469.6 338.1h1.76v1.28h-1.76zM473.0 338.1h1.76v1.28h-1.76zM481.5 338.1h1.76v1.28h-1.76zM469.6 339.3h1.76v1.28h-1.76zM473.0 339.3h1.76v1.28h-1.76zM471.3 340.5h1.76v1.28h-1.76zM473.0 341.8h1.76v1.28h-1.76zM481.5 347.9h3.46v1.28h-3.46zM476.4 354.0h3.46v1.28h-3.46zM483.2 354.0h1.76v1.28h-1.76zM476.4 355.3h1.76v1.28h-1.76zM479.8 355.3h3.46v1.28h-3.46zM474.7 356.5h1.76v1.28h-1.76zM478.1 356.5h1.76v1.28h-1.76zM478.1 362.7h1.76v1.28h-1.76zM479.8 371.3h1.76v1.28h-1.76zM469.6 382.3h5.17v1.28h-5.17zM476.4 388.5h1.76v1.28h-1.76zM479.8 389.7h1.76v1.28h-1.76zM483.2 391.0h1.76v1.28h-1.76zM476.4 392.2h1.76v1.28h-1.76zM479.8 392.2h1.76v1.28h-1.76zM483.2 393.4h1.76v1.28h-1.76zM483.2 394.6h1.76v1.28h-1.76zM479.8 395.9h1.76v1.28h-1.76zM479.8 397.1h1.76v1.28h-1.76zM479.8 398.3h1.76v1.28h-1.76zM483.2 398.3h1.76v1.28h-1.76zM483.2 402.0h1.76v1.28h-1.76zM481.5 403.2h1.76v1.28h-1.76zM479.8 405.7h3.46v1.28h-3.46zM483.2 406.9h1.76v1.28h-1.76zM479.8 408.2h1.76v1.28h-1.76zM483.2 408.2h1.76v1.28h-1.76zM473.0 416.8h1.76v1.28h-1.76zM469.6 419.2h1.76v1.28h-1.76zM469.6 421.7h1.76v1.28h-1.76zM479.8 421.7h1.76v1.28h-1.76zM469.6 422.9h1.76v1.28h-1.76zM481.5 432.8h1.76v1.28h-1.76zM474.7 440.1h3.46v1.28h-3.46zM476.4 442.6h1.76v1.28h-1.76zM471.3 456.1h1.76v1.28h-1.76zM469.6 461.1h1.76v1.28h-1.76zM471.3 462.3h1.76v1.28h-1.76zM481.5 464.8h1.76v1.28h-1.76zM481.5 466.0h1.76v1.28h-1.76zM476.4 474.6h1.76v1.28h-1.76zM476.4 475.8h3.46v1.28h-3.46zM481.5 486.9h3.46v1.28h-3.46zM473.0 496.7h1.76v1.28h-1.76zM469.6 498.0h1.76v1.28h-1.76zM471.3 499.2h1.76v1.28h-1.76zM469.6 500.4h3.46v1.28h-3.46zM479.8 505.3h1.76v1.28h-1.76zM478.1 507.8h1.76v1.28h-1.76zM481.5 517.6h3.46v1.28h-3.46zM481.5 528.7h1.76v1.28h-1.76zM476.4 529.9h1.76v1.28h-1.76zM483.2 529.9h1.76v1.28h-1.76zM474.7 531.2h1.76v1.28h-1.76zM474.7 538.5h1.76v1.28h-1.76zM471.3 541.0h1.76v1.28h-1.76zM483.2 542.2h1.76v1.28h-1.76zM481.5 543.5h1.76v1.28h-1.76zM479.8 544.7h1.76v1.28h-1.76zM476.4 550.9h1.76v1.28h-1.76zM476.4 552.1h1.76v1.28h-1.76zM483.2 557.0h1.76v1.28h-1.76zM473.0 559.5h1.76v1.28h-1.76zM481.5 559.5h1.76v1.28h-1.76zM469.6 560.7h5.17v1.28h-5.17zM469.6 565.6h1.76v1.28h-1.76zM479.8 565.6h3.46v1.28h-3.46zM481.5 574.2h1.76v1.28h-1.76zM474.7 575.4h1.76v1.28h-1.76zM478.1 575.4h1.76v1.28h-1.76zM479.8 579.1h3.46v1.28h-3.46zM483.2 580.4h1.76v1.28h-1.76z"/><path fill="#f4cacf" d="M490.1 90.8h1.76v1.28h-1.76zM491.8 97.0h1.76v1.28h-1.76zM498.6 98.2h1.76v1.28h-1.76zM488.4 99.4h1.76v1.28h-1.76zM491.8 101.9h3.46v1.28h-3.46zM490.1 103.1h1.76v1.28h-1.76zM486.7 108.0h1.76v1.28h-1.76zM485.0 119.1h1.76v1.28h-1.76zM486.7 120.3h1.76v1.28h-1.76zM485.0 121.6h1.76v1.28h-1.76zM488.4 124.0h1.76v1.28h-1.76zM490.1 126.5h1.76v1.28h-1.76zM493.5 126.5h1.76v1.28h-1.76zM491.8 130.2h1.76v1.28h-1.76zM486.7 132.6h1.76v1.28h-1.76zM488.4 137.6h1.76v1.28h-1.76zM486.7 144.9h1.76v1.28h-1.76zM491.8 146.2h1.76v1.28h-1.76zM491.8 149.9h1.76v1.28h-1.76zM491.8 152.3h1.76v1.28h-1.76zM490.1 153.6h1.76v1.28h-1.76zM488.4 154.8h1.76v1.28h-1.76zM498.6 154.8h1.76v1.28h-1.76zM485.0 157.2h1.76v1.28h-1.76zM488.4 159.7h1.76v1.28h-1.76zM486.7 160.9h3.46v1.28h-3.46zM486.7 162.2h1.76v1.28h-1.76zM485.0 163.4h5.17v1.28h-5.17zM491.8 164.6h1.76v1.28h-1.76zM488.4 165.9h3.46v1.28h-3.46zM493.5 167.1h1.76v1.28h-1.76zM493.5 168.3h1.76v1.28h-1.76zM486.7 169.6h1.76v1.28h-1.76zM488.4 170.8h1.76v1.28h-1.76zM485.0 174.5h1.76v1.28h-1.76zM488.4 174.5h1.76v1.28h-1.76zM491.8 175.7h1.76v1.28h-1.76zM486.7 179.4h1.76v1.28h-1.76zM486.7 180.6h1.76v1.28h-1.76zM491.8 188.0h1.76v1.28h-1.76zM485.0 189.2h1.76v1.28h-1.76zM491.8 189.2h1.76v1.28h-1.76zM491.8 190.5h1.76v1.28h-1.76zM485.0 195.4h1.76v1.28h-1.76zM488.4 196.6h1.76v1.28h-1.76zM491.8 196.6h1.76v1.28h-1.76zM485.0 197.8h1.76v1.28h-1.76zM493.5 199.1h1.76v1.28h-1.76zM491.8 202.8h3.46v1.28h-3.46zM491.8 204.0h1.76v1.28h-1.76zM485.0 206.4h1.76v1.28h-1.76zM488.4 207.7h1.76v1.28h-1.76zM485.0 208.9h1.76v1.28h-1.76zM486.7 211.4h1.76v1.28h-1.76zM493.5 212.6h1.76v1.28h-1.76zM491.8 216.3h1.76v1.28h-1.76zM495.2 217.5h1.76v1.28h-1.76zM498.6 220.0h1.76v1.28h-1.76zM486.7 222.4h3.46v1.28h-3.46zM496.9 222.4h1.76v1.28h-1.76zM498.6 227.4h1.76v1.28h-1.76zM490.1 231.0h1.76v1.28h-1.76zM498.6 261.8h1.76v1.28h-1.76zM496.9 264.3h1.76v1.28h-1.76zM473.0 283.9h1.76v1.28h-1.76zM478.1 288.9h1.76v1.28h-1.76zM476.4 291.3h1.76v1.28h-1.76zM471.3 293.8h1.76v1.28h-1.76zM469.6 295.0h1.76v1.28h-1.76zM473.0 295.0h1.76v1.28h-1.76zM478.1 303.6h1.76v1.28h-1.76zM474.7 306.1h1.76v1.28h-1.76zM473.0 312.2h1.76v1.28h-1.76zM471.3 317.1h1.76v1.28h-1.76zM476.4 318.4h1.76v1.28h-1.76zM476.4 322.1h1.76v1.28h-1.76zM469.6 324.5h1.76v1.28h-1.76zM479.8 327.0h3.46v1.28h-3.46zM471.3 328.2h1.76v1.28h-1.76zM478.1 330.7h1.76v1.28h-1.76zM479.8 335.6h1.76v1.28h-1.76zM483.2 335.6h1.76v1.28h-1.76zM471.3 336.8h1.76v1.28h-1.76zM479.8 338.1h1.76v1.28h-1.76zM469.6 343.0h1.76v1.28h-1.76zM479.8 352.8h1.76v1.28h-1.76zM483.2 352.8h1.76v1.28h-1.76zM479.8 354.0h3.46v1.28h-3.46zM471.3 355.3h1.76v1.28h-1.76zM483.2 355.3h1.76v1.28h-1.76zM478.1 357.7h1.76v1.28h-1.76zM469.6 363.9h1.76v1.28h-1.76zM483.2 379.9h1.76v1.28h-1.76zM479.8 381.1h5.17v1.28h-5.17zM479.8 387.3h1.76v1.28h-1.76zM474.7 388.5h1.76v1.28h-1.76zM478.1 388.5h3.46v1.28h-3.46zM474.7 389.7h1.76v1.28h-1.76zM483.2 389.7h1.76v1.28h-1.76zM474.7 391.0h3.46v1.28h-3.46zM479.8 391.0h1.76v1.28h-1.76zM474.7 392.2h1.76v1.28h-1.76zM478.1 392.2h1.76v1.28h-1.76zM483.2 392.2h1.76v1.28h-1.76zM479.8 393.4h1.76v1.28h-1.76zM479.8 394.6h1.76v1.28h-1.76zM481.5 395.9h1.76v1.28h-1.76zM469.6 408.2h1.76v1.28h-1.76zM476.4 409.4h1.76v1.28h-1.76zM478.1 410.6h3.46v1.28h-3.46zM483.2 411.9h1.76v1.28h-1.76zM481.5 421.7h1.76v1.28h-1.76zM479.8 425.4h1.76v1.28h-1.76zM479.8 430.3h1.76v1.28h-1.76zM483.2 432.8h1.76v1.28h-1.76zM479.8 436.5h1.76v1.28h-1.76zM481.5 438.9h1.76v1.28h-1.76zM469.6 440.1h1.76v1.28h-1.76zM481.5 440.1h3.46v1.28h-3.46zM473.0 450.0h1.76v1.28h-1.76zM479.8 451.2h1.76v1.28h-1.76zM476.4 456.1h1.76v1.28h-1.76zM481.5 458.6h1.76v1.28h-1.76zM471.3 461.1h1.76v1.28h-1.76zM479.8 463.5h1.76v1.28h-1.76zM471.3 466.0h1.76v1.28h-1.76zM471.3 470.9h1.76v1.28h-1.76zM473.0 475.8h1.76v1.28h-1.76zM479.8 478.3h1.76v1.28h-1.76zM483.2 478.3h1.76v1.28h-1.76zM481.5 480.7h1.76v1.28h-1.76zM479.8 482.0h1.76v1.28h-1.76zM471.3 483.2h1.76v1.28h-1.76zM479.8 483.2h5.17v1.28h-5.17zM479.8 484.4h3.46v1.28h-3.46zM474.7 485.7h1.76v1.28h-1.76zM479.8 485.7h1.76v1.28h-1.76zM479.8 486.9h1.76v1.28h-1.76zM479.8 506.6h3.46v1.28h-3.46zM474.7 511.5h1.76v1.28h-1.76zM479.8 511.5h1.76v1.28h-1.76zM474.7 513.9h1.76v1.28h-1.76zM473.0 520.1h1.76v1.28h-1.76zM476.4 522.6h1.76v1.28h-1.76zM471.3 523.8h1.76v1.28h-1.76zM481.5 526.2h1.76v1.28h-1.76zM469.6 531.2h1.76v1.28h-1.76zM478.1 531.2h1.76v1.28h-1.76zM471.3 532.4h1.76v1.28h-1.76zM476.4 532.4h1.76v1.28h-1.76zM481.5 534.9h1.76v1.28h-1.76zM481.5 542.2h1.76v1.28h-1.76zM479.8 543.5h1.76v1.28h-1.76zM483.2 543.5h1.76v1.28h-1.76zM473.0 548.4h1.76v1.28h-1.76zM479.8 548.4h1.76v1.28h-1.76zM474.7 550.9h1.76v1.28h-1.76zM478.1 550.9h1.76v1.28h-1.76zM471.3 553.3h1.76v1.28h-1.76zM478.1 555.8h1.76v1.28h-1.76zM469.6 559.5h1.76v1.28h-1.76zM476.4 559.5h3.46v1.28h-3.46zM469.6 561.9h1.76v1.28h-1.76zM483.2 561.9h1.76v1.28h-1.76zM479.8 563.1h5.17v1.28h-5.17zM469.6 564.4h1.76v1.28h-1.76zM479.8 564.4h1.76v1.28h-1.76zM483.2 564.4h1.76v1.28h-1.76zM483.2 565.6h1.76v1.28h-1.76zM471.3 568.1h3.46v1.28h-3.46zM471.3 569.3h1.76v1.28h-1.76zM471.3 580.4h1.76v1.28h-1.76z"/><path fill="#e94449" d="M498.6 92.1h1.76v1.28h-1.76zM491.8 93.3h1.76v1.28h-1.76zM493.5 94.5h3.46v1.28h-3.46zM491.8 98.2h1.76v1.28h-1.76zM493.5 99.4h1.76v1.28h-1.76zM486.7 100.7h1.76v1.28h-1.76zM495.2 100.7h1.76v1.28h-1.76zM485.0 101.9h1.76v1.28h-1.76zM495.2 103.1h1.76v1.28h-1.76zM488.4 104.4h1.76v1.28h-1.76zM495.2 104.4h1.76v1.28h-1.76zM498.6 104.4h1.76v1.28h-1.76zM493.5 105.6h1.76v1.28h-1.76zM490.1 106.8h1.76v1.28h-1.76zM495.2 106.8h1.76v1.28h-1.76zM495.2 108.0h1.76v1.28h-1.76zM496.9 109.3h1.76v1.28h-1.76zM486.7 110.5h1.76v1.28h-1.76zM490.1 110.5h1.76v1.28h-1.76zM491.8 111.7h1.76v1.28h-1.76zM498.6 113.0h1.76v1.28h-1.76zM495.2 116.7h1.76v1.28h-1.76zM498.6 116.7h1.76v1.28h-1.76zM496.9 117.9h1.76v1.28h-1.76zM490.1 119.1h1.76v1.28h-1.76zM495.2 120.3h1.76v1.28h-1.76zM498.6 124.0h1.76v1.28h-1.76zM491.8 125.3h3.46v1.28h-3.46zM498.6 125.3h1.76v1.28h-1.76zM486.7 127.7h1.76v1.28h-1.76zM496.9 127.7h1.76v1.28h-1.76zM493.5 131.4h1.76v1.28h-1.76zM485.0 133.9h1.76v1.28h-1.76zM496.9 133.9h1.76v1.28h-1.76zM496.9 135.1h3.46v1.28h-3.46zM488.4 136.3h3.46v1.28h-3.46zM495.2 137.6h1.76v1.28h-1.76zM495.2 141.3h1.76v1.28h-1.76zM493.5 142.5h3.46v1.28h-3.46zM493.5 143.7h1.76v1.28h-1.76zM495.2 144.9h3.46v1.28h-3.46zM496.9 146.2h1.76v1.28h-1.76zM496.9 151.1h1.76v1.28h-1.76zM490.1 152.3h1.76v1.28h-1.76zM493.5 152.3h1.76v1.28h-1.76zM485.0 153.6h1.76v1.28h-1.76zM498.6 153.6h1.76v1.28h-1.76zM491.8 156.0h1.76v1.28h-1.76zM498.6 160.9h1.76v1.28h-1.76zM498.6 162.2h1.76v1.28h-1.76zM495.2 163.4h1.76v1.28h-1.76zM485.0 164.6h1.76v1.28h-1.76zM496.9 173.2h3.46v1.28h-3.46zM498.6 174.5h1.76v1.28h-1.76zM486.7 175.7h1.76v1.28h-1.76zM490.1 175.7h1.76v1.28h-1.76zM491.8 176.9h1.76v1.28h-1.76zM496.9 178.2h1.76v1.28h-1.76zM486.7 181.8h1.76v1.28h-1.76zM490.1 181.8h1.76v1.28h-1.76zM498.6 181.8h1.76v1.28h-1.76zM488.4 183.1h1.76v1.28h-1.76zM491.8 183.1h1.76v1.28h-1.76zM496.9 183.1h1.76v1.28h-1.76zM498.6 184.3h1.76v1.28h-1.76zM498.6 186.8h1.76v1.28h-1.76zM488.4 190.5h1.76v1.28h-1.76zM486.7 191.7h1.76v1.28h-1.76zM488.4 192.9h1.76v1.28h-1.76zM496.9 192.9h1.76v1.28h-1.76zM496.9 196.6h1.76v1.28h-1.76zM496.9 197.8h1.76v1.28h-1.76zM488.4 199.1h1.76v1.28h-1.76zM498.6 200.3h1.76v1.28h-1.76zM490.1 204.0h1.76v1.28h-1.76zM495.2 204.0h1.76v1.28h-1.76zM493.5 205.2h1.76v1.28h-1.76zM498.6 205.2h1.76v1.28h-1.76zM486.7 206.4h1.76v1.28h-1.76zM496.9 206.4h1.76v1.28h-1.76zM498.6 207.7h1.76v1.28h-1.76zM485.0 210.1h5.17v1.28h-5.17zM485.0 212.6h1.76v1.28h-1.76zM490.1 212.6h1.76v1.28h-1.76zM485.0 213.8h1.76v1.28h-1.76zM491.8 213.8h1.76v1.28h-1.76zM498.6 213.8h1.76v1.28h-1.76zM486.7 215.1h1.76v1.28h-1.76zM493.5 217.5h1.76v1.28h-1.76zM485.0 218.8h1.76v1.28h-1.76zM485.0 220.0h5.17v1.28h-5.17zM485.0 221.2h1.76v1.28h-1.76zM488.4 221.2h1.76v1.28h-1.76zM490.1 223.7h1.76v1.28h-1.76zM485.0 227.4h1.76v1.28h-1.76zM495.2 227.4h1.76v1.28h-1.76zM485.0 228.6h1.76v1.28h-1.76zM485.0 231.0h3.46v1.28h-3.46zM496.9 232.3h1.76v1.28h-1.76zM485.0 236.0h3.46v1.28h-3.46zM498.6 236.0h1.76v1.28h-1.76zM495.2 237.2h1.76v1.28h-1.76zM498.6 237.2h1.76v1.28h-1.76zM485.0 238.4h1.76v1.28h-1.76zM498.6 239.7h1.76v1.28h-1.76zM486.7 242.1h1.76v1.28h-1.76zM486.7 243.3h3.46v1.28h-3.46zM495.2 245.8h1.76v1.28h-1.76zM495.2 254.4h1.76v1.28h-1.76zM496.9 267.9h1.76v1.28h-1.76zM495.2 269.2h1.76v1.28h-1.76zM498.6 270.4h1.76v1.28h-1.76zM498.6 271.6h1.76v1.28h-1.76zM496.9 272.9h1.76v1.28h-1.76zM498.6 275.3h1.76v1.28h-1.76zM495.2 276.6h1.76v1.28h-1.76zM496.9 277.8h1.76v1.28h-1.76zM473.0 282.7h1.76v1.28h-1.76zM476.4 283.9h1.76v1.28h-1.76zM471.3 285.2h1.76v1.28h-1.76zM469.6 287.6h1.76v1.28h-1.76zM473.0 287.6h1.76v1.28h-1.76zM471.3 288.9h1.76v1.28h-1.76zM474.7 288.9h1.76v1.28h-1.76zM469.6 291.3h3.46v1.28h-3.46zM483.2 292.5h1.76v1.28h-1.76zM471.3 296.2h1.76v1.28h-1.76zM474.7 296.2h1.76v1.28h-1.76zM471.3 297.5h1.76v1.28h-1.76zM483.2 297.5h1.76v1.28h-1.76zM473.0 299.9h1.76v1.28h-1.76zM479.8 301.2h1.76v1.28h-1.76zM483.2 301.2h1.76v1.28h-1.76zM471.3 302.4h1.76v1.28h-1.76zM483.2 302.4h1.76v1.28h-1.76zM471.3 303.6h1.76v1.28h-1.76zM474.7 304.9h1.76v1.28h-1.76zM479.8 304.9h1.76v1.28h-1.76zM473.0 307.3h1.76v1.28h-1.76zM478.1 308.5h1.76v1.28h-1.76zM478.1 309.8h1.76v1.28h-1.76zM481.5 309.8h1.76v1.28h-1.76zM473.0 311.0h1.76v1.28h-1.76zM469.6 312.2h1.76v1.28h-1.76zM476.4 312.2h1.76v1.28h-1.76zM476.4 314.7h1.76v1.28h-1.76zM476.4 315.9h1.76v1.28h-1.76zM483.2 318.4h1.76v1.28h-1.76zM478.1 322.1h1.76v1.28h-1.76zM469.6 323.3h1.76v1.28h-1.76zM474.7 324.5h1.76v1.28h-1.76zM469.6 325.8h3.46v1.28h-3.46zM483.2 325.8h1.76v1.28h-1.76zM476.4 329.4h1.76v1.28h-1.76zM476.4 331.9h5.17v1.28h-5.17zM471.3 333.1h1.76v1.28h-1.76zM479.8 334.4h1.76v1.28h-1.76zM478.1 335.6h1.76v1.28h-1.76zM473.0 336.8h1.76v1.28h-1.76zM478.1 336.8h1.76v1.28h-1.76zM471.3 338.1h1.76v1.28h-1.76zM474.7 339.3h1.76v1.28h-1.76zM478.1 340.5h1.76v1.28h-1.76zM471.3 343.0h3.46v1.28h-3.46zM476.4 343.0h1.76v1.28h-1.76zM483.2 344.2h1.76v1.28h-1.76zM471.3 345.4h1.76v1.28h-1.76zM478.1 345.4h1.76v1.28h-1.76zM469.6 346.7h1.76v1.28h-1.76zM469.6 347.9h1.76v1.28h-1.76zM473.0 347.9h1.76v1.28h-1.76zM476.4 347.9h1.76v1.28h-1.76zM474.7 349.1h1.76v1.28h-1.76zM471.3 350.4h1.76v1.28h-1.76zM474.7 351.6h1.76v1.28h-1.76zM479.8 351.6h1.76v1.28h-1.76zM471.3 352.8h1.76v1.28h-1.76zM469.6 355.3h1.76v1.28h-1.76zM481.5 356.5h1.76v1.28h-1.76zM479.8 359.0h1.76v1.28h-1.76zM479.8 360.2h1.76v1.28h-1.76zM469.6 361.4h1.76v1.28h-1.76zM471.3 362.7h3.46v1.28h-3.46zM473.0 363.9h1.76v1.28h-1.76zM481.5 363.9h1.76v1.28h-1.76zM481.5 365.1h1.76v1.28h-1.76zM483.2 366.4h1.76v1.28h-1.76zM476.4 367.6h1.76v1.28h-1.76zM483.2 367.6h1.76v1.28h-1.76zM481.5 371.3h1.76v1.28h-1.76zM478.1 372.5h1.76v1.28h-1.76zM483.2 372.5h1.76v1.28h-1.76zM469.6 375.0h1.76v1.28h-1.76zM476.4 375.0h1.76v1.28h-1.76zM474.7 376.2h1.76v1.28h-1.76zM479.8 376.2h1.76v1.28h-1.76zM469.6 377.4h1.76v1.28h-1.76zM479.8 378.6h3.46v1.28h-3.46zM476.4 386.0h1.76v1.28h-1.76zM474.7 387.3h1.76v1.28h-1.76zM469.6 388.5h1.76v1.28h-1.76zM473.0 388.5h1.76v1.28h-1.76zM481.5 389.7h1.76v1.28h-1.76zM478.1 391.0h1.76v1.28h-1.76zM473.0 393.4h1.76v1.28h-1.76zM469.6 397.1h3.46v1.28h-3.46zM471.3 404.5h1.76v1.28h-1.76zM478.1 405.7h1.76v1.28h-1.76zM483.2 405.7h1.76v1.28h-1.76zM476.4 406.9h1.76v1.28h-1.76zM478.1 411.9h1.76v1.28h-1.76zM469.6 413.1h1.76v1.28h-1.76zM474.7 413.1h1.76v1.28h-1.76zM474.7 415.5h1.76v1.28h-1.76zM478.1 418.0h1.76v1.28h-1.76zM471.3 419.2h1.76v1.28h-1.76zM471.3 422.9h1.76v1.28h-1.76zM483.2 425.4h1.76v1.28h-1.76zM473.0 426.6h1.76v1.28h-1.76zM478.1 426.6h1.76v1.28h-1.76zM478.1 427.9h1.76v1.28h-1.76zM478.1 429.1h1.76v1.28h-1.76zM476.4 430.3h1.76v1.28h-1.76zM469.6 431.5h1.76v1.28h-1.76zM473.0 431.5h1.76v1.28h-1.76zM473.0 432.8h1.76v1.28h-1.76zM469.6 434.0h1.76v1.28h-1.76zM474.7 434.0h1.76v1.28h-1.76zM483.2 434.0h1.76v1.28h-1.76zM473.0 435.2h1.76v1.28h-1.76zM471.3 437.7h1.76v1.28h-1.76zM473.0 440.1h1.76v1.28h-1.76zM478.1 442.6h1.76v1.28h-1.76zM471.3 443.8h1.76v1.28h-1.76zM479.8 443.8h3.46v1.28h-3.46zM473.0 445.1h1.76v1.28h-1.76zM476.4 445.1h1.76v1.28h-1.76zM474.7 446.3h1.76v1.28h-1.76zM471.3 447.5h1.76v1.28h-1.76zM481.5 450.0h1.76v1.28h-1.76zM479.8 453.7h1.76v1.28h-1.76zM469.6 454.9h1.76v1.28h-1.76zM483.2 454.9h1.76v1.28h-1.76zM476.4 459.8h1.76v1.28h-1.76zM474.7 461.1h1.76v1.28h-1.76zM476.4 462.3h3.46v1.28h-3.46zM481.5 462.3h3.46v1.28h-3.46zM474.7 463.5h1.76v1.28h-1.76zM471.3 468.4h1.76v1.28h-1.76zM479.8 468.4h1.76v1.28h-1.76zM471.3 469.7h1.76v1.28h-1.76zM469.6 473.4h1.76v1.28h-1.76zM474.7 473.4h1.76v1.28h-1.76zM483.2 474.6h1.76v1.28h-1.76zM473.0 477.0h1.76v1.28h-1.76zM473.0 478.3h1.76v1.28h-1.76zM471.3 479.5h1.76v1.28h-1.76zM469.6 480.7h1.76v1.28h-1.76zM476.4 480.7h1.76v1.28h-1.76zM476.4 482.0h1.76v1.28h-1.76zM476.4 484.4h1.76v1.28h-1.76zM471.3 486.9h1.76v1.28h-1.76zM474.7 486.9h1.76v1.28h-1.76zM481.5 488.1h1.76v1.28h-1.76zM473.0 489.4h1.76v1.28h-1.76zM483.2 489.4h1.76v1.28h-1.76zM471.3 490.6h1.76v1.28h-1.76zM471.3 493.0h1.76v1.28h-1.76zM478.1 493.0h1.76v1.28h-1.76zM476.4 496.7h1.76v1.28h-1.76zM474.7 499.2h1.76v1.28h-1.76zM481.5 501.6h1.76v1.28h-1.76zM471.3 502.9h1.76v1.28h-1.76zM478.1 502.9h1.76v1.28h-1.76zM476.4 505.3h3.46v1.28h-3.46zM483.2 505.3h1.76v1.28h-1.76zM473.0 507.8h1.76v1.28h-1.76zM483.2 507.8h1.76v1.28h-1.76zM473.0 510.3h1.76v1.28h-1.76zM483.2 510.3h1.76v1.28h-1.76zM478.1 512.7h1.76v1.28h-1.76zM479.8 513.9h3.46v1.28h-3.46zM474.7 516.4h1.76v1.28h-1.76zM478.1 516.4h1.76v1.28h-1.76zM474.7 517.6h1.76v1.28h-1.76zM476.4 520.1h1.76v1.28h-1.76zM479.8 521.3h1.76v1.28h-1.76zM481.5 522.6h1.76v1.28h-1.76zM471.3 527.5h1.76v1.28h-1.76zM474.7 529.9h1.76v1.28h-1.76zM481.5 531.2h1.76v1.28h-1.76zM469.6 532.4h1.76v1.28h-1.76zM473.0 532.4h1.76v1.28h-1.76zM479.8 532.4h3.46v1.28h-3.46zM481.5 533.6h1.76v1.28h-1.76zM473.0 534.9h1.76v1.28h-1.76zM474.7 536.1h1.76v1.28h-1.76zM476.4 537.3h3.46v1.28h-3.46zM469.6 538.5h1.76v1.28h-1.76zM481.5 539.8h1.76v1.28h-1.76zM469.6 542.2h1.76v1.28h-1.76zM481.5 544.7h1.76v1.28h-1.76zM474.7 545.9h1.76v1.28h-1.76zM474.7 548.4h1.76v1.28h-1.76zM481.5 550.9h1.76v1.28h-1.76zM471.3 552.1h1.76v1.28h-1.76zM471.3 555.8h1.76v1.28h-1.76zM483.2 555.8h1.76v1.28h-1.76zM478.1 558.2h1.76v1.28h-1.76zM483.2 558.2h1.76v1.28h-1.76zM474.7 559.5h1.76v1.28h-1.76zM476.4 563.1h1.76v1.28h-1.76zM471.3 566.8h1.76v1.28h-1.76zM479.8 566.8h3.46v1.28h-3.46zM469.6 568.1h1.76v1.28h-1.76zM476.4 569.3h1.76v1.28h-1.76zM469.6 570.5h1.76v1.28h-1.76zM473.0 571.8h1.76v1.28h-1.76zM478.1 571.8h6.87v1.28h-6.87zM479.8 574.2h1.76v1.28h-1.76zM469.6 576.7h1.76v1.28h-1.76zM478.1 576.7h1.76v1.28h-1.76zM479.8 577.9h1.76v1.28h-1.76zM469.6 579.1h1.76v1.28h-1.76z"/><path fill="#f09da2" d="M485.0 93.3h1.76v1.28h-1.76zM488.4 93.3h1.76v1.28h-1.76zM486.7 95.8h1.76v1.28h-1.76zM485.0 97.0h1.76v1.28h-1.76zM485.0 99.4h1.76v1.28h-1.76zM485.0 105.6h1.76v1.28h-1.76zM490.1 105.6h1.76v1.28h-1.76zM485.0 106.8h3.46v1.28h-3.46zM485.0 109.3h1.76v1.28h-1.76zM495.2 115.4h1.76v1.28h-1.76zM490.1 117.9h1.76v1.28h-1.76zM485.0 124.0h1.76v1.28h-1.76zM491.8 126.5h1.76v1.28h-1.76zM493.5 133.9h1.76v1.28h-1.76zM485.0 135.1h3.46v1.28h-3.46zM490.1 135.1h1.76v1.28h-1.76zM485.0 136.3h1.76v1.28h-1.76zM490.1 146.2h1.76v1.28h-1.76zM498.6 151.1h1.76v1.28h-1.76zM485.0 152.3h1.76v1.28h-1.76zM490.1 156.0h1.76v1.28h-1.76zM491.8 157.2h1.76v1.28h-1.76zM486.7 164.6h1.76v1.28h-1.76zM488.4 167.1h1.76v1.28h-1.76zM495.2 167.1h5.17v1.28h-5.17zM495.2 168.3h1.76v1.28h-1.76zM496.9 169.6h1.76v1.28h-1.76zM486.7 170.8h1.76v1.28h-1.76zM496.9 170.8h1.76v1.28h-1.76zM491.8 173.2h1.76v1.28h-1.76zM491.8 178.2h1.76v1.28h-1.76zM491.8 181.8h1.76v1.28h-1.76zM495.2 183.1h1.76v1.28h-1.76zM488.4 189.2h1.76v1.28h-1.76zM498.6 201.5h1.76v1.28h-1.76zM486.7 202.8h1.76v1.28h-1.76zM486.7 204.0h1.76v1.28h-1.76zM485.0 205.2h1.76v1.28h-1.76zM496.9 210.1h1.76v1.28h-1.76zM491.8 212.6h1.76v1.28h-1.76zM496.9 212.6h1.76v1.28h-1.76zM488.4 213.8h1.76v1.28h-1.76zM495.2 218.8h1.76v1.28h-1.76zM496.9 220.0h1.76v1.28h-1.76zM496.9 221.2h1.76v1.28h-1.76zM493.5 222.4h1.76v1.28h-1.76zM498.6 222.4h1.76v1.28h-1.76zM486.7 224.9h1.76v1.28h-1.76zM496.9 224.9h1.76v1.28h-1.76zM486.7 226.1h1.76v1.28h-1.76zM486.7 228.6h1.76v1.28h-1.76zM496.9 228.6h3.46v1.28h-3.46zM498.6 229.8h1.76v1.28h-1.76zM493.5 233.5h1.76v1.28h-1.76zM488.4 234.7h1.76v1.28h-1.76zM490.1 236.0h1.76v1.28h-1.76zM493.5 236.0h1.76v1.28h-1.76zM485.0 239.7h1.76v1.28h-1.76zM491.8 239.7h1.76v1.28h-1.76zM490.1 242.1h1.76v1.28h-1.76zM490.1 243.3h5.17v1.28h-5.17zM485.0 244.6h1.76v1.28h-1.76zM496.9 244.6h1.76v1.28h-1.76zM495.2 265.5h1.76v1.28h-1.76zM498.6 266.7h1.76v1.28h-1.76zM495.2 275.3h1.76v1.28h-1.76zM498.6 276.6h1.76v1.28h-1.76zM471.3 280.2h1.76v1.28h-1.76zM483.2 281.5h1.76v1.28h-1.76zM474.7 283.9h1.76v1.28h-1.76zM478.1 283.9h1.76v1.28h-1.76zM478.1 286.4h1.76v1.28h-1.76zM479.8 291.3h1.76v1.28h-1.76zM474.7 292.5h1.76v1.28h-1.76zM478.1 292.5h1.76v1.28h-1.76zM474.7 295.0h1.76v1.28h-1.76zM478.1 299.9h1.76v1.28h-1.76zM481.5 299.9h1.76v1.28h-1.76zM481.5 304.9h1.76v1.28h-1.76zM476.4 309.8h1.76v1.28h-1.76zM473.0 313.5h1.76v1.28h-1.76zM473.0 314.7h1.76v1.28h-1.76zM469.6 320.8h5.17v1.28h-5.17zM476.4 320.8h1.76v1.28h-1.76zM478.1 327.0h1.76v1.28h-1.76zM474.7 328.2h1.76v1.28h-1.76zM473.0 334.4h1.76v1.28h-1.76zM471.3 335.6h1.76v1.28h-1.76zM481.5 335.6h1.76v1.28h-1.76zM469.6 365.1h1.76v1.28h-1.76zM469.6 366.4h1.76v1.28h-1.76zM474.7 370.0h1.76v1.28h-1.76zM479.8 372.5h1.76v1.28h-1.76zM476.4 379.9h1.76v1.28h-1.76zM474.7 404.5h1.76v1.28h-1.76zM474.7 408.2h3.46v1.28h-3.46zM471.3 409.4h5.17v1.28h-5.17zM483.2 409.4h1.76v1.28h-1.76zM476.4 410.6h1.76v1.28h-1.76zM474.7 411.9h1.76v1.28h-1.76zM479.8 427.9h1.76v1.28h-1.76zM483.2 427.9h1.76v1.28h-1.76zM473.0 429.1h1.76v1.28h-1.76zM479.8 429.1h3.46v1.28h-3.46zM481.5 430.3h1.76v1.28h-1.76zM479.8 431.5h3.46v1.28h-3.46zM481.5 434.0h1.76v1.28h-1.76zM481.5 437.7h1.76v1.28h-1.76zM471.3 440.1h1.76v1.28h-1.76zM483.2 441.4h1.76v1.28h-1.76zM483.2 442.6h1.76v1.28h-1.76zM474.7 450.0h1.76v1.28h-1.76zM478.1 450.0h1.76v1.28h-1.76zM478.1 452.5h1.76v1.28h-1.76zM476.4 457.4h1.76v1.28h-1.76zM476.4 458.6h1.76v1.28h-1.76zM479.8 458.6h1.76v1.28h-1.76zM483.2 458.6h1.76v1.28h-1.76zM478.1 466.0h1.76v1.28h-1.76zM476.4 468.4h1.76v1.28h-1.76zM479.8 469.7h1.76v1.28h-1.76zM478.1 477.0h5.17v1.28h-5.17zM474.7 482.0h1.76v1.28h-1.76zM469.6 484.4h1.76v1.28h-1.76zM474.7 489.4h1.76v1.28h-1.76zM473.0 494.3h1.76v1.28h-1.76zM481.5 495.5h1.76v1.28h-1.76zM479.8 499.2h1.76v1.28h-1.76zM471.3 504.1h1.76v1.28h-1.76zM473.0 511.5h1.76v1.28h-1.76zM469.6 516.4h1.76v1.28h-1.76zM469.6 523.8h1.76v1.28h-1.76zM474.7 525.0h1.76v1.28h-1.76zM471.3 529.9h1.76v1.28h-1.76zM483.2 532.4h1.76v1.28h-1.76zM479.8 534.9h1.76v1.28h-1.76zM483.2 534.9h1.76v1.28h-1.76zM481.5 536.1h1.76v1.28h-1.76zM473.0 547.2h1.76v1.28h-1.76zM483.2 547.2h1.76v1.28h-1.76zM478.1 548.4h1.76v1.28h-1.76zM473.0 549.6h1.76v1.28h-1.76zM479.8 549.6h1.76v1.28h-1.76zM473.0 552.1h1.76v1.28h-1.76zM479.8 553.3h3.46v1.28h-3.46zM481.5 555.8h1.76v1.28h-1.76zM474.7 560.7h1.76v1.28h-1.76zM479.8 560.7h1.76v1.28h-1.76zM483.2 560.7h1.76v1.28h-1.76zM479.8 561.9h1.76v1.28h-1.76zM474.7 563.1h1.76v1.28h-1.76zM478.1 568.1h1.76v1.28h-1.76zM471.3 570.5h1.76v1.28h-1.76zM474.7 571.8h1.76v1.28h-1.76zM479.8 576.7h1.76v1.28h-1.76z"/><path fill="#ed7176" d="M486.7 93.3h1.76v1.28h-1.76zM490.1 95.8h1.76v1.28h-1.76zM486.7 97.0h1.76v1.28h-1.76zM485.0 98.2h3.46v1.28h-3.46zM490.1 111.7h1.76v1.28h-1.76zM488.4 120.3h1.76v1.28h-1.76zM485.0 122.8h5.17v1.28h-5.17zM486.7 124.0h1.76v1.28h-1.76zM485.0 125.3h1.76v1.28h-1.76zM485.0 126.5h1.76v1.28h-1.76zM498.6 127.7h1.76v1.28h-1.76zM485.0 131.4h3.46v1.28h-3.46zM498.6 131.4h1.76v1.28h-1.76zM486.7 137.6h1.76v1.28h-1.76zM498.6 142.5h1.76v1.28h-1.76zM486.7 143.7h1.76v1.28h-1.76zM485.0 149.9h3.46v1.28h-3.46zM486.7 152.3h1.76v1.28h-1.76zM486.7 157.2h1.76v1.28h-1.76zM490.1 158.5h1.76v1.28h-1.76zM490.1 159.7h1.76v1.28h-1.76zM491.8 160.9h1.76v1.28h-1.76zM493.5 162.2h1.76v1.28h-1.76zM495.2 169.6h1.76v1.28h-1.76zM485.0 170.8h1.76v1.28h-1.76zM498.6 170.8h1.76v1.28h-1.76zM491.8 172.0h1.76v1.28h-1.76zM495.2 172.0h1.76v1.28h-1.76zM495.2 175.7h1.76v1.28h-1.76zM488.4 179.4h3.46v1.28h-3.46zM493.5 180.6h1.76v1.28h-1.76zM488.4 181.8h1.76v1.28h-1.76zM485.0 191.7h1.76v1.28h-1.76zM490.1 191.7h1.76v1.28h-1.76zM493.5 191.7h1.76v1.28h-1.76zM490.1 192.9h1.76v1.28h-1.76zM493.5 196.6h1.76v1.28h-1.76zM485.0 200.3h1.76v1.28h-1.76zM485.0 201.5h3.46v1.28h-3.46zM485.0 202.8h1.76v1.28h-1.76zM488.4 202.8h1.76v1.28h-1.76zM485.0 204.0h1.76v1.28h-1.76zM488.4 204.0h1.76v1.28h-1.76zM493.5 210.1h1.76v1.28h-1.76zM488.4 217.5h1.76v1.28h-1.76zM491.8 218.8h1.76v1.28h-1.76zM488.4 223.7h1.76v1.28h-1.76zM488.4 224.9h1.76v1.28h-1.76zM486.7 229.8h1.76v1.28h-1.76zM493.5 229.8h1.76v1.28h-1.76zM488.4 232.3h1.76v1.28h-1.76zM495.2 233.5h1.76v1.28h-1.76zM485.0 237.2h1.76v1.28h-1.76zM481.5 280.2h3.46v1.28h-3.46zM479.8 283.9h1.76v1.28h-1.76zM473.0 286.4h1.76v1.28h-1.76zM474.7 287.6h1.76v1.28h-1.76zM469.6 311.0h1.76v1.28h-1.76zM474.7 311.0h1.76v1.28h-1.76zM478.1 311.0h1.76v1.28h-1.76zM473.0 324.5h1.76v1.28h-1.76zM478.1 324.5h1.76v1.28h-1.76zM471.3 327.0h1.76v1.28h-1.76zM469.6 328.2h1.76v1.28h-1.76zM469.6 335.6h1.76v1.28h-1.76zM476.4 338.1h3.46v1.28h-3.46zM479.8 339.3h1.76v1.28h-1.76zM481.5 340.5h1.76v1.28h-1.76zM473.0 349.1h1.76v1.28h-1.76zM473.0 351.6h1.76v1.28h-1.76zM469.6 357.7h1.76v1.28h-1.76zM483.2 363.9h1.76v1.28h-1.76zM471.3 365.1h3.46v1.28h-3.46zM479.8 365.1h1.76v1.28h-1.76zM471.3 367.6h1.76v1.28h-1.76zM473.0 368.8h1.76v1.28h-1.76zM469.6 379.9h1.76v1.28h-1.76zM476.4 381.1h1.76v1.28h-1.76zM478.1 384.8h1.76v1.28h-1.76zM473.0 386.0h1.76v1.28h-1.76zM473.0 391.0h1.76v1.28h-1.76zM469.6 399.6h1.76v1.28h-1.76zM471.3 405.7h3.46v1.28h-3.46zM471.3 406.9h3.46v1.28h-3.46zM469.6 414.3h1.76v1.28h-1.76zM473.0 415.5h1.76v1.28h-1.76zM476.4 415.5h1.76v1.28h-1.76zM474.7 416.8h1.76v1.28h-1.76zM476.4 425.4h1.76v1.28h-1.76zM478.1 441.4h1.76v1.28h-1.76zM483.2 448.8h1.76v1.28h-1.76zM476.4 452.5h1.76v1.28h-1.76zM476.4 453.7h1.76v1.28h-1.76zM474.7 454.9h1.76v1.28h-1.76zM479.8 456.1h1.76v1.28h-1.76zM478.1 457.4h1.76v1.28h-1.76zM478.1 467.2h1.76v1.28h-1.76zM474.7 477.0h3.46v1.28h-3.46zM478.1 478.3h1.76v1.28h-1.76zM474.7 479.5h3.46v1.28h-3.46zM479.8 479.5h1.76v1.28h-1.76zM474.7 480.7h1.76v1.28h-1.76zM469.6 489.4h1.76v1.28h-1.76zM479.8 494.3h3.46v1.28h-3.46zM479.8 495.5h1.76v1.28h-1.76zM483.2 495.5h1.76v1.28h-1.76zM471.3 498.0h1.76v1.28h-1.76zM481.5 498.0h1.76v1.28h-1.76zM469.6 501.6h3.46v1.28h-3.46zM474.7 504.1h1.76v1.28h-1.76zM469.6 505.3h1.76v1.28h-1.76zM469.6 509.0h1.76v1.28h-1.76zM471.3 510.3h1.76v1.28h-1.76zM469.6 515.2h1.76v1.28h-1.76zM469.6 522.6h3.46v1.28h-3.46zM474.7 522.6h1.76v1.28h-1.76zM476.4 525.0h1.76v1.28h-1.76zM478.1 527.5h1.76v1.28h-1.76zM476.4 533.6h1.76v1.28h-1.76zM474.7 534.9h1.76v1.28h-1.76zM483.2 541.0h1.76v1.28h-1.76zM479.8 542.2h1.76v1.28h-1.76zM481.5 545.9h1.76v1.28h-1.76zM481.5 548.4h1.76v1.28h-1.76zM471.3 549.6h1.76v1.28h-1.76zM469.6 550.9h1.76v1.28h-1.76zM473.0 550.9h1.76v1.28h-1.76zM474.7 552.1h1.76v1.28h-1.76zM479.8 552.1h1.76v1.28h-1.76zM479.8 554.5h5.17v1.28h-5.17zM476.4 558.2h1.76v1.28h-1.76zM471.3 571.8h1.76v1.28h-1.76zM479.8 575.4h1.76v1.28h-1.76zM476.4 580.4h1.76v1.28h-1.76z"/><path fill="#bcb6dc" d="M471.3 94.5h3.46v1.28h-3.46zM469.6 95.8h1.76v1.28h-1.76zM469.6 104.4h3.46v1.28h-3.46zM478.1 104.4h1.76v1.28h-1.76zM469.6 133.9h1.76v1.28h-1.76zM473.0 133.9h1.76v1.28h-1.76zM469.6 135.1h1.76v1.28h-1.76zM478.1 142.5h1.76v1.28h-1.76zM474.7 167.1h1.76v1.28h-1.76zM476.4 168.3h1.76v1.28h-1.76zM479.8 221.2h1.76v1.28h-1.76zM488.4 247.0h1.76v1.28h-1.76zM488.4 263.0h1.76v1.28h-1.76zM486.7 265.5h1.76v1.28h-1.76zM485.0 309.8h3.46v1.28h-3.46zM490.1 335.6h1.76v1.28h-1.76zM493.5 336.8h1.76v1.28h-1.76zM493.5 359.0h1.76v1.28h-1.76zM491.8 362.7h1.76v1.28h-1.76zM491.8 393.4h1.76v1.28h-1.76zM491.8 394.6h1.76v1.28h-1.76zM491.8 395.9h3.46v1.28h-3.46zM493.5 410.6h1.76v1.28h-1.76zM485.0 413.1h5.17v1.28h-5.17zM490.1 432.8h1.76v1.28h-1.76zM490.1 440.1h1.76v1.28h-1.76zM493.5 440.1h1.76v1.28h-1.76zM493.5 453.7h1.76v1.28h-1.76zM493.5 454.9h1.76v1.28h-1.76zM485.0 459.8h1.76v1.28h-1.76zM488.4 466.0h1.76v1.28h-1.76zM485.0 467.2h1.76v1.28h-1.76zM488.4 467.2h1.76v1.28h-1.76zM485.0 490.6h5.17v1.28h-5.17zM485.0 496.7h1.76v1.28h-1.76zM486.7 521.3h1.76v1.28h-1.76zM486.7 522.6h3.46v1.28h-3.46zM485.0 523.8h1.76v1.28h-1.76zM485.0 571.8h1.76v1.28h-1.76zM488.4 571.8h1.76v1.28h-1.76zM488.4 574.2h1.76v1.28h-1.76z"/><path fill="#ee878c" d="M488.4 97.0h1.76v1.28h-1.76zM488.4 98.2h1.76v1.28h-1.76zM486.7 125.3h3.46v1.28h-3.46zM486.7 126.5h1.76v1.28h-1.76zM485.0 129.0h1.76v1.28h-1.76zM488.4 129.0h1.76v1.28h-1.76zM488.4 130.2h1.76v1.28h-1.76zM488.4 131.4h1.76v1.28h-1.76zM485.0 151.1h3.46v1.28h-3.46zM488.4 152.3h1.76v1.28h-1.76zM490.1 157.2h1.76v1.28h-1.76zM493.5 157.2h1.76v1.28h-1.76zM491.8 158.5h3.46v1.28h-3.46zM495.2 170.8h1.76v1.28h-1.76zM491.8 191.7h1.76v1.28h-1.76zM493.5 192.9h1.76v1.28h-1.76zM490.1 194.1h3.46v1.28h-3.46zM488.4 201.5h1.76v1.28h-1.76zM486.7 205.2h3.46v1.28h-3.46zM491.8 222.4h1.76v1.28h-1.76zM485.0 223.7h3.46v1.28h-3.46zM491.8 223.7h1.76v1.28h-1.76zM485.0 224.9h1.76v1.28h-1.76zM488.4 227.4h1.76v1.28h-1.76zM479.8 282.7h5.17v1.28h-5.17zM481.5 291.3h1.76v1.28h-1.76zM469.6 327.0h1.76v1.28h-1.76zM473.0 327.0h1.76v1.28h-1.76zM473.0 328.2h1.76v1.28h-1.76zM471.3 334.4h1.76v1.28h-1.76zM471.3 366.4h1.76v1.28h-1.76zM469.6 368.8h1.76v1.28h-1.76zM478.1 454.9h1.76v1.28h-1.76zM478.1 458.6h1.76v1.28h-1.76zM474.7 467.2h3.46v1.28h-3.46zM474.7 468.4h1.76v1.28h-1.76zM478.1 468.4h1.76v1.28h-1.76zM476.4 478.3h1.76v1.28h-1.76zM478.1 479.5h1.76v1.28h-1.76zM478.1 480.7h1.76v1.28h-1.76zM483.2 494.3h1.76v1.28h-1.76zM481.5 496.7h3.46v1.28h-3.46zM479.8 498.0h1.76v1.28h-1.76zM483.2 498.0h1.76v1.28h-1.76zM473.0 501.6h1.76v1.28h-1.76zM469.6 502.9h1.76v1.28h-1.76zM473.0 502.9h1.76v1.28h-1.76zM473.0 504.1h1.76v1.28h-1.76zM471.3 505.3h1.76v1.28h-1.76zM471.3 515.2h3.46v1.28h-3.46zM471.3 516.4h3.46v1.28h-3.46zM469.6 521.3h5.17v1.28h-5.17zM473.0 522.6h1.76v1.28h-1.76zM471.3 548.4h1.76v1.28h-1.76zM481.5 552.1h3.46v1.28h-3.46zM483.2 553.3h1.76v1.28h-1.76zM479.8 555.8h1.76v1.28h-1.76z"/><path fill="#8076bc" d="M469.6 98.2h1.76v1.28h-1.76zM473.0 100.7h1.76v1.28h-1.76zM474.7 103.1h3.46v1.28h-3.46zM469.6 108.0h1.76v1.28h-1.76zM474.7 109.3h1.76v1.28h-1.76zM473.0 113.0h1.76v1.28h-1.76zM474.7 116.7h1.76v1.28h-1.76zM476.4 127.7h1.76v1.28h-1.76zM473.0 129.0h1.76v1.28h-1.76zM478.1 132.6h1.76v1.28h-1.76zM473.0 136.3h1.76v1.28h-1.76zM471.3 137.6h3.46v1.28h-3.46zM478.1 141.3h1.76v1.28h-1.76zM479.8 158.5h1.76v1.28h-1.76zM483.2 168.3h1.76v1.28h-1.76zM481.5 169.6h1.76v1.28h-1.76zM481.5 170.8h3.46v1.28h-3.46zM469.6 221.2h1.76v1.28h-1.76zM479.8 244.6h1.76v1.28h-1.76zM490.1 248.3h1.76v1.28h-1.76zM490.1 250.7h1.76v1.28h-1.76zM488.4 253.2h1.76v1.28h-1.76zM488.4 264.3h1.76v1.28h-1.76zM486.7 267.9h1.76v1.28h-1.76zM485.0 274.1h1.76v1.28h-1.76zM486.7 285.2h1.76v1.28h-1.76zM488.4 287.6h1.76v1.28h-1.76zM485.0 288.9h1.76v1.28h-1.76zM496.9 288.9h1.76v1.28h-1.76zM495.2 291.3h1.76v1.28h-1.76zM493.5 296.2h1.76v1.28h-1.76zM491.8 297.5h1.76v1.28h-1.76zM498.6 299.9h1.76v1.28h-1.76zM496.9 303.6h1.76v1.28h-1.76zM486.7 304.9h1.76v1.28h-1.76zM488.4 311.0h1.76v1.28h-1.76zM490.1 314.7h3.46v1.28h-3.46zM493.5 319.6h1.76v1.28h-1.76zM493.5 320.8h1.76v1.28h-1.76zM490.1 328.2h1.76v1.28h-1.76zM496.9 328.2h1.76v1.28h-1.76zM495.2 334.4h1.76v1.28h-1.76zM486.7 336.8h1.76v1.28h-1.76zM485.0 354.0h3.46v1.28h-3.46zM490.1 354.0h1.76v1.28h-1.76zM486.7 355.3h3.46v1.28h-3.46zM493.5 355.3h1.76v1.28h-1.76zM485.0 356.5h1.76v1.28h-1.76zM491.8 371.3h1.76v1.28h-1.76zM491.8 381.1h3.46v1.28h-3.46zM490.1 387.3h1.76v1.28h-1.76zM493.5 387.3h1.76v1.28h-1.76zM486.7 388.5h1.76v1.28h-1.76zM491.8 411.9h1.76v1.28h-1.76zM493.5 419.2h1.76v1.28h-1.76zM493.5 420.5h1.76v1.28h-1.76zM491.8 424.2h1.76v1.28h-1.76zM488.4 426.6h1.76v1.28h-1.76zM486.7 437.7h1.76v1.28h-1.76zM488.4 440.1h1.76v1.28h-1.76zM496.9 442.6h1.76v1.28h-1.76zM490.1 477.0h1.76v1.28h-1.76zM485.0 479.5h1.76v1.28h-1.76zM490.1 479.5h1.76v1.28h-1.76zM486.7 486.9h1.76v1.28h-1.76zM491.8 495.5h1.76v1.28h-1.76zM488.4 507.8h1.76v1.28h-1.76zM485.0 516.4h1.76v1.28h-1.76zM488.4 516.4h1.76v1.28h-1.76zM495.2 521.3h1.76v1.28h-1.76zM495.2 522.6h1.76v1.28h-1.76zM491.8 523.8h1.76v1.28h-1.76zM485.0 525.0h3.46v1.28h-3.46zM488.4 528.7h1.76v1.28h-1.76zM485.0 529.9h1.76v1.28h-1.76zM490.1 532.4h1.76v1.28h-1.76zM493.5 532.4h1.76v1.28h-1.76zM491.8 533.6h1.76v1.28h-1.76zM493.5 539.8h1.76v1.28h-1.76zM486.7 543.5h1.76v1.28h-1.76zM493.5 550.9h3.46v1.28h-3.46zM485.0 553.3h1.76v1.28h-1.76zM485.0 554.5h1.76v1.28h-1.76zM488.4 555.8h1.76v1.28h-1.76zM490.1 564.4h1.76v1.28h-1.76zM491.8 566.8h1.76v1.28h-1.76zM496.9 568.1h1.76v1.28h-1.76z"/><path fill="#948cc7" d="M473.0 98.2h1.76v1.28h-1.76zM471.3 99.4h1.76v1.28h-1.76zM471.3 113.0h1.76v1.28h-1.76zM471.3 114.2h1.76v1.28h-1.76zM474.7 127.7h1.76v1.28h-1.76zM471.3 129.0h1.76v1.28h-1.76zM479.8 142.5h3.46v1.28h-3.46zM479.8 170.8h1.76v1.28h-1.76zM490.1 254.4h3.46v1.28h-3.46zM493.5 256.9h1.76v1.28h-1.76zM498.6 288.9h1.76v1.28h-1.76zM495.2 290.1h1.76v1.28h-1.76zM498.6 290.1h1.76v1.28h-1.76zM486.7 311.0h1.76v1.28h-1.76zM493.5 311.0h1.76v1.28h-1.76zM490.1 312.2h5.17v1.28h-5.17zM490.1 313.5h1.76v1.28h-1.76zM490.1 315.9h1.76v1.28h-1.76zM493.5 315.9h1.76v1.28h-1.76zM490.1 318.4h1.76v1.28h-1.76zM491.8 331.9h3.46v1.28h-3.46zM493.5 333.1h1.76v1.28h-1.76zM490.1 352.8h1.76v1.28h-1.76zM488.4 356.5h1.76v1.28h-1.76zM490.1 386.0h1.76v1.28h-1.76zM491.8 387.3h1.76v1.28h-1.76zM490.1 420.5h1.76v1.28h-1.76zM490.1 494.3h1.76v1.28h-1.76zM493.5 494.3h1.76v1.28h-1.76zM490.1 495.5h1.76v1.28h-1.76zM496.9 522.6h1.76v1.28h-1.76zM488.4 525.0h1.76v1.28h-1.76zM493.5 533.6h1.76v1.28h-1.76zM486.7 553.3h3.46v1.28h-3.46zM488.4 554.5h1.76v1.28h-1.76zM488.4 561.9h1.76v1.28h-1.76zM485.0 563.1h1.76v1.28h-1.76zM493.5 564.4h1.76v1.28h-1.76z"/><path fill="#f2b3b9" d="M486.7 99.4h1.76v1.28h-1.76zM490.1 101.9h1.76v1.28h-1.76zM486.7 105.6h1.76v1.28h-1.76zM485.0 120.3h1.76v1.28h-1.76zM486.7 121.6h3.46v1.28h-3.46zM495.2 138.8h1.76v1.28h-1.76zM495.2 140.0h1.76v1.28h-1.76zM498.6 140.0h1.76v1.28h-1.76zM488.4 162.2h1.76v1.28h-1.76zM496.9 168.3h1.76v1.28h-1.76zM493.5 175.7h1.76v1.28h-1.76zM485.0 196.6h3.46v1.28h-3.46zM490.1 202.8h1.76v1.28h-1.76zM488.4 206.4h1.76v1.28h-1.76zM496.9 211.4h3.46v1.28h-3.46zM495.2 212.6h1.76v1.28h-1.76zM498.6 212.6h1.76v1.28h-1.76zM496.9 213.8h1.76v1.28h-1.76zM495.2 220.0h1.76v1.28h-1.76zM498.6 221.2h1.76v1.28h-1.76zM485.0 222.4h1.76v1.28h-1.76zM495.2 222.4h1.76v1.28h-1.76zM495.2 228.6h1.76v1.28h-1.76zM495.2 229.8h3.46v1.28h-3.46zM493.5 237.2h1.76v1.28h-1.76zM493.5 240.9h1.76v1.28h-1.76zM491.8 242.1h1.76v1.28h-1.76zM491.8 244.6h1.76v1.28h-1.76zM476.4 292.5h1.76v1.28h-1.76zM469.6 293.8h1.76v1.28h-1.76zM474.7 293.8h1.76v1.28h-1.76zM478.1 293.8h1.76v1.28h-1.76zM474.7 303.6h1.76v1.28h-1.76zM476.4 304.9h3.46v1.28h-3.46zM478.1 306.1h1.76v1.28h-1.76zM476.4 308.5h1.76v1.28h-1.76zM469.6 313.5h1.76v1.28h-1.76zM469.6 314.7h1.76v1.28h-1.76zM469.6 318.4h5.17v1.28h-5.17zM483.2 327.0h1.76v1.28h-1.76zM479.8 336.8h1.76v1.28h-1.76zM483.2 336.8h1.76v1.28h-1.76zM483.2 338.1h1.76v1.28h-1.76zM478.1 379.9h1.76v1.28h-1.76zM481.5 388.5h3.46v1.28h-3.46zM481.5 391.0h1.76v1.28h-1.76zM481.5 392.2h1.76v1.28h-1.76zM481.5 393.4h1.76v1.28h-1.76zM483.2 395.9h1.76v1.28h-1.76zM473.0 408.2h1.76v1.28h-1.76zM469.6 409.4h1.76v1.28h-1.76zM478.1 409.4h1.76v1.28h-1.76zM474.7 410.6h1.76v1.28h-1.76zM483.2 410.6h1.76v1.28h-1.76zM483.2 421.7h1.76v1.28h-1.76zM481.5 422.9h1.76v1.28h-1.76zM481.5 427.9h1.76v1.28h-1.76zM469.6 429.1h1.76v1.28h-1.76zM483.2 429.1h1.76v1.28h-1.76zM469.6 430.3h5.17v1.28h-5.17zM483.2 430.3h1.76v1.28h-1.76zM479.8 438.9h1.76v1.28h-1.76zM483.2 438.9h1.76v1.28h-1.76zM481.5 441.4h1.76v1.28h-1.76zM479.8 442.6h3.46v1.28h-3.46zM476.4 447.5h3.46v1.28h-3.46zM474.7 448.8h3.46v1.28h-3.46zM479.8 457.4h5.17v1.28h-5.17zM469.6 462.3h1.76v1.28h-1.76zM473.0 462.3h1.76v1.28h-1.76zM473.0 483.2h1.76v1.28h-1.76zM473.0 484.4h1.76v1.28h-1.76zM483.2 484.4h1.76v1.28h-1.76zM483.2 485.7h1.76v1.28h-1.76zM473.0 523.8h1.76v1.28h-1.76zM479.8 528.7h1.76v1.28h-1.76zM483.2 528.7h1.76v1.28h-1.76zM479.8 529.9h1.76v1.28h-1.76zM479.8 533.6h1.76v1.28h-1.76zM483.2 533.6h1.76v1.28h-1.76zM479.8 536.1h1.76v1.28h-1.76zM483.2 544.7h1.76v1.28h-1.76zM478.1 552.1h1.76v1.28h-1.76zM476.4 560.7h3.46v1.28h-3.46zM481.5 560.7h1.76v1.28h-1.76zM481.5 561.9h1.76v1.28h-1.76zM474.7 566.8h5.17v1.28h-5.17zM474.7 568.1h3.46v1.28h-3.46zM469.6 569.3h1.76v1.28h-1.76zM479.8 580.4h1.76v1.28h-1.76z"/><path fill="#6c61b2" d="M476.4 126.5h3.46v1.28h-3.46zM478.1 127.7h1.76v1.28h-1.76zM483.2 169.6h1.76v1.28h-1.76zM469.6 220.0h5.17v1.28h-5.17zM471.3 221.2h3.46v1.28h-3.46zM486.7 270.4h1.76v1.28h-1.76zM486.7 283.9h1.76v1.28h-1.76zM485.0 286.4h1.76v1.28h-1.76zM488.4 286.4h1.76v1.28h-1.76zM486.7 287.6h1.76v1.28h-1.76zM486.7 288.9h3.46v1.28h-3.46zM490.1 297.5h1.76v1.28h-1.76zM491.8 313.5h1.76v1.28h-1.76zM491.8 315.9h1.76v1.28h-1.76zM491.8 330.7h3.46v1.28h-3.46zM491.8 333.1h1.76v1.28h-1.76zM485.0 355.3h1.76v1.28h-1.76zM495.2 356.5h1.76v1.28h-1.76zM490.1 381.1h1.76v1.28h-1.76zM485.0 515.2h5.17v1.28h-5.17zM485.0 517.6h1.76v1.28h-1.76zM498.6 522.6h1.76v1.28h-1.76zM491.8 532.4h1.76v1.28h-1.76zM491.8 564.4h1.76v1.28h-1.76z"/>
<rect x="465.8" y="246.4" width="37.2" height="33" fill="none" stroke="#c85050" stroke-width="0.7"/>
<text x="0" y="0" font-size="6.8" fill="#c43a4a" font-style="italic" transform="translate(507.3,238.9) rotate(90)">Acyl-Carnitines</text>
<text x="486.5" y="590.0" font-size="6.75" text-anchor="middle" fill="#333" stroke="#333" stroke-width="0.12" font-style="italic" font-weight="normal" >Lipidomics</text>
<text x="7.5" y="16.95" font-size="12.2" font-weight="bold" fill="#111">F</text>
<rect x="1.5" y="1.5" width="517" height="646" fill="none" stroke="#e2e2e2" stroke-width="1"/>
<rect x="0.5" y="0.5" width="519" height="648" fill="none" stroke="#474747" stroke-width="1"/>
</svg></body></html>
